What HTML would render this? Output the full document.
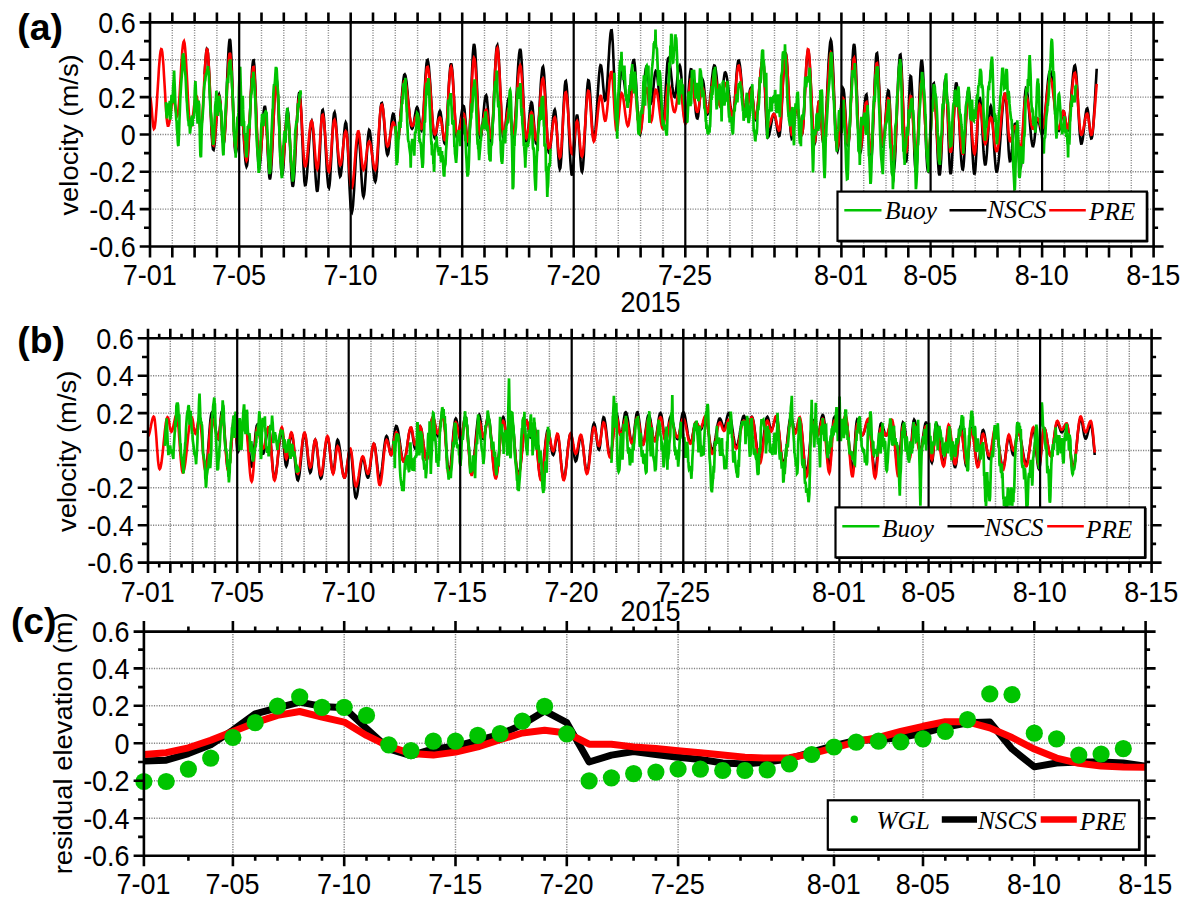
<!DOCTYPE html>
<html lang="en"><head><meta charset="utf-8"><title>Figure</title>
<style>html,body{margin:0;padding:0;background:#fff}svg{display:block}</style></head>
<body>
<svg width="1192" height="910" viewBox="0 0 1192 910" font-family="'Liberation Sans',Arial,Helvetica,sans-serif" fill="#000">
<rect width="1192" height="910" fill="#fff"/>
<g>
<path d="M150.0 59.7H1153.6M150.0 97.1H1153.6M150.0 134.4H1153.6M150.0 171.8H1153.6M150.0 209.1H1153.6M172.3 22.4V246.5M194.6 22.4V246.5M216.9 22.4V246.5M261.5 22.4V246.5M283.8 22.4V246.5M306.1 22.4V246.5M328.4 22.4V246.5M373.0 22.4V246.5M395.3 22.4V246.5M417.6 22.4V246.5M439.9 22.4V246.5M484.5 22.4V246.5M506.8 22.4V246.5M529.1 22.4V246.5M551.4 22.4V246.5M596.0 22.4V246.5M618.3 22.4V246.5M640.6 22.4V246.5M663.0 22.4V246.5M707.6 22.4V246.5M729.9 22.4V246.5M752.2 22.4V246.5M774.5 22.4V246.5M796.8 22.4V246.5M819.1 22.4V246.5M863.7 22.4V246.5M886.0 22.4V246.5M908.3 22.4V246.5M952.9 22.4V246.5M975.2 22.4V246.5M997.5 22.4V246.5M1019.8 22.4V246.5M1064.4 22.4V246.5M1086.7 22.4V246.5M1109.0 22.4V246.5M1131.3 22.4V246.5" stroke="#858585" stroke-width="1.45" stroke-dasharray="1.2 1.3" fill="none"/>
<g fill="none" stroke-linejoin="miter" stroke-miterlimit="3" stroke-linecap="butt" stroke-width="2.6">
<polyline stroke="#000" points="204.6,74.4 205.2,64.8 205.8,56.9 206.3,51.5 206.9,48.8 207.4,49.3 208.0,53.6 208.5,61.5 209.1,72.3 209.7,85.3 210.2,99.3 210.8,113.4 211.3,126.4 211.9,137.2 212.4,145.1 213.0,149.4 213.6,149.9 214.1,147.7 214.7,143.1 215.2,136.7 215.8,129.0 216.3,120.6 216.9,112.4 217.5,105.2 218.0,99.4 218.6,95.7 219.1,94.5 219.7,96.4 220.3,101.7 220.8,109.7 221.4,119.1 221.9,128.6 222.5,136.6 223.0,141.9 223.6,143.8 224.2,141.7 224.7,135.7 225.3,126.3 225.8,114.1 226.4,100.1 226.9,85.4 227.5,71.2 228.1,58.6 228.6,48.5 229.2,41.8 229.7,38.9 230.3,40.5 230.8,47.1 231.4,58.1 232.0,72.5 232.5,89.1 233.1,106.3 233.6,122.5 234.2,136.4 234.7,146.6 235.3,152.2 235.9,152.9 236.4,150.7 237.0,146.3 237.5,140.1 238.1,132.8 238.7,125.2 239.2,118.1 239.8,112.2 240.3,108.2 240.9,106.5 241.4,107.4 242.0,111.1 242.6,117.3 243.1,125.4 243.7,134.6 244.2,144.0 244.8,152.6 245.3,159.7 245.9,164.5 246.5,166.5 247.0,165.5 247.6,161.1 248.1,153.7 248.7,143.7 249.2,131.7 249.8,118.6 250.4,105.1 250.9,92.1 251.5,80.5 252.0,70.9 252.6,64.1 253.1,60.4 253.7,60.2 254.3,64.9 254.8,74.4 255.4,87.8 255.9,103.8 256.5,120.7 257.1,137.0 257.6,151.0 258.2,161.4 258.7,167.1 259.3,167.8 259.8,165.3 260.4,160.2 261.0,153.1 261.5,144.4 262.1,135.1 262.6,125.9 263.2,117.8 263.7,111.4 264.3,107.3 264.9,105.9 265.4,108.1 266.0,114.5 266.5,124.2 267.1,136.2 267.6,148.9 268.2,160.9 268.8,170.7 269.3,177.1 269.9,179.3 270.4,177.5 271.0,172.3 271.5,164.0 272.1,153.3 272.7,140.8 273.2,127.5 273.8,114.3 274.3,102.1 274.9,91.8 275.5,84.1 276.0,79.6 276.6,78.5 277.1,81.8 277.7,89.6 278.2,101.0 278.8,114.9 279.4,130.0 279.9,144.9 280.5,157.9 281.0,168.0 281.6,174.0 282.1,175.5 282.7,173.2 283.3,168.0 283.8,160.4 284.4,151.0 284.9,140.8 285.5,130.8 286.0,122.0 286.6,115.3 287.2,111.2 287.7,110.3 288.3,113.3 288.8,120.5 289.4,130.8 289.9,143.2 290.5,156.2 291.1,168.3 291.6,178.2 292.2,184.5 292.7,186.7 293.3,185.1 293.8,180.4 294.4,172.9 295.0,163.1 295.5,151.7 296.1,139.4 296.6,127.1 297.2,115.7 297.8,105.9 298.3,98.4 298.9,93.7 299.4,92.1 300.0,94.2 300.5,100.3 301.1,110.0 301.7,122.2 302.2,136.0 302.8,150.0 303.3,163.0 303.9,173.9 304.4,181.5 305.0,185.3 305.6,185.2 306.1,182.6 306.7,177.9 307.2,171.4 307.8,163.6 308.3,155.1 308.9,146.4 309.5,138.2 310.0,131.1 310.6,125.6 311.1,122.2 311.7,121.0 312.2,122.7 312.8,127.8 313.4,135.6 313.9,145.5 314.5,156.4 315.0,167.3 315.6,177.2 316.2,185.0 316.7,190.1 317.3,191.8 317.8,189.6 318.4,183.3 318.9,173.5 319.5,161.3 320.1,148.0 320.6,135.0 321.2,123.6 321.7,115.1 322.3,110.4 322.8,109.9 323.4,112.6 324.0,118.2 324.5,126.1 325.1,135.9 325.6,146.6 326.2,157.6 326.7,167.8 327.3,176.6 327.9,183.2 328.4,187.1 329.0,188.0 329.5,185.4 330.1,179.3 330.6,170.5 331.2,159.6 331.8,147.8 332.3,136.2 332.9,126.0 333.4,118.1 334.0,113.4 334.6,112.3 335.1,114.3 335.7,119.1 336.2,126.1 336.8,134.9 337.3,144.4 337.9,154.0 338.5,162.7 339.0,169.8 339.6,174.6 340.1,176.6 340.7,175.8 341.2,172.4 341.8,166.8 342.4,159.5 342.9,151.2 343.5,142.7 344.0,134.9 344.6,128.5 345.1,124.2 345.7,122.4 346.3,123.6 346.8,128.8 347.4,137.6 347.9,149.0 348.5,162.1 349.0,175.8 349.6,188.6 350.2,199.6 350.7,207.7 351.3,212.1 351.8,212.7 352.4,210.3 353.0,205.4 353.5,198.3 354.1,189.6 354.6,179.8 355.2,169.6 355.7,159.6 356.3,150.6 356.9,143.2 357.4,137.8 358.0,134.9 358.5,134.7 359.1,137.9 359.6,144.4 360.2,153.2 360.8,163.5 361.3,174.1 361.9,183.6 362.4,191.1 363.0,195.7 363.5,196.8 364.1,194.7 364.7,189.7 365.2,182.4 365.8,173.3 366.3,163.4 366.9,153.5 367.4,144.4 368.0,137.1 368.6,132.1 369.1,130.0 369.7,130.7 370.2,133.4 370.8,138.1 371.3,144.2 371.9,151.3 372.5,158.8 373.0,166.1 373.6,172.5 374.1,177.4 374.7,180.6 375.3,181.7 375.8,180.3 376.4,176.0 376.9,169.4 377.5,160.7 378.0,150.7 378.6,140.1 379.2,129.6 379.7,120.0 380.3,112.1 380.8,106.4 381.4,103.2 381.9,102.9 382.5,105.0 383.1,109.3 383.6,115.3 384.2,122.6 384.7,130.4 385.3,138.1 385.8,145.0 386.4,150.4 387.0,153.8 387.5,155.0 388.1,154.1 388.6,151.3 389.2,147.0 389.7,141.6 390.3,135.5 390.9,129.3 391.4,123.5 392.0,118.7 392.5,115.4 393.1,113.7 393.7,113.9 394.2,116.3 394.8,120.5 395.3,125.7 395.9,131.1 396.4,135.8 397.0,138.9 397.6,140.1 398.1,139.1 398.7,136.2 399.2,131.5 399.8,125.4 400.3,118.3 400.9,110.4 401.5,102.4 402.0,94.6 402.6,87.6 403.1,81.8 403.7,77.5 404.2,74.9 404.8,74.3 405.4,75.4 405.9,78.0 406.5,81.8 407.0,86.8 407.6,92.7 408.1,99.0 408.7,105.5 409.3,111.7 409.8,117.4 410.4,122.2 410.9,125.8 411.5,128.1 412.1,128.8 412.6,128.2 413.2,126.4 413.7,123.6 414.3,120.2 414.8,116.5 415.4,113.0 416.0,110.1 416.5,108.1 417.1,107.2 417.6,107.8 418.2,110.3 418.7,114.2 419.3,118.9 419.9,123.7 420.4,127.6 421.0,130.1 421.5,130.7 422.1,128.6 422.6,123.7 423.2,116.4 423.8,107.4 424.3,97.3 424.9,87.0 425.4,77.5 426.0,69.4 426.5,63.5 427.1,60.3 427.7,59.9 428.2,61.9 428.8,66.0 429.3,71.9 429.9,79.4 430.5,87.9 431.0,97.1 431.6,106.4 432.1,115.3 432.7,123.2 433.2,129.8 433.8,134.6 434.4,137.5 434.9,138.2 435.5,137.1 436.0,134.5 436.6,130.8 437.1,126.4 437.7,121.8 438.3,117.5 438.8,114.0 439.4,111.7 439.9,110.9 440.5,112.0 441.0,114.9 441.6,119.5 442.2,125.0 442.7,130.8 443.3,136.2 443.8,140.5 444.4,143.1 444.9,143.7 445.5,141.5 446.1,136.4 446.6,128.7 447.2,119.0 447.7,108.1 448.3,96.9 448.8,86.2 449.4,76.9 450.0,69.6 450.5,65.1 451.1,63.5 451.6,65.1 452.2,69.6 452.8,76.8 453.3,86.0 453.9,96.5 454.4,107.3 455.0,117.6 455.5,126.5 456.1,133.2 456.7,137.2 457.2,138.2 457.8,137.3 458.3,135.4 458.9,132.5 459.4,128.8 460.0,124.6 460.6,120.3 461.1,116.1 461.7,112.3 462.2,109.2 462.8,107.0 463.3,106.0 463.9,106.4 464.5,109.3 465.0,114.6 465.6,121.3 466.1,128.7 466.7,135.7 467.2,141.3 467.8,144.8 468.4,145.6 468.9,142.3 469.5,134.8 470.0,123.7 470.6,109.9 471.2,94.8 471.7,79.6 472.3,65.9 472.8,54.7 473.4,47.2 473.9,44.0 474.5,45.1 475.1,49.8 475.6,57.7 476.2,68.2 476.7,80.5 477.3,93.7 477.8,106.6 478.4,118.3 479.0,127.9 479.5,134.6 480.1,137.9 480.6,137.8 481.2,135.7 481.7,131.9 482.3,126.7 482.9,120.6 483.4,114.1 484.0,107.9 484.5,102.5 485.1,98.3 485.6,95.9 486.2,95.3 486.8,97.3 487.3,102.1 487.9,108.9 488.4,116.9 489.0,125.2 489.6,132.6 490.1,138.2 490.7,141.4 491.2,141.6 491.8,138.2 492.3,131.4 492.9,121.5 493.5,109.5 494.0,96.3 494.6,82.8 495.1,70.2 495.7,59.4 496.2,51.2 496.8,46.4 497.4,45.3 497.9,47.8 498.5,53.8 499.0,62.7 499.6,73.9 500.1,86.5 500.7,99.5 501.3,111.9 501.8,122.7 502.4,131.1 502.9,136.4 503.5,138.2 504.0,137.1 504.6,134.1 505.2,129.3 505.7,123.4 506.3,116.9 506.8,110.6 507.4,105.0 508.0,100.9 508.5,98.6 509.1,98.5 509.6,101.5 510.2,107.3 510.7,114.9 511.3,123.1 511.9,130.5 512.4,135.8 513.0,138.1 513.5,137.3 514.1,133.9 514.6,128.1 515.2,120.1 515.8,110.6 516.3,100.1 516.9,89.2 517.4,78.5 518.0,68.8 518.5,60.5 519.1,54.2 519.7,50.3 520.2,48.9 520.8,50.9 521.3,56.6 521.9,65.5 522.4,77.0 523.0,90.0 523.6,103.5 524.1,116.3 524.7,127.3 525.2,135.7 525.8,140.7 526.4,141.9 526.9,140.4 527.5,137.0 528.0,132.0 528.6,125.9 529.1,119.4 529.7,113.2 530.3,108.0 530.8,104.2 531.4,102.3 531.9,102.7 532.5,105.8 533.0,111.2 533.6,118.3 534.2,126.1 534.7,133.4 535.3,139.2 535.8,142.9 536.4,143.7 536.9,141.9 537.5,137.6 538.1,131.0 538.6,122.7 539.2,113.2 539.7,103.2 540.3,93.3 540.8,84.2 541.4,76.6 542.0,70.9 542.5,67.5 543.1,66.7 543.6,69.3 544.2,75.2 544.7,84.1 545.3,95.1 545.9,107.4 546.4,119.9 547.0,131.5 547.5,141.3 548.1,148.5 548.7,152.5 549.2,153.0 549.8,151.2 550.3,147.7 550.9,142.6 551.4,136.6 552.0,130.1 552.6,123.7 553.1,118.0 553.7,113.5 554.2,110.6 554.8,109.6 555.3,111.3 555.9,116.3 556.5,123.9 557.0,133.3 557.6,143.5 558.1,153.1 558.7,161.2 559.2,166.7 559.8,169.1 560.4,167.9 560.9,162.8 561.5,154.3 562.0,143.1 562.6,130.3 563.1,116.9 563.7,104.4 564.3,93.6 564.8,85.7 565.4,81.4 565.9,81.0 566.5,84.3 567.1,91.0 567.6,100.7 568.2,112.4 568.7,125.4 569.3,138.7 569.8,151.0 570.4,161.6 571.0,169.6 571.5,174.3 572.1,175.5 572.6,173.0 573.2,167.3 573.7,159.1 574.3,149.2 574.9,138.9 575.4,129.3 576.0,121.5 576.5,116.4 577.1,114.7 577.6,116.5 578.2,121.6 578.8,129.5 579.3,139.2 579.9,149.3 580.4,158.7 581.0,166.1 581.5,170.6 582.1,171.7 582.7,169.4 583.2,163.9 583.8,155.6 584.3,145.1 584.9,133.3 585.5,120.9 586.0,108.9 586.6,98.1 587.1,89.3 587.7,83.2 588.2,80.2 588.8,80.5 589.4,83.9 589.9,90.2 590.5,98.5 591.0,108.0 591.6,117.8 592.1,126.7 592.7,133.8 593.3,138.5 593.8,140.1 594.4,138.9 594.9,135.3 595.5,129.7 596.0,122.4 596.6,113.8 597.2,104.4 597.7,95.0 598.3,86.0 598.8,78.1 599.4,71.7 599.9,67.3 600.5,65.2 601.1,65.5 601.6,68.4 602.2,73.5 602.7,80.1 603.3,87.1 603.9,93.4 604.4,98.2 605.0,100.6 605.5,100.3 606.1,97.3 606.6,91.8 607.2,84.2 607.8,75.2 608.3,65.4 608.9,55.5 609.4,46.5 610.0,38.9 610.5,33.4 611.1,30.4 611.7,30.3 612.2,34.7 612.8,43.5 613.3,55.7 613.9,69.9 614.4,84.4 615.0,97.6 615.6,107.9 616.1,114.2 616.7,115.7 617.2,113.9 617.8,109.7 618.3,103.7 618.9,96.4 619.5,88.8 620.0,81.7 620.6,76.0 621.1,72.2 621.7,71.0 622.2,71.6 622.8,73.4 623.4,76.3 623.9,79.9 624.5,84.2 625.0,88.6 625.6,92.9 626.2,96.7 626.7,99.8 627.3,101.8 627.8,102.7 628.4,102.1 628.9,99.6 629.5,95.5 630.1,90.0 630.6,83.8 631.2,77.4 631.7,71.2 632.3,66.0 632.8,62.2 633.4,60.1 634.0,60.0 634.5,62.6 635.1,67.9 635.6,75.5 636.2,84.8 636.7,95.0 637.3,105.4 637.9,115.2 638.4,123.5 639.0,129.8 639.5,133.5 640.1,134.4 640.6,132.7 641.2,128.6 641.8,122.5 642.3,114.8 642.9,106.0 643.4,96.9 644.0,88.0 644.6,80.0 645.1,73.6 645.7,69.1 646.2,66.9 646.8,67.1 647.3,69.8 647.9,74.5 648.5,80.7 649.0,87.4 649.6,93.7 650.1,98.8 650.7,101.9 651.2,102.7 651.8,101.1 652.4,97.6 652.9,92.6 653.5,86.8 654.0,81.0 654.6,76.0 655.1,72.5 655.7,71.0 656.3,71.5 656.8,73.6 657.4,77.1 657.9,81.9 658.5,87.7 659.0,94.1 659.6,100.7 660.2,107.2 660.7,113.1 661.3,118.1 661.8,121.9 662.4,124.3 663.0,125.1 663.5,123.3 664.1,118.2 664.6,110.2 665.2,100.2 665.7,89.3 666.3,78.6 666.9,69.3 667.4,62.4 668.0,58.5 668.5,58.0 669.1,59.4 669.6,62.2 670.2,66.1 670.8,71.0 671.3,76.4 671.9,81.9 672.4,87.0 673.0,91.4 673.5,94.7 674.1,96.6 674.7,97.1 675.2,95.8 675.8,92.8 676.3,88.5 676.9,83.4 677.4,78.0 678.0,73.0 678.6,68.9 679.1,66.3 679.7,65.4 680.2,66.7 680.8,70.5 681.4,76.5 681.9,84.2 682.5,92.7 683.0,101.5 683.6,109.6 684.1,116.3 684.7,121.1 685.3,123.4 685.8,123.1 686.4,120.2 686.9,115.0 687.5,108.0 688.0,99.8 688.6,91.2 689.2,83.2 689.7,76.5 690.3,71.7 690.8,69.3 691.4,69.4 691.9,71.5 692.5,75.4 693.1,80.7 693.6,87.0 694.2,93.8 694.7,100.7 695.3,107.0 695.8,112.3 696.4,116.1 697.0,118.2 697.5,118.4 698.1,116.4 698.6,112.4 699.2,106.8 699.7,100.3 700.3,93.7 700.9,87.7 701.4,82.9 702.0,80.1 702.5,79.4 703.1,80.8 703.7,84.0 704.2,88.7 704.8,94.3 705.3,100.1 705.9,105.6 706.4,110.0 707.0,112.9 707.6,113.9 708.1,113.1 708.7,110.9 709.2,107.2 709.8,102.5 710.3,96.9 710.9,90.9 711.5,84.7 712.0,78.9 712.6,73.8 713.1,69.7 713.7,66.9 714.2,65.5 714.8,65.7 715.4,67.5 715.9,71.0 716.5,75.6 717.0,81.2 717.6,87.1 718.1,92.9 718.7,98.2 719.3,102.4 719.8,105.2 720.4,106.4 720.9,105.7 721.5,102.7 722.1,97.9 722.6,91.9 723.2,85.5 723.7,79.7 724.3,75.2 724.8,72.7 725.4,72.4 726.0,73.4 726.5,75.5 727.1,78.6 727.6,82.6 728.2,87.1 728.7,92.0 729.3,97.0 729.9,101.9 730.4,106.3 731.0,110.1 731.5,113.0 732.1,114.9 732.6,115.8 733.2,115.0 733.8,111.8 734.3,106.4 734.9,99.4 735.4,91.4 736.0,83.0 736.5,75.2 737.1,68.4 737.7,63.5 738.2,60.8 738.8,60.5 739.3,62.0 739.9,65.3 740.5,70.0 741.0,75.8 741.6,82.5 742.1,89.4 742.7,96.3 743.2,102.7 743.8,108.1 744.4,112.3 744.9,114.9 745.5,115.8 746.0,115.1 746.6,113.1 747.1,110.0 747.7,106.1 748.3,101.8 748.8,97.4 749.4,93.5 749.9,90.4 750.5,88.4 751.0,87.8 751.6,89.0 752.2,92.4 752.7,97.6 753.3,103.6 753.8,109.7 754.4,114.9 754.9,118.3 755.5,119.5 756.1,118.7 756.6,116.2 757.2,112.2 757.7,107.0 758.3,100.7 758.9,93.9 759.4,86.8 760.0,79.9 760.5,73.5 761.1,68.0 761.6,63.8 762.2,61.0 762.8,59.8 763.3,61.3 763.9,67.5 764.4,77.6 765.0,90.3 765.5,104.1 766.1,117.2 766.7,128.0 767.2,135.0 767.8,137.4 768.3,137.0 768.9,135.6 769.4,133.5 770.0,130.8 770.6,127.6 771.1,124.4 771.7,121.2 772.2,118.3 772.8,116.1 773.3,114.6 773.9,113.9 774.5,114.3 775.0,116.0 775.6,118.7 776.1,122.1 776.7,125.9 777.2,129.6 777.8,132.8 778.4,135.1 778.9,136.2 779.5,135.8 780.0,132.5 780.6,126.4 781.2,118.0 781.7,107.9 782.3,96.8 782.8,85.6 783.4,75.0 783.9,65.9 784.5,58.8 785.1,54.4 785.6,52.8 786.2,54.5 786.7,59.4 787.3,67.2 787.8,77.2 788.4,88.6 789.0,100.6 789.5,112.2 790.1,122.6 790.6,130.8 791.2,136.3 791.7,138.7 792.3,138.1 792.9,135.5 793.4,131.3 794.0,126.0 794.5,120.3 795.1,114.8 795.6,110.4 796.2,107.5 796.8,106.4 797.3,107.2 797.9,109.6 798.4,113.2 799.0,117.6 799.6,122.4 800.1,126.9 800.7,130.7 801.2,133.3 801.8,134.4 802.3,133.4 802.9,129.2 803.5,122.1 804.0,112.8 804.6,101.8 805.1,90.1 805.7,78.6 806.2,68.1 806.8,59.6 807.4,53.6 807.9,50.7 808.5,51.0 809.0,54.7 809.6,61.5 810.1,70.9 810.7,82.2 811.3,94.6 811.8,107.1 812.4,119.0 812.9,129.2 813.5,137.1 814.0,142.1 814.6,143.8 815.2,142.2 815.7,137.5 816.3,130.5 816.8,122.3 817.4,114.1 818.0,107.1 818.5,102.5 819.1,100.8 819.6,102.5 820.2,107.1 820.7,114.1 821.3,122.3 821.9,130.5 822.4,137.5 823.0,142.2 823.5,143.8 824.1,142.3 824.6,138.0 825.2,131.1 825.8,122.0 826.3,111.2 826.9,99.3 827.4,87.0 828.0,75.0 828.5,63.9 829.1,54.5 829.7,47.1 830.2,42.2 830.8,40.2 831.3,41.4 831.9,46.6 832.4,55.4 833.0,67.1 833.6,80.8 834.1,95.7 834.7,110.6 835.2,124.3 835.8,136.0 836.4,144.8 836.9,150.0 837.5,151.2 838.0,149.2 838.6,144.5 839.1,137.6 839.7,129.1 840.3,119.7 840.8,110.3 841.4,101.8 841.9,94.9 842.5,90.2 843.0,88.2 843.6,89.3 844.2,93.9 844.7,101.5 845.3,111.1 845.8,121.4 846.4,131.2 846.9,139.3 847.5,144.6 848.1,146.4 848.6,144.2 849.2,138.0 849.7,128.1 850.3,115.4 850.8,101.1 851.4,86.2 852.0,72.1 852.5,60.0 853.1,50.7 853.6,45.3 854.2,44.0 854.8,47.2 855.3,54.7 855.9,65.9 856.4,79.8 857.0,95.3 857.5,111.1 858.1,125.8 858.7,138.2 859.2,147.3 859.8,152.3 860.3,152.9 860.9,150.9 861.4,146.7 862.0,140.8 862.6,133.5 863.1,125.4 863.7,117.3 864.2,109.6 864.8,103.1 865.3,98.1 865.9,95.2 866.5,94.6 867.0,98.2 867.6,106.4 868.1,118.0 868.7,131.1 869.2,143.9 869.8,154.3 870.4,160.8 870.9,162.4 871.5,159.2 872.0,151.6 872.6,140.4 873.1,126.4 873.7,110.8 874.3,95.0 874.8,80.2 875.4,67.8 875.9,58.7 876.5,53.7 877.1,53.2 877.6,57.0 878.2,64.7 878.7,75.7 879.3,88.9 879.8,103.0 880.4,117.0 881.0,129.4 881.5,139.1 882.1,145.4 882.6,147.5 883.2,146.2 883.7,142.4 884.3,136.5 884.9,129.0 885.4,120.6 886.0,112.0 886.5,104.0 887.1,97.4 887.6,92.7 888.2,90.4 888.8,91.0 889.3,96.1 889.9,105.2 890.4,117.3 891.0,131.0 891.5,144.7 892.1,156.7 892.7,165.9 893.2,170.9 893.8,171.5 894.3,167.9 894.9,160.6 895.5,150.0 896.0,136.9 896.6,122.2 897.1,106.8 897.7,91.9 898.2,78.4 898.8,67.3 899.4,59.2 899.9,54.9 900.5,54.5 901.0,58.9 901.6,67.8 902.1,80.3 902.7,95.3 903.3,111.6 903.8,127.5 904.4,141.7 904.9,152.9 905.5,160.0 906.0,162.5 906.6,159.5 907.2,150.9 907.7,137.9 908.3,122.3 908.8,106.2 909.4,92.0 909.9,81.4 910.5,76.1 911.1,76.6 911.6,82.6 912.2,93.4 912.7,107.6 913.3,123.7 913.9,139.8 914.4,154.1 915.0,164.8 915.5,170.8 916.1,171.4 916.6,166.9 917.2,157.7 917.8,144.8 918.3,129.2 918.9,112.4 919.4,95.9 920.0,81.2 920.5,69.7 921.1,62.3 921.7,59.7 922.2,61.8 922.8,67.8 923.3,77.2 923.9,89.5 924.4,103.7 925.0,118.8 925.6,133.7 926.1,147.2 926.7,158.5 927.2,166.6 927.8,171.1 928.3,171.5 928.9,167.6 929.5,159.8 930.0,148.8 930.6,135.8 931.1,121.9 931.7,108.6 932.3,97.1 932.8,88.6 933.4,83.9 933.9,83.4 934.5,87.2 935.0,94.7 935.6,105.4 936.2,118.3 936.7,132.1 937.3,145.7 937.8,157.8 938.4,167.4 938.9,173.4 939.5,175.5 940.1,173.5 940.6,167.5 941.2,158.2 941.7,146.2 942.3,132.6 942.8,118.5 943.4,105.2 944.0,93.7 944.5,84.9 945.1,79.7 945.6,78.5 946.2,82.4 946.7,91.3 947.3,104.3 947.9,119.8 948.4,136.1 949.0,151.2 949.5,163.5 950.1,171.5 950.6,174.2 951.2,172.0 951.8,165.5 952.3,155.3 952.9,142.5 953.4,128.4 954.0,114.2 954.6,101.4 955.1,91.3 955.7,84.8 956.2,82.5 956.8,84.1 957.3,88.8 957.9,96.2 958.5,105.8 959.0,116.8 959.6,128.6 960.1,140.2 960.7,150.8 961.2,159.5 961.8,165.9 962.4,169.4 962.9,169.6 963.5,166.4 964.0,159.8 964.6,150.6 965.1,139.4 965.7,127.4 966.3,115.5 966.8,105.0 967.4,96.7 967.9,91.4 968.5,89.6 969.0,91.4 969.6,96.6 970.2,104.8 970.7,115.3 971.3,127.2 971.8,139.5 972.4,151.2 973.0,161.3 973.5,168.9 974.1,173.5 974.6,174.5 975.2,171.4 975.7,164.2 976.3,153.7 976.9,141.1 977.4,128.0 978.0,115.7 978.5,105.8 979.1,99.3 979.6,97.1 980.2,98.8 980.8,103.6 981.3,111.1 981.9,120.6 982.4,131.2 983.0,141.7 983.5,151.2 984.1,158.8 984.7,163.6 985.2,165.3 985.8,163.8 986.3,159.6 986.9,153.0 987.4,144.7 988.0,135.6 988.6,126.4 989.1,118.1 989.7,111.5 990.2,107.3 990.8,105.9 991.4,107.4 991.9,111.7 992.5,118.5 993.0,127.2 993.6,136.8 994.1,146.7 994.7,155.9 995.3,163.5 995.8,168.9 996.4,171.6 996.9,171.5 997.5,169.7 998.0,166.3 998.6,161.4 999.2,155.4 999.7,148.3 1000.3,140.6 1000.8,132.6 1001.4,124.5 1001.9,116.8 1002.5,109.8 1003.1,103.7 1003.6,98.9 1004.2,95.5 1004.7,93.7 1005.3,93.7 1005.8,97.5 1006.4,105.1 1007.0,115.5 1007.5,127.4 1008.1,139.4 1008.6,149.8 1009.2,157.4 1009.8,161.2 1010.3,161.1 1010.9,158.8 1011.4,154.5 1012.0,148.9 1012.5,142.6 1013.1,136.2 1013.7,130.6 1014.2,126.4 1014.8,124.0 1015.3,123.8 1015.9,125.9 1016.4,130.1 1017.0,136.0 1017.6,142.9 1018.1,150.2 1018.7,157.0 1019.2,162.6 1019.8,166.4 1020.3,168.0 1020.9,166.8 1021.5,161.8 1022.0,153.6 1022.6,142.8 1023.1,130.6 1023.7,118.2 1024.2,106.7 1024.8,97.3 1025.4,90.9 1025.9,88.2 1026.5,88.7 1027.0,91.1 1027.6,95.2 1028.1,100.6 1028.7,107.2 1029.3,114.3 1029.8,121.7 1030.4,128.8 1030.9,135.1 1031.5,140.3 1032.1,144.0 1032.6,146.1 1033.2,146.2 1033.7,144.5 1034.3,141.2 1034.8,136.6 1035.4,131.4 1036.0,126.5 1036.5,122.3 1037.1,119.5 1037.6,118.6 1038.2,119.2 1038.7,120.9 1039.3,123.5 1039.9,126.5 1040.4,129.6 1041.0,132.1 1041.5,133.8 1042.1,134.4 1042.6,133.7 1043.2,131.5 1043.8,127.9 1044.3,123.1 1044.9,117.4 1045.4,110.9 1046.0,104.1 1046.5,97.2 1047.1,90.6 1047.7,84.5 1048.2,79.3 1048.8,75.2 1049.3,72.4 1049.9,71.1 1050.5,71.2 1051.0,72.6 1051.6,75.2 1052.1,78.9 1052.7,83.6 1053.2,88.9 1053.8,94.9 1054.4,101.0 1054.9,107.2 1055.5,113.1 1056.0,118.5 1056.6,123.1 1057.1,126.9 1057.7,129.5 1058.3,130.9 1058.8,131.0 1059.4,129.9 1059.9,127.6 1060.5,124.5 1061.0,121.0 1061.6,117.5 1062.2,114.4 1062.7,112.2 1063.3,111.0 1063.8,111.3 1064.4,113.2 1064.9,116.6 1065.5,120.8 1066.1,125.0 1066.6,128.4 1067.2,130.4 1067.7,130.6 1068.3,128.9 1068.9,125.5 1069.4,120.6 1070.0,114.4 1070.5,107.2 1071.1,99.6 1071.6,91.8 1072.2,84.5 1072.8,77.8 1073.3,72.3 1073.9,68.3 1074.4,65.9 1075.0,65.4 1075.5,67.4 1076.1,72.1 1076.7,79.2 1077.2,88.1 1077.8,98.2 1078.3,108.8 1078.9,119.1 1079.4,128.3 1080.0,135.8 1080.6,141.0 1081.1,143.6 1081.7,143.5 1082.2,141.8 1082.8,138.6 1083.3,134.3 1083.9,129.2 1084.5,123.9 1085.0,118.8 1085.6,114.3 1086.1,110.9 1086.7,108.8 1087.3,108.4 1087.8,110.1 1088.4,114.2 1088.9,119.8 1089.5,126.0 1090.0,131.8 1090.6,136.3 1091.2,138.5 1091.7,138.3 1092.3,135.9 1092.8,131.3 1093.4,124.8 1093.9,116.8 1094.5,107.6 1095.1,97.7 1095.6,87.6 1096.2,77.8 1096.7,68.8"/>
<polyline stroke="#ff0000" points="150.0,97.1 150.6,98.6 151.1,102.8 151.7,108.9 152.2,115.7 152.8,122.1 153.3,126.7 153.9,128.8 154.5,128.1 155.0,125.2 155.6,120.3 156.1,113.6 156.7,105.5 157.2,96.4 157.8,87.0 158.4,77.6 158.9,68.9 159.5,61.3 160.0,55.3 160.6,51.1 161.2,49.1 161.7,49.4 162.3,52.3 162.8,57.5 163.4,64.8 163.9,73.7 164.5,83.5 165.1,93.5 165.6,103.2 166.2,111.8 166.7,118.7 167.3,123.5 167.8,125.8 168.4,125.8 169.0,124.2 169.5,121.4 170.1,117.7 170.6,113.4 171.2,109.0 171.7,105.0 172.3,101.8 172.9,99.7 173.4,99.0 174.0,99.8 174.5,102.3 175.1,105.8 175.6,109.7 176.2,113.0 176.8,115.2 177.3,115.7 177.9,113.9 178.4,109.7 179.0,103.4 179.6,95.4 180.1,86.2 180.7,76.5 181.2,66.9 181.8,58.1 182.3,50.7 182.9,45.1 183.5,41.9 184.0,41.1 184.6,43.2 185.1,48.0 185.7,55.3 186.2,64.5 186.8,75.1 187.4,86.3 187.9,97.3 188.5,107.4 189.0,115.9 189.6,122.3 190.1,126.0 190.7,127.0 191.3,126.0 191.8,123.7 192.4,120.2 192.9,116.0 193.5,111.4 194.0,106.7 194.6,102.5 195.2,99.1 195.7,96.8 196.3,95.8 196.8,96.7 197.4,100.2 197.9,105.7 198.5,112.3 199.1,119.0 199.6,124.5 200.2,128.0 200.7,128.8 201.3,126.8 201.9,122.0 202.4,114.8 203.0,105.7 203.5,95.3 204.1,84.6 204.6,74.1 205.2,64.7 205.8,57.1 206.3,51.8 206.9,49.2 207.4,49.6 208.0,53.7 208.5,61.2 209.1,71.6 209.7,83.9 210.2,97.3 210.8,110.7 211.3,123.0 211.9,133.4 212.4,140.9 213.0,145.0 213.6,145.5 214.1,143.5 214.7,139.5 215.2,133.9 215.8,127.2 216.3,119.9 216.9,112.8 217.5,106.4 218.0,101.4 218.6,98.2 219.1,97.1 219.7,98.8 220.3,103.7 220.8,110.9 221.4,119.5 221.9,128.1 222.5,135.4 223.0,140.2 223.6,141.9 224.2,140.2 224.7,135.1 225.3,127.1 225.8,116.7 226.4,104.8 226.9,92.4 227.5,80.3 228.1,69.6 228.6,61.1 229.2,55.3 229.7,52.9 230.3,54.2 230.8,59.8 231.4,69.1 232.0,81.3 232.5,95.3 233.1,109.8 233.6,123.5 234.2,135.3 234.7,143.9 235.3,148.6 235.9,149.2 236.4,147.3 237.0,143.4 237.5,137.9 238.1,131.5 238.7,124.8 239.2,118.6 239.8,113.4 240.3,109.9 240.9,108.3 241.4,109.1 242.0,112.4 242.6,117.8 243.1,124.8 243.7,132.8 244.2,141.0 244.8,148.5 245.3,154.6 245.9,158.8 246.5,160.5 247.0,159.6 247.6,155.8 248.1,149.3 248.7,140.5 249.2,129.9 249.8,118.4 250.4,106.5 250.9,95.1 251.5,84.9 252.0,76.5 252.6,70.5 253.1,67.2 253.7,67.0 254.3,71.2 254.8,79.6 255.4,91.5 255.9,105.6 256.5,120.6 257.1,135.0 257.6,147.4 258.2,156.5 258.7,161.6 259.3,162.3 259.8,160.3 260.4,156.4 261.0,150.7 261.5,144.0 262.1,136.7 262.6,129.6 263.2,123.2 263.7,118.2 264.3,115.0 264.9,113.9 265.4,115.6 266.0,120.5 266.5,127.9 267.1,137.1 267.6,146.8 268.2,155.9 268.8,163.4 269.3,168.2 269.9,169.9 270.4,168.4 271.0,164.0 271.5,156.9 272.1,147.8 272.7,137.2 273.2,125.8 273.8,114.6 274.3,104.2 274.9,95.4 275.5,88.9 276.0,85.0 276.6,84.1 277.1,87.0 277.7,93.7 278.2,103.5 278.8,115.6 279.4,128.7 279.9,141.5 280.5,152.8 281.0,161.5 281.6,166.7 282.1,168.0 282.7,166.2 283.3,162.1 283.8,155.9 284.4,148.4 284.9,140.3 285.5,132.3 286.0,125.3 286.6,119.8 287.2,116.6 287.7,115.8 288.3,118.2 288.8,123.6 289.4,131.4 289.9,140.8 290.5,150.6 291.1,159.8 291.6,167.2 292.2,172.0 292.7,173.7 293.3,172.4 293.8,168.5 294.4,162.5 295.0,154.5 295.5,145.3 296.1,135.4 296.6,125.5 297.2,116.2 297.8,108.3 298.3,102.2 298.9,98.4 299.4,97.1 300.0,98.7 300.5,103.2 301.1,110.4 301.7,119.5 302.2,129.7 302.8,140.1 303.3,149.8 303.9,157.8 304.4,163.5 305.0,166.3 305.6,166.3 306.1,164.5 306.7,161.2 307.2,156.6 307.8,151.1 308.3,145.0 308.9,138.9 309.5,133.1 310.0,128.1 310.6,124.3 311.1,121.8 311.7,121.0 312.2,122.2 312.8,125.6 313.4,130.9 313.9,137.7 314.5,145.1 315.0,152.5 315.6,159.3 316.2,164.6 316.7,168.0 317.3,169.2 317.8,167.7 318.4,163.6 318.9,157.1 319.5,149.0 320.1,140.1 320.6,131.5 321.2,123.9 321.7,118.3 322.3,115.2 322.8,114.8 323.4,116.8 324.0,120.9 324.5,126.7 325.1,133.8 325.6,141.6 326.2,149.6 326.7,157.0 327.3,163.4 327.9,168.2 328.4,171.1 329.0,171.7 329.5,170.0 330.1,165.8 330.6,159.7 331.2,152.2 331.8,144.1 332.3,136.2 332.9,129.1 333.4,123.8 334.0,120.5 334.6,119.7 335.1,121.2 335.7,124.5 336.2,129.5 336.8,135.7 337.3,142.5 337.9,149.3 338.5,155.4 339.0,160.4 339.6,163.8 340.1,165.2 340.7,164.7 341.2,162.6 341.8,159.1 342.4,154.5 342.9,149.2 343.5,143.9 344.0,139.0 344.6,135.0 345.1,132.3 345.7,131.1 346.3,131.9 346.8,135.2 347.4,140.7 347.9,147.9 348.5,156.1 349.0,164.7 349.6,172.8 350.2,179.7 350.7,184.8 351.3,187.6 351.8,187.9 352.4,186.2 353.0,182.6 353.5,177.5 354.1,171.2 354.6,164.0 355.2,156.6 355.7,149.4 356.3,142.8 356.9,137.4 357.4,133.6 358.0,131.4 358.5,131.3 359.1,133.3 359.6,137.3 360.2,142.8 360.8,149.2 361.3,155.8 361.9,161.7 362.4,166.4 363.0,169.2 363.5,169.9 364.1,169.0 364.7,166.9 365.2,163.8 365.8,159.9 366.3,155.6 366.9,151.4 367.4,147.5 368.0,144.4 368.6,142.3 369.1,141.4 369.7,141.7 370.2,143.3 370.8,145.8 371.3,149.2 371.9,153.2 372.5,157.3 373.0,161.3 373.6,164.8 374.1,167.6 374.7,169.3 375.3,169.9 375.8,168.7 376.4,165.3 376.9,159.7 377.5,152.6 378.0,144.3 378.6,135.5 379.2,126.8 379.7,118.9 380.3,112.3 380.8,107.6 381.4,105.0 381.9,104.7 382.5,106.4 383.1,109.8 383.6,114.7 384.2,120.5 384.7,126.7 385.3,132.9 385.8,138.4 386.4,142.7 387.0,145.5 387.5,146.4 388.1,145.9 388.6,144.3 389.2,141.8 389.7,138.6 390.3,135.1 390.9,131.5 391.4,128.1 392.0,125.3 392.5,123.4 393.1,122.4 393.7,122.6 394.2,124.0 394.8,126.5 395.3,129.6 395.9,132.8 396.4,135.6 397.0,137.5 397.6,138.2 398.1,137.3 398.7,134.8 399.2,130.7 399.8,125.4 400.3,119.1 400.9,112.2 401.5,105.2 402.0,98.4 402.6,92.3 403.1,87.2 403.7,83.4 404.2,81.2 404.8,80.7 405.4,81.6 405.9,83.7 406.5,86.9 407.0,91.1 407.6,95.9 408.1,101.2 408.7,106.6 409.3,111.8 409.8,116.5 410.4,120.5 410.9,123.5 411.5,125.4 412.1,126.0 412.6,125.7 413.2,124.8 413.7,123.3 414.3,121.5 414.8,119.6 415.4,117.7 416.0,116.2 416.5,115.1 417.1,114.7 417.6,115.0 418.2,116.5 418.7,118.9 419.3,121.8 419.9,124.6 420.4,127.0 421.0,128.5 421.5,128.8 422.1,127.0 422.6,122.7 423.2,116.3 423.8,108.4 424.3,99.6 424.9,90.6 425.4,82.2 426.0,75.1 426.5,70.0 427.1,67.1 427.7,66.8 428.2,68.5 428.8,72.0 429.3,77.2 429.9,83.6 430.5,91.0 431.0,98.9 431.6,107.0 432.1,114.6 432.7,121.5 433.2,127.2 433.8,131.4 434.4,133.8 434.9,134.4 435.5,133.7 436.0,132.1 436.6,129.8 437.1,127.0 437.7,124.1 438.3,121.4 438.8,119.2 439.4,117.8 439.9,117.3 440.5,118.0 441.0,120.1 441.6,123.2 442.2,127.0 442.7,131.1 443.3,134.8 443.8,137.8 444.4,139.6 444.9,140.0 445.5,138.0 446.1,133.3 446.6,126.2 447.2,117.4 447.7,107.5 448.3,97.2 448.8,87.4 449.4,78.9 450.0,72.3 450.5,68.1 451.1,66.7 451.6,68.1 452.2,72.2 452.8,78.8 453.3,87.1 453.9,96.6 454.4,106.4 455.0,115.8 455.5,123.8 456.1,129.9 456.7,133.5 457.2,134.4 457.8,133.9 458.3,132.6 458.9,130.8 459.4,128.4 460.0,125.7 460.6,122.9 461.1,120.1 461.7,117.7 462.2,115.7 462.8,114.3 463.3,113.6 463.9,113.9 464.5,116.0 465.0,119.7 465.6,124.6 466.1,129.8 466.7,134.8 467.2,138.8 467.8,141.3 468.4,141.8 468.9,139.2 469.5,133.0 470.0,123.8 470.6,112.4 471.2,99.9 471.7,87.4 472.3,76.0 472.8,66.8 473.4,60.6 473.9,58.0 474.5,58.8 475.1,62.7 475.6,69.1 476.2,77.6 476.7,87.6 477.3,98.3 477.8,108.8 478.4,118.3 479.0,126.1 479.5,131.5 480.1,134.2 480.6,134.2 481.2,133.0 481.7,130.8 482.3,127.8 482.9,124.3 483.4,120.5 484.0,116.9 484.5,113.8 485.1,111.4 485.6,110.0 486.2,109.6 486.8,110.9 487.3,113.8 487.9,118.0 488.4,122.9 489.0,127.9 489.6,132.5 490.1,135.9 490.7,137.9 491.2,137.9 491.8,134.7 492.3,128.3 492.9,119.1 493.5,107.9 494.0,95.5 494.6,82.9 495.1,71.1 495.7,61.0 496.2,53.4 496.8,48.9 497.4,47.9 497.9,50.2 498.5,55.8 499.0,64.1 499.6,74.5 500.1,86.3 500.7,98.4 501.3,109.9 501.8,120.0 502.4,127.8 502.9,132.8 503.5,134.4 504.0,133.8 504.6,131.7 505.2,128.6 505.7,124.8 506.3,120.5 506.8,116.4 507.4,112.8 508.0,110.1 508.5,108.6 509.1,108.5 509.6,110.4 510.2,114.2 510.7,119.2 511.3,124.6 511.9,129.4 512.4,132.9 513.0,134.4 513.5,133.8 514.1,131.1 514.6,126.6 515.2,120.5 515.8,113.1 516.3,105.0 516.9,96.5 517.4,88.3 518.0,80.7 518.5,74.3 519.1,69.4 519.7,66.4 520.2,65.4 520.8,66.9 521.3,71.3 521.9,78.4 522.4,87.3 523.0,97.5 523.6,108.1 524.1,118.1 524.7,126.8 525.2,133.3 525.8,137.2 526.4,138.2 526.9,137.2 527.5,135.0 528.0,131.7 528.6,127.7 529.1,123.5 529.7,119.5 530.3,116.0 530.8,113.6 531.4,112.3 531.9,112.6 532.5,114.6 533.0,118.3 533.6,123.0 534.2,128.2 534.7,133.1 535.3,137.0 535.8,139.4 536.4,140.0 536.9,138.5 537.5,135.1 538.1,129.9 538.6,123.2 539.2,115.6 539.7,107.6 540.3,99.7 540.8,92.5 541.4,86.3 542.0,81.8 542.5,79.1 543.1,78.5 543.6,80.5 544.2,85.4 544.7,92.6 545.3,101.6 545.9,111.6 546.4,121.7 547.0,131.2 547.5,139.2 548.1,145.1 548.7,148.3 549.2,148.7 549.8,147.4 550.3,144.9 550.9,141.2 551.4,136.8 552.0,132.1 552.6,127.5 553.1,123.3 553.7,120.1 554.2,118.0 554.8,117.3 555.3,118.4 555.9,121.8 556.5,127.0 557.0,133.4 557.6,140.3 558.1,146.9 558.7,152.3 559.2,156.1 559.8,157.7 560.4,156.8 560.9,153.1 561.5,146.7 562.0,138.4 562.6,128.9 563.1,119.0 563.7,109.7 564.3,101.7 564.8,95.8 565.4,92.6 565.9,92.3 566.5,94.4 567.1,98.8 567.6,105.1 568.2,112.8 568.7,121.2 569.3,129.8 569.8,137.9 570.4,144.8 571.0,150.0 571.5,153.1 572.1,153.8 572.6,152.5 573.2,149.4 573.7,145.0 574.3,139.7 574.9,134.1 575.4,128.9 576.0,124.7 576.5,122.0 577.1,121.0 577.6,122.1 578.2,125.3 578.8,130.2 579.3,136.2 579.9,142.5 580.4,148.3 581.0,152.9 581.5,155.8 582.1,156.4 582.7,154.8 583.2,150.8 583.8,144.9 584.3,137.4 584.9,128.9 585.5,120.1 586.0,111.5 586.6,103.7 587.1,97.5 587.7,93.1 588.2,90.9 588.8,91.2 589.4,94.1 589.9,99.4 590.5,106.4 591.0,114.4 591.6,122.6 592.1,130.1 592.7,136.1 593.3,140.0 593.8,141.4 594.4,140.6 594.9,138.5 595.5,135.1 596.0,130.6 596.6,125.4 597.2,119.7 597.7,114.0 598.3,108.5 598.8,103.7 599.4,99.9 599.9,97.2 600.5,95.9 601.1,96.1 601.6,98.2 602.2,101.8 602.7,106.4 603.3,111.3 603.9,115.8 604.4,119.1 605.0,120.8 605.5,120.7 606.1,118.6 606.6,114.7 607.2,109.5 607.8,103.2 608.3,96.4 608.9,89.5 609.4,83.2 610.0,78.0 610.5,74.1 611.1,72.1 611.7,72.0 612.2,75.0 612.8,81.1 613.3,89.6 613.9,99.4 614.4,109.4 615.0,118.5 615.6,125.7 616.1,130.0 616.7,131.0 617.2,129.5 617.8,126.0 618.3,120.9 618.9,114.8 619.5,108.4 620.0,102.4 620.6,97.6 621.1,94.5 621.7,93.4 622.2,94.0 622.8,95.9 623.4,98.8 623.9,102.6 624.5,107.0 625.0,111.5 625.6,116.0 626.2,119.9 626.7,123.0 627.3,125.1 627.8,126.0 628.4,125.4 628.9,122.9 629.5,118.8 630.1,113.4 630.6,107.2 631.2,100.7 631.7,94.6 632.3,89.4 632.8,85.6 633.4,83.4 634.0,83.2 634.5,85.0 635.1,88.5 635.6,93.5 636.2,99.7 636.7,106.5 637.3,113.3 637.9,119.8 638.4,125.3 639.0,129.5 639.5,132.0 640.1,132.5 640.6,131.4 641.2,128.7 641.8,124.7 642.3,119.6 642.9,113.8 643.4,107.7 644.0,101.9 644.6,96.6 645.1,92.3 645.7,89.4 646.2,87.9 646.8,88.2 647.3,90.7 647.9,95.1 648.5,100.8 649.0,107.1 649.6,113.0 650.1,117.7 650.7,120.6 651.2,121.3 651.8,119.8 652.4,116.3 652.9,111.3 653.5,105.5 654.0,99.7 654.6,94.7 655.1,91.2 655.7,89.7 656.3,90.0 656.8,91.5 657.4,94.1 657.9,97.6 658.5,101.7 659.0,106.4 659.6,111.2 660.2,115.8 660.7,120.1 661.3,123.8 661.8,126.5 662.4,128.3 663.0,128.8 663.5,127.7 664.1,124.2 664.6,118.9 665.2,112.2 665.7,105.0 666.3,97.9 666.9,91.7 667.4,87.0 668.0,84.5 668.5,84.1 669.1,85.1 669.6,87.1 670.2,89.9 670.8,93.4 671.3,97.2 671.9,101.2 672.4,104.8 673.0,107.9 673.5,110.3 674.1,111.7 674.7,112.0 675.2,111.0 675.8,108.8 676.3,105.5 676.9,101.6 677.4,97.4 678.0,93.6 678.6,90.5 679.1,88.5 679.7,87.8 680.2,88.6 680.8,90.9 681.4,94.6 681.9,99.3 682.5,104.6 683.0,110.0 683.6,115.0 684.1,119.1 684.7,122.0 685.3,123.5 685.8,123.2 686.4,120.9 686.9,116.6 687.5,110.9 688.0,104.3 688.6,97.3 689.2,90.8 689.7,85.4 690.3,81.5 690.8,79.5 691.4,79.6 691.9,81.0 692.5,83.5 693.1,87.0 693.6,91.2 694.2,95.7 694.7,100.2 695.3,104.4 695.8,107.9 696.4,110.4 697.0,111.8 697.5,111.9 698.1,110.7 698.6,108.2 699.2,104.7 699.7,100.7 700.3,96.6 700.9,92.9 701.4,90.0 702.0,88.2 702.5,87.8 703.1,88.8 703.7,91.0 704.2,94.3 704.8,98.2 705.3,102.4 705.9,106.2 706.4,109.3 707.0,111.3 707.6,112.0 708.1,111.4 708.7,109.7 709.2,106.9 709.8,103.2 710.3,99.0 710.9,94.3 711.5,89.6 712.0,85.1 712.6,81.2 713.1,78.0 713.7,75.9 714.2,74.8 714.8,74.9 715.4,76.4 715.9,79.0 716.5,82.6 717.0,86.9 717.6,91.5 718.1,96.0 718.7,100.0 719.3,103.3 719.8,105.5 720.4,106.4 720.9,105.9 721.5,103.9 722.1,100.6 722.6,96.5 723.2,92.2 723.7,88.2 724.3,85.1 724.8,83.4 725.4,83.2 726.0,83.9 726.5,85.5 727.1,87.9 727.6,90.8 728.2,94.2 728.7,97.9 729.3,101.7 729.9,105.3 730.4,108.7 731.0,111.5 731.5,113.7 732.1,115.2 732.6,115.8 733.2,115.0 733.8,112.1 734.3,107.3 734.9,100.9 735.4,93.6 736.0,86.0 736.5,78.8 737.1,72.7 737.7,68.2 738.2,65.8 738.8,65.5 739.3,66.9 739.9,69.9 740.5,74.1 741.0,79.5 741.6,85.5 742.1,91.8 742.7,98.1 743.2,103.9 743.8,108.8 744.4,112.6 744.9,115.0 745.5,115.8 746.0,115.1 746.6,113.3 747.1,110.4 747.7,106.7 748.3,102.7 748.8,98.7 749.4,95.0 749.9,92.1 750.5,90.3 751.0,89.6 751.6,90.7 752.2,93.7 752.7,98.3 753.3,103.6 753.8,109.0 754.4,113.5 754.9,116.6 755.5,117.6 756.1,116.8 756.6,114.4 757.2,110.6 757.7,105.5 758.3,99.5 758.9,92.8 759.4,85.9 760.0,79.2 760.5,73.0 761.1,67.7 761.6,63.6 762.2,60.9 762.8,59.8 763.3,61.1 763.9,66.5 764.4,75.2 765.0,86.2 765.5,98.1 766.1,109.5 766.7,118.8 767.2,124.9 767.8,127.0 768.3,126.7 768.9,126.0 769.4,124.8 770.0,123.3 770.6,121.5 771.1,119.7 771.7,117.9 772.2,116.4 772.8,115.1 773.3,114.3 773.9,113.9 774.5,114.2 775.0,115.4 775.6,117.5 776.1,120.0 776.7,122.9 777.2,125.7 777.8,128.0 778.4,129.8 778.9,130.6 779.5,130.2 780.0,127.2 780.6,121.6 781.2,113.9 781.7,104.7 782.3,94.5 782.8,84.2 783.4,74.5 783.9,66.1 784.5,59.6 785.1,55.5 785.6,54.1 786.2,55.7 786.7,60.3 787.3,67.5 787.8,76.9 788.4,87.6 789.0,98.8 789.5,109.7 790.1,119.3 790.6,127.0 791.2,132.2 791.7,134.4 792.3,133.9 792.9,131.7 793.4,128.0 794.0,123.4 794.5,118.5 795.1,113.7 795.6,109.9 796.2,107.3 796.8,106.4 797.3,107.2 797.9,109.6 798.4,113.2 799.0,117.6 799.6,122.4 800.1,126.9 800.7,130.7 801.2,133.3 801.8,134.4 802.3,133.4 802.9,129.1 803.5,121.9 804.0,112.4 804.6,101.2 805.1,89.3 805.7,77.6 806.2,66.9 806.8,58.2 807.4,52.2 807.9,49.2 808.5,49.5 809.0,53.2 809.6,60.0 810.1,69.3 810.7,80.6 811.3,92.9 811.8,105.4 812.4,117.2 812.9,127.4 813.5,135.3 814.0,140.2 814.6,141.9 815.2,140.4 815.7,135.9 816.3,129.2 816.8,121.4 817.4,113.5 818.0,106.9 818.5,102.4 819.1,100.8 819.6,102.4 820.2,106.9 820.7,113.5 821.3,121.4 821.9,129.2 822.4,135.9 823.0,140.4 823.5,141.9 824.1,140.7 824.6,137.0 825.2,131.0 825.8,123.2 826.3,113.9 826.9,103.7 827.4,93.1 828.0,82.8 828.5,73.3 829.1,65.1 829.7,58.8 830.2,54.6 830.8,52.9 831.3,53.9 831.9,58.4 832.4,65.8 833.0,75.8 833.6,87.5 834.1,100.2 834.7,112.8 835.2,124.6 835.8,134.6 836.4,142.0 836.9,146.4 837.5,147.5 838.0,145.9 838.6,142.3 839.1,136.9 839.7,130.2 840.3,122.9 840.8,115.5 841.4,108.9 841.9,103.5 842.5,99.8 843.0,98.3 843.6,99.1 844.2,102.8 844.7,108.7 845.3,116.2 845.8,124.2 846.4,131.9 846.9,138.2 847.5,142.4 848.1,143.8 848.6,142.0 849.2,136.7 849.7,128.4 850.3,117.8 850.8,105.8 851.4,93.4 852.0,81.6 852.5,71.4 853.1,63.6 853.6,59.0 854.2,58.0 854.8,60.6 855.3,66.9 855.9,76.3 856.4,88.0 857.0,101.0 857.5,114.2 858.1,126.5 858.7,136.9 859.2,144.5 859.8,148.7 860.3,149.2 860.9,147.6 861.4,144.2 862.0,139.4 862.6,133.6 863.1,127.1 863.7,120.5 864.2,114.3 864.8,109.1 865.3,105.1 865.9,102.7 866.5,102.2 867.0,104.9 867.6,111.1 868.1,119.8 868.7,129.6 869.2,139.2 869.8,147.0 870.4,151.9 870.9,153.0 871.5,150.4 872.0,144.2 872.6,135.0 873.1,123.5 873.7,110.6 874.3,97.6 874.8,85.5 875.4,75.2 875.9,67.7 876.5,63.6 877.1,63.2 877.6,66.5 878.2,73.1 878.7,82.4 879.3,93.7 879.8,105.8 880.4,117.7 881.0,128.3 881.5,136.6 882.1,142.0 882.6,143.8 883.2,142.8 883.7,139.8 884.3,135.1 884.9,129.1 885.4,122.4 886.0,115.6 886.5,109.2 887.1,104.0 887.6,100.2 888.2,98.4 888.8,98.9 889.3,102.8 889.9,109.7 890.4,119.0 891.0,129.4 891.5,139.9 892.1,149.1 892.7,156.1 893.2,159.9 893.8,160.3 894.3,157.4 894.9,151.4 895.5,142.8 896.0,132.1 896.6,120.0 897.1,107.5 897.7,95.3 898.2,84.2 898.8,75.1 899.4,68.6 899.9,65.0 900.5,64.7 901.0,68.3 901.6,75.6 902.1,85.8 902.7,98.2 903.3,111.4 903.8,124.5 904.4,136.1 904.9,145.3 905.5,151.1 906.0,153.1 906.6,151.1 907.2,145.5 907.7,136.9 908.3,126.6 908.8,116.0 909.4,106.6 909.9,99.6 910.5,96.1 911.1,96.4 911.6,100.2 912.2,107.1 912.7,116.1 913.3,126.3 913.9,136.6 914.4,145.6 915.0,152.4 915.5,156.2 916.1,156.6 916.6,153.5 917.2,147.3 917.8,138.5 918.3,127.9 918.9,116.5 919.4,105.3 920.0,95.3 920.5,87.4 921.1,82.4 921.7,80.7 922.2,82.1 922.8,86.1 923.3,92.6 923.9,100.9 924.4,110.6 925.0,120.8 925.6,130.9 926.1,140.1 926.7,147.8 927.2,153.3 927.8,156.4 928.3,156.6 928.9,153.9 929.5,148.4 930.0,140.7 930.6,131.5 931.1,121.8 931.7,112.4 932.3,104.3 932.8,98.3 933.4,95.0 933.9,94.7 934.5,97.4 935.0,102.9 935.6,110.7 936.2,120.0 936.7,130.0 937.3,139.9 937.8,148.7 938.4,155.6 938.9,160.0 939.5,161.5 940.1,160.0 940.6,155.5 941.2,148.4 941.7,139.3 942.3,128.9 942.8,118.2 943.4,108.1 944.0,99.3 944.5,92.7 945.1,88.8 945.6,87.8 946.2,90.4 946.7,96.5 947.3,105.3 947.9,115.8 948.4,126.8 949.0,137.0 949.5,145.3 950.1,150.7 950.6,152.6 951.2,151.1 951.8,146.9 952.3,140.4 952.9,132.1 953.4,123.0 954.0,113.8 954.6,105.6 955.1,99.0 955.7,94.8 956.2,93.4 956.8,94.5 957.3,97.7 957.9,102.8 958.5,109.4 959.0,117.1 959.6,125.3 960.1,133.3 960.7,140.6 961.2,146.7 961.8,151.1 962.4,153.5 962.9,153.7 963.5,151.4 964.0,146.9 964.6,140.4 965.1,132.7 965.7,124.4 966.3,116.2 966.8,108.9 967.4,103.1 967.9,99.5 968.5,98.2 969.0,99.4 969.6,102.8 970.2,108.2 970.7,115.0 971.3,122.8 971.8,130.9 972.4,138.5 973.0,145.1 973.5,150.1 974.1,153.1 974.6,153.8 975.2,151.8 975.7,147.2 976.3,140.6 976.9,132.6 977.4,124.2 978.0,116.4 978.5,110.1 979.1,106.0 979.6,104.6 980.2,105.5 980.8,108.3 981.3,112.7 981.9,118.1 982.4,124.2 983.0,130.2 983.5,135.7 984.1,140.0 984.7,142.8 985.2,143.8 985.8,143.1 986.3,141.3 986.9,138.3 987.4,134.6 988.0,130.5 988.6,126.4 989.1,122.7 989.7,119.8 990.2,117.9 990.8,117.3 991.4,118.0 991.9,120.3 992.5,123.8 993.0,128.2 993.6,133.2 994.1,138.3 994.7,143.1 995.3,147.0 995.8,149.8 996.4,151.1 996.9,151.0 997.5,149.7 998.0,147.2 998.6,143.6 999.2,139.1 999.7,133.9 1000.3,128.3 1000.8,122.3 1001.4,116.4 1001.9,110.7 1002.5,105.5 1003.1,101.0 1003.6,97.4 1004.2,94.9 1004.7,93.6 1005.3,93.6 1005.8,96.3 1006.4,101.6 1007.0,109.0 1007.5,117.4 1008.1,125.7 1008.6,133.1 1009.2,138.4 1009.8,141.1 1010.3,141.2 1010.9,140.2 1011.4,138.5 1012.0,136.3 1012.5,133.7 1013.1,131.1 1013.7,128.9 1014.2,127.2 1014.8,126.2 1015.3,126.1 1015.9,127.2 1016.4,129.4 1017.0,132.4 1017.6,136.0 1018.1,139.7 1018.7,143.1 1019.2,146.0 1019.8,148.0 1020.3,148.8 1020.9,148.0 1021.5,144.7 1022.0,139.2 1022.6,132.1 1023.1,124.0 1023.7,115.7 1024.2,108.1 1024.8,101.9 1025.4,97.7 1025.9,95.8 1026.5,96.1 1027.0,97.5 1027.6,99.8 1028.1,102.9 1028.7,106.6 1029.3,110.6 1029.8,114.8 1030.4,118.8 1030.9,122.4 1031.5,125.4 1032.1,127.5 1032.6,128.7 1033.2,128.8 1033.7,128.2 1034.3,126.9 1034.8,125.2 1035.4,123.3 1036.0,121.5 1036.5,119.9 1037.1,118.9 1037.6,118.6 1038.2,119.0 1038.7,120.1 1039.3,121.7 1039.9,123.7 1040.4,125.7 1041.0,127.3 1041.5,128.5 1042.1,128.8 1042.6,128.2 1043.2,126.5 1043.8,123.6 1044.3,119.8 1044.9,115.3 1045.4,110.2 1046.0,104.7 1046.5,99.3 1047.1,94.0 1047.7,89.2 1048.2,85.0 1048.8,81.8 1049.3,79.6 1049.9,78.5 1050.5,78.6 1051.0,79.8 1051.6,82.0 1052.1,85.1 1052.7,89.0 1053.2,93.5 1053.8,98.5 1054.4,103.6 1054.9,108.8 1055.5,113.8 1056.0,118.3 1056.6,122.2 1057.1,125.3 1057.7,127.5 1058.3,128.7 1058.8,128.8 1059.4,127.8 1059.9,125.8 1060.5,123.0 1061.0,119.9 1061.6,116.8 1062.2,114.0 1062.7,112.0 1063.3,111.0 1063.8,111.2 1064.4,113.0 1064.9,116.1 1065.5,119.9 1066.1,123.7 1066.6,126.8 1067.2,128.5 1067.7,128.7 1068.3,127.3 1068.9,124.4 1069.4,120.2 1070.0,114.8 1070.5,108.7 1071.1,102.2 1071.6,95.5 1072.2,89.2 1072.8,83.5 1073.3,78.8 1073.9,75.4 1074.4,73.3 1075.0,72.9 1075.5,74.5 1076.1,78.2 1076.7,83.8 1077.2,90.9 1077.8,98.9 1078.3,107.3 1078.9,115.4 1079.4,122.7 1080.0,128.7 1080.6,132.8 1081.1,134.8 1081.7,134.8 1082.2,133.8 1082.8,131.9 1083.3,129.3 1083.9,126.2 1084.5,123.0 1085.0,119.9 1085.6,117.2 1086.1,115.1 1086.7,113.8 1087.3,113.6 1087.8,114.8 1088.4,117.7 1088.9,121.6 1089.5,126.0 1090.0,130.1 1090.6,133.3 1091.2,134.9 1091.7,134.7 1092.3,132.9 1092.8,129.6 1093.4,124.8 1093.9,119.0 1094.5,112.2 1095.1,105.0 1095.6,97.6 1096.2,90.5 1096.7,83.9"/>
<polyline stroke="#00c400" stroke-width="2.7" points="166.0,102.1 166.3,112.1 166.6,115.5 166.9,118.3 167.2,116.0 167.6,111.4 167.9,108.1 168.2,110.8 168.5,103.3 168.8,110.6 169.1,108.3 169.5,103.4 169.8,100.8 170.0,113.6 170.3,119.6 170.5,117.3 170.8,115.7 171.2,103.7 171.5,95.9 171.8,95.8 172.1,96.7 172.5,97.8 172.8,103.3 173.1,87.8 173.4,83.3 173.8,78.8 174.1,70.5 174.4,79.3 174.7,85.7 175.0,93.5 175.3,103.3 175.7,108.9 176.0,114.4 176.3,119.7 176.6,121.0 176.9,128.6 177.2,131.8 177.5,134.9 177.8,141.8 178.1,145.1 178.4,146.0 178.8,138.4 179.1,130.5 179.4,121.0 179.7,114.4 180.0,106.2 180.3,98.4 180.6,93.2 180.9,88.1 181.2,83.1 181.5,79.4 181.8,75.9 182.1,70.5 182.4,65.4 182.7,56.1 183.0,54.5 183.4,54.4 183.7,57.0 184.0,57.8 184.3,62.9 184.6,67.7 184.9,70.9 185.2,73.0 185.5,75.5 185.8,81.0 186.1,87.9 186.4,94.8 186.7,100.5 187.0,103.3 187.3,109.4 187.6,113.0 187.9,116.8 188.2,120.5 188.5,121.1 188.8,126.1 189.1,120.2 189.4,122.1 189.7,127.6 190.0,133.7 190.4,129.5 190.7,125.4 191.0,121.2 191.3,118.5 191.6,117.3 191.9,117.6 192.3,116.9 192.6,126.1 192.9,115.7 193.2,116.5 193.5,118.5 193.8,116.0 194.2,111.0 194.5,104.2 194.8,91.3 195.1,85.6 195.4,81.0 195.7,86.5 196.1,97.5 196.4,98.3 196.7,110.1 197.0,114.2 197.3,118.4 197.6,123.6 198.0,115.6 198.3,107.7 198.6,100.6 198.9,103.3 199.2,104.4 199.5,119.0 199.8,133.9 200.1,146.2 200.4,155.4 200.7,156.5 201.0,157.2 201.3,145.5 201.6,132.5 201.9,126.3 202.2,121.0 202.5,118.6 202.8,113.6 203.1,108.3 203.4,103.0 203.7,96.6 204.0,90.7 204.3,85.7 204.6,83.5 204.9,81.4 205.2,80.6 205.5,77.5 205.8,75.7 206.1,74.0 206.4,73.7 206.7,73.3 207.0,70.5 207.3,70.2 207.7,67.7 208.0,66.0 208.3,74.3 208.6,70.7 208.9,75.5 209.2,82.6 209.5,89.7 209.8,95.8 210.1,101.9 210.4,107.9 210.7,112.5 211.0,115.4 211.3,118.2 211.6,126.1 211.9,125.6 212.2,129.0 212.5,133.4 212.8,139.2 213.1,144.9 213.4,143.8 213.7,142.6 214.0,135.9 214.3,128.4 214.6,120.0 214.9,116.0 215.2,106.1 215.5,103.3 215.8,100.4 216.1,96.6 216.4,90.7 216.7,97.4 217.0,102.0 217.3,106.0 217.6,110.1 217.9,116.0 218.2,110.6 218.6,106.0 218.9,101.0 219.2,95.8 219.5,97.8 219.8,103.6 220.1,109.3 220.5,103.3 220.8,111.6 221.1,110.6 221.4,113.7 221.7,121.7 222.0,133.7 222.3,137.6 222.6,144.0 222.9,150.3 223.2,154.3 223.5,155.2 223.8,144.6 224.1,136.7 224.4,131.1 224.7,125.6 225.0,121.0 225.3,115.5 225.6,111.4 225.9,106.0 226.2,99.4 226.5,92.9 226.8,93.2 227.1,82.9 227.4,80.3 227.7,77.8 228.1,83.1 228.4,76.6 228.6,73.0 228.9,68.3 229.2,64.3 229.5,61.6 229.8,66.7 230.1,59.6 230.4,61.0 230.7,67.8 231.0,74.6 231.4,70.5 231.7,80.7 232.0,86.0 232.3,89.7 232.6,95.8 232.9,99.3 233.2,111.1 233.5,122.9 233.8,131.9 234.1,131.2 234.4,139.9 234.7,142.4 235.1,144.7 235.4,147.0 235.7,157.7 236.0,143.8 236.3,136.9 236.6,130.3 236.9,123.8 237.2,121.0 237.5,116.6 237.8,117.8 238.1,118.3 238.4,112.9 238.7,103.3 239.0,88.2 239.3,80.8 239.6,73.8 239.9,69.9 240.2,66.7 240.5,77.7 240.9,92.2 241.2,107.4 241.5,126.1 241.8,115.9 242.1,112.7 242.4,109.5 242.8,95.8 243.1,109.9 243.4,116.2 243.7,122.6 244.0,121.0 244.3,133.1 244.7,134.3 245.0,133.1 245.3,141.3 245.6,138.6 245.9,147.8 246.2,157.1 246.6,156.5 246.9,151.2 247.2,142.6 247.5,135.1 247.8,126.1 248.1,127.5 248.4,126.4 248.7,125.3 249.0,124.6 249.3,125.2 249.6,128.6 249.9,117.7 250.2,110.0 250.6,102.2 250.9,95.8 251.2,94.3 251.5,93.0 251.8,90.3 252.1,78.1 252.5,84.3 252.8,82.7 253.1,78.7 253.4,71.7 253.7,75.4 254.0,80.0 254.3,84.5 254.6,87.4 254.9,95.8 255.2,96.9 255.5,107.0 255.8,117.1 256.1,126.9 256.4,133.7 256.8,141.5 257.1,146.5 257.4,149.5 257.7,153.9 258.0,157.6 258.3,165.3 258.7,173.0 259.0,169.1 259.3,170.5 259.6,164.0 259.9,158.2 260.2,152.6 260.5,141.3 260.8,139.5 261.1,131.9 261.4,124.2 261.8,121.0 262.1,114.0 262.4,114.9 262.7,115.7 262.9,118.0 263.2,120.9 263.5,126.1 263.8,117.8 264.1,114.9 264.5,114.1 264.8,113.3 265.1,113.5 265.4,111.8 265.7,111.4 266.0,111.6 266.3,112.7 266.6,112.2 266.9,121.4 267.2,127.9 267.5,134.4 267.8,142.9 268.1,146.3 268.4,158.4 268.7,162.6 269.0,166.8 269.3,171.0 269.6,174.2 269.9,171.6 270.2,172.4 270.5,164.0 270.8,153.4 271.1,146.3 271.4,135.5 271.7,129.5 272.0,123.5 272.3,116.7 272.6,109.5 272.9,108.4 273.2,96.9 273.5,91.6 273.8,86.9 274.1,84.1 274.4,85.6 274.7,84.2 275.0,80.8 275.3,75.9 275.6,71.1 275.9,66.9 276.2,71.7 276.5,67.5 276.8,71.1 277.1,77.8 277.4,85.1 277.7,88.2 278.0,93.2 278.3,95.8 278.6,105.1 278.9,115.6 279.2,126.0 279.5,133.7 279.8,146.7 280.1,155.4 280.5,160.3 280.8,161.5 281.1,165.2 281.4,171.2 281.7,177.2 282.0,177.9 282.4,172.2 282.7,162.4 283.0,154.2 283.3,146.3 283.6,144.8 283.9,140.3 284.3,134.9 284.6,131.2 284.9,134.9 285.2,141.1 285.5,142.8 285.8,136.2 286.1,127.3 286.4,119.9 286.7,115.7 287.0,111.5 287.3,107.8 287.6,110.9 287.9,112.9 288.2,118.9 288.5,122.9 288.8,126.9 289.1,130.7 289.4,128.6 289.7,136.8 290.0,141.6 290.3,146.9 290.6,152.2 290.9,161.5 291.2,161.6 291.5,165.5 291.8,169.3 292.1,172.7 292.4,176.1 292.7,181.7 293.0,179.4 293.3,178.8 293.6,174.4 293.9,169.4 294.2,164.2 294.5,151.4 294.7,148.4 295.0,139.6 295.3,130.9 295.6,128.6 295.9,126.3 296.2,123.9 296.5,121.0 296.8,122.6 297.1,121.8 297.4,117.7 297.7,113.0 298.0,103.3 298.3,107.3 298.6,106.4 298.9,105.1 299.2,102.5 299.5,93.2 299.8,98.4 300.2,94.3 300.5,90.3 300.8,94.5"/>
<polyline stroke="#00c400" stroke-width="2.7" points="395.5,126.1 395.8,135.3 396.1,148.6 396.4,158.4 396.7,165.2 397.0,160.2 397.3,163.0 397.6,157.0 397.9,151.1 398.2,145.1 398.5,137.6 398.8,138.7 399.1,123.7 399.4,123.9 399.7,124.7 400.0,125.4 400.3,126.6 400.5,127.9 400.8,116.0 401.1,122.0 401.4,113.1 401.7,104.3 402.0,103.3 402.3,104.1 402.6,95.8 402.9,99.8 403.2,92.2 403.4,84.7 403.7,83.3 404.0,86.1 404.3,88.9 404.6,87.8 404.8,81.3 405.1,85.6 405.4,77.7 405.7,85.0 406.0,94.1 406.3,102.5 406.6,108.8 406.9,108.4 407.2,122.0 407.5,127.9 407.8,133.8 408.0,139.0 408.3,140.9 408.6,142.6 408.9,141.3 409.2,146.5 409.5,148.6 409.8,150.8 410.1,153.2 410.4,155.6 410.7,167.8 411.0,154.6 411.3,151.4 411.6,148.2 411.9,145.3 412.2,138.7 412.5,146.1 412.8,143.9 413.1,141.7 413.4,139.7 413.7,146.4 414.0,146.3 414.3,155.6 414.5,148.2 414.8,140.4 415.1,132.6 415.4,132.5 415.7,133.3 416.0,128.6 416.3,129.2 416.6,122.3 416.8,115.3 417.1,113.1 417.4,113.5 417.7,114.0 418.0,114.5 418.3,121.0 418.6,120.6 418.9,126.9 419.2,134.4 419.5,141.9 419.8,138.7 420.1,143.5 420.4,142.1 420.7,143.2 421.0,146.7 421.2,150.1 421.5,156.5 421.9,159.5 422.2,164.5 422.5,167.8 422.8,165.3 423.1,162.6 423.4,150.2 423.8,136.7 424.1,133.7 424.4,122.5 424.7,122.1 425.0,121.7 425.2,114.6 425.5,107.2 425.8,103.3 426.1,94.2 426.4,88.5 426.7,82.9 427.0,85.9 427.3,90.6 427.6,95.4 427.9,81.9 428.2,82.7 428.4,78.1 428.7,82.1 429.0,86.5 429.3,92.7 429.6,105.9 429.9,110.0 430.2,119.6 430.5,127.0 430.8,132.9 431.1,138.8 431.4,144.6 431.6,141.3 431.9,154.2 432.2,155.2 432.5,152.5 432.8,149.7 433.1,151.9 433.4,164.5 433.7,162.8 434.0,171.8 434.3,166.8 434.5,154.3 434.8,144.5 435.1,143.8 435.4,146.3 435.7,143.0 436.1,143.0 436.4,143.0 436.7,136.2 437.0,143.8 437.3,145.8 437.6,147.9 437.9,150.0 438.2,152.2 438.5,151.4 438.8,154.3 439.0,154.3 439.3,153.5 439.6,150.8 439.9,148.1 440.2,147.1 440.5,153.9 440.8,158.2 441.1,162.5 441.4,158.5 441.7,154.4 442.0,151.1 442.3,161.5 442.5,155.1 442.8,157.8 443.1,163.3 443.4,168.9 443.7,174.4 444.0,174.3 444.3,176.7 444.6,167.5 444.9,166.1 445.2,165.0 445.5,164.0 445.7,158.7 446.0,151.4 446.3,147.6 446.6,142.7 446.9,137.9 447.2,133.0 447.5,126.2 447.8,118.7 448.1,126.1 448.3,103.0 448.6,103.3 448.9,99.4 449.2,101.0 449.5,99.8 449.8,98.7 450.0,97.2 450.3,95.3 450.6,93.2 450.9,97.1 451.2,101.6 451.5,106.2 451.8,111.1 452.1,117.5 452.4,123.9 452.6,121.0 452.9,125.0 453.2,120.6 453.5,120.1 453.8,126.4 454.1,136.8 454.4,147.2 454.7,146.3 455.0,153.5 455.3,155.5 455.5,157.9 455.8,160.3 456.1,162.8 456.4,159.0 456.7,155.0 457.0,148.1 457.3,139.4 457.6,135.4 457.9,132.5 458.2,141.3 458.5,130.2 458.8,131.0 459.1,131.7 459.3,132.4 459.6,134.2 459.9,138.3 460.2,146.3 460.5,139.6 460.8,138.0 461.1,136.1 461.4,134.2 461.7,133.1 462.0,128.6 462.3,134.2 462.6,131.6 462.9,125.1 463.2,118.5 463.5,121.0 463.8,121.8 464.1,127.5 464.4,128.7 464.7,126.0 465.0,126.1 465.3,141.3 465.5,136.2 465.8,145.4 466.1,153.1 466.4,158.0 466.7,162.9 466.9,167.8 467.2,173.0 467.5,176.6 467.8,167.8 468.1,175.2 468.4,170.7 468.7,166.3 469.0,158.8 469.3,147.7 469.5,141.3 469.8,131.4 470.1,126.7 470.4,122.0 470.7,120.1 471.0,118.7 471.3,117.4 471.6,103.3 471.9,112.5 472.2,110.3 472.5,105.2 472.8,97.6 473.1,90.0 473.4,88.0 473.7,87.4 474.0,86.9 474.3,83.3 474.6,79.3 474.9,82.3 475.2,87.6 475.5,93.2 475.8,98.7 476.1,103.3 476.4,113.6 476.7,121.7 477.0,130.2 477.3,138.7 477.6,144.6 477.9,138.7 478.2,148.3 478.5,148.4 478.8,153.8 479.1,160.2 479.4,156.2 479.7,152.8 480.0,149.4 480.3,145.8 480.6,140.5 480.9,141.3 481.2,131.1 481.5,129.0 481.8,126.9 482.1,124.8 482.3,126.4 482.6,128.1 482.9,126.1 483.2,126.3 483.5,122.1 483.8,117.8 484.0,120.7 484.3,126.6 484.6,129.4 484.9,128.0 485.2,121.7 485.4,113.5 485.7,111.4 486.0,116.3 486.3,121.3 486.6,124.5 486.9,124.5 487.2,131.2 487.5,125.4 487.8,128.4 488.1,131.4 488.4,135.4 488.6,143.5 488.9,151.7 489.2,151.4 489.5,159.2 489.9,159.3 490.2,159.1 490.5,161.5 490.8,149.7 491.1,144.3 491.4,144.3 491.7,144.3 492.0,142.4 492.3,133.7 492.5,129.0 492.8,122.7 493.1,119.1 493.4,115.6 493.7,111.3 494.0,102.6 494.3,95.8 494.6,88.0 494.8,85.9 495.1,83.9 495.4,81.9 495.7,81.7 496.0,81.9 496.2,82.0 496.5,81.3 496.8,70.5 497.1,86.8 497.4,92.4 497.7,97.4 498.0,102.5 498.3,107.5 498.6,100.8 498.8,104.0 499.1,106.7 499.4,116.1 499.7,125.4 500.0,133.7 500.3,140.2 500.6,141.3 500.9,152.1 501.2,156.6 501.5,161.2 501.8,161.5 502.1,163.9 502.4,161.2 502.7,155.7 503.0,147.4 503.3,139.1 503.6,138.7 503.9,131.7 504.2,130.4 504.5,132.1 504.8,138.5 505.0,143.3 505.3,141.8 505.6,128.6 505.9,132.7 506.2,126.6 506.5,125.2 506.8,123.7 507.1,122.4 507.4,122.5 507.6,121.0 507.9,121.1 508.2,117.2 508.6,113.3 508.9,109.0 509.2,101.9 509.5,94.7 509.8,90.7 510.1,90.1 510.4,91.4 510.7,94.5 511.0,101.5 511.3,111.7 511.7,133.7 512.0,142.9 512.4,162.0 512.7,189.3 513.0,187.8 513.3,186.8 513.6,171.6 513.9,155.2 514.2,141.7 514.5,146.3 514.7,135.4 515.0,135.3 515.3,132.7 515.6,129.7 515.9,126.8 516.2,120.3 516.5,116.0 516.8,106.3 517.1,99.2 517.4,94.1 517.7,90.7 517.9,87.4 518.2,95.8 518.5,97.5 518.8,98.6 519.1,96.5 519.4,94.4 519.7,91.0 520.0,86.3 520.3,83.1 520.6,86.9 520.8,97.1 521.1,107.4 521.4,111.7 521.7,116.0 522.0,108.4 522.3,122.9 522.6,125.9 522.9,129.0 523.2,132.5 523.5,136.9 523.8,146.3 524.1,144.4 524.4,149.3 524.7,154.2 525.0,158.5 525.3,167.8 525.6,157.5 525.9,153.2 526.2,148.9 526.5,144.6 526.8,142.2 527.1,146.3 527.3,145.6 527.6,147.1 527.9,145.5 528.2,143.8 528.5,142.2 528.8,140.7 529.0,139.2 529.3,137.7 529.6,133.7 529.9,135.0 530.2,133.6 530.4,129.4 530.7,124.2 531.0,118.9 531.3,116.1 531.6,115.3 531.8,114.6 532.1,121.0 532.4,129.7 532.7,142.9 533.0,148.0 533.3,149.5 533.6,147.4 533.9,151.4 534.2,157.7 534.5,167.0 534.7,175.6 535.0,180.8 535.3,186.0 535.6,190.6 535.9,186.8 536.2,176.3 536.5,163.9 536.8,157.9 537.1,151.9 537.4,145.9 537.7,151.4 538.0,136.5 538.2,132.6 538.5,129.6 538.8,126.6 539.1,123.7 539.4,116.9 539.7,121.0 540.0,107.0 540.3,107.5 540.6,113.7 540.9,119.8 541.2,114.7 541.5,106.8 541.8,98.8 542.1,98.9 542.4,100.9 542.7,103.0 543.0,95.8 543.3,108.7 543.6,116.1 543.9,126.6 544.2,126.1 544.5,145.5 544.8,145.9 545.1,144.5 545.4,144.7 545.7,152.3 546.0,171.6 546.3,166.2 546.6,172.5 546.9,180.9 547.3,196.9 547.6,188.4 547.9,186.5 548.2,181.9 548.5,171.6 548.8,167.9 549.1,165.0 549.4,165.2 549.7,165.3 550.0,163.6 550.2,158.2 550.5,148.9"/>
<polyline stroke="#00c400" stroke-width="2.7" points="614.3,72.7 614.6,86.6 614.9,93.2 615.2,99.7 615.5,106.5 615.8,120.1 616.1,114.3 616.3,116.9 616.6,120.3 616.9,124.0 617.2,138.8 617.5,118.7 617.8,110.1 618.1,102.5 618.3,95.9 618.6,91.4 618.9,84.9 619.2,78.5 619.5,72.0 619.8,66.2 620.1,62.6 620.3,61.2 620.6,60.7 620.9,61.2 621.2,61.7 621.5,51.8 621.8,64.6 622.1,67.1 622.3,69.7 622.6,70.9 622.9,72.0 623.2,79.9 623.5,70.3 623.8,68.4 624.1,66.6 624.4,65.5 624.6,70.7 624.9,76.9 625.2,83.4 625.5,90.0 625.8,96.6 626.1,94.2 626.4,100.7 626.7,100.0 627.0,101.4 627.3,104.6 627.6,107.9 627.9,105.7 628.2,104.2 628.5,99.2 628.8,94.4 629.1,89.9 629.4,88.5 629.6,85.0 629.9,89.0 630.2,90.8 630.5,88.0 630.8,74.1 631.1,77.1 631.4,71.5 631.6,73.0 631.9,74.4 632.2,64.1 632.5,78.3 632.8,81.3 633.1,84.3 633.4,89.3 633.6,85.6 633.9,93.4 634.2,86.8 634.5,79.2 634.8,71.6 635.1,77.0 635.4,74.8 635.6,80.5 635.9,85.8 636.2,90.9 636.5,100.0 636.8,101.1 637.1,107.6 637.4,114.2 637.6,120.2 637.9,117.2 638.2,130.0 638.5,133.5 638.8,133.7 639.1,133.9 639.4,131.6 639.6,128.9 639.9,123.4 640.2,117.9 640.5,114.6 640.8,111.5 641.1,112.5 641.4,111.5 641.6,110.1 641.9,108.8 642.2,114.3 642.5,107.0 642.8,103.0 643.1,93.7 643.4,81.8 643.7,81.3 643.9,75.2 644.2,81.5 644.5,89.2 644.8,94.3 645.1,105.7 645.4,86.8 645.7,78.9 645.9,72.2 646.2,68.6 646.5,66.2 646.8,65.7 647.1,66.9 647.4,68.1 647.7,69.7 648.1,71.2 648.4,65.5 648.7,84.6 649.0,98.9 649.4,123.0 649.7,109.3 649.9,102.3 650.2,97.4 650.5,93.3 650.8,91.4 651.1,84.9 651.4,79.4 651.7,73.9 651.9,69.4 652.2,66.9 652.5,63.6 652.8,60.6 653.1,56.6 653.4,52.7 653.7,45.4 654.0,45.6 654.3,42.6 654.6,41.2 654.9,42.8 655.2,43.2 655.5,29.6 655.8,44.3 656.1,46.3 656.4,47.7 656.7,48.9 656.9,48.3 657.2,55.4 657.5,62.6 657.8,69.9 658.1,76.9 658.4,85.6 658.7,77.3 658.9,72.6 659.2,71.4 659.5,70.2 659.8,74.1 660.1,74.0 660.4,78.8 660.7,83.6 660.9,88.8 661.2,94.0 661.5,100.0 661.8,106.7 662.1,115.8 662.4,121.0 662.7,124.4 663.0,125.6 663.2,120.1 663.5,121.8 663.9,125.3 664.2,128.8 664.5,128.7 664.8,126.0 665.1,125.8 665.4,124.7 665.7,128.1 666.0,131.5 666.2,133.9 666.5,135.5 666.8,134.4 667.1,128.0 667.4,119.2 667.7,110.3 668.0,97.1 668.2,93.6 668.5,86.1 668.8,79.5 669.1,76.8 669.4,62.6 669.7,67.9 670.1,62.1 670.4,45.4 670.7,52.5 671.0,43.1 671.2,33.7 671.5,36.0 671.8,34.5 672.1,41.8 672.4,49.1 672.7,56.6 673.0,62.6 673.2,62.5 673.5,58.7 673.8,54.9 674.1,48.3 674.4,50.5 674.7,49.9 675.0,49.4 675.2,41.2 675.5,34.3 675.8,44.7 676.1,37.3 676.4,40.9 676.7,48.7 677.0,55.8 677.2,62.6 677.5,68.9 677.8,77.3 678.1,85.9 678.4,94.4 678.7,97.1 679.0,104.6 679.2,101.2 679.5,97.7 679.8,94.1 680.1,79.9 680.4,81.5 680.7,81.2 681.0,80.9 681.3,80.6 681.5,94.2 681.8,84.5 682.1,84.5 682.4,84.9 682.7,85.4 683.0,85.8 683.3,87.0 683.5,91.5 683.8,96.2 684.1,100.5 684.4,104.6 684.7,100.0 685.0,110.7 685.3,110.7 685.6,110.6 685.9,113.8 686.2,118.4 686.5,120.1 686.8,122.5 687.1,122.0 687.4,121.6 687.7,115.3 688.0,108.6 688.3,95.5 688.5,92.4 688.8,95.4 689.1,98.5 689.4,91.4 689.7,98.5 690.0,98.7 690.3,100.5 690.5,106.3 690.8,97.1 691.1,104.1 691.4,95.7 691.7,81.4 692.0,70.0 692.3,77.0 692.5,72.2 692.8,75.7 693.1,74.5 693.4,73.1 693.7,71.7 694.0,69.8 694.3,73.7 694.5,77.7 694.8,84.3 695.1,92.0 695.4,94.2 695.7,98.6 696.0,96.1 696.3,93.6 696.6,89.7 697.0,85.3 697.3,82.7 697.5,86.3 697.8,92.6 698.1,98.8 698.4,101.0 698.7,100.0 699.0,94.2 699.3,87.1 699.5,80.4 699.8,73.6 700.1,68.4 700.4,72.7 700.7,70.3 701.0,74.1 701.3,76.4 701.6,78.7 702.0,82.6 702.3,97.1 702.6,90.2 702.9,90.8 703.2,91.0 703.5,92.7 703.8,94.9 704.1,100.5 704.4,108.6 704.7,108.0 705.0,109.6 705.3,111.2 705.6,115.9 705.8,121.6 706.1,120.1 706.4,129.0 706.7,128.4 707.1,127.8 707.4,130.4 707.7,133.8 708.0,131.6 708.3,134.7 708.6,132.0 708.9,129.4 709.2,131.1 709.5,132.8 709.8,125.8 710.1,125.8 710.4,118.1 710.7,110.3 711.0,100.3 711.3,93.3 711.6,100.0 711.8,85.9 712.1,89.8 712.4,95.1 712.7,91.0 713.0,84.5 713.3,81.3 713.6,74.4 713.9,71.9 714.2,69.3 714.5,70.0 714.8,71.2 715.1,66.9 715.4,80.0 715.7,87.3 716.0,94.5 716.3,103.1 716.6,108.6 716.8,109.2 717.1,104.4 717.4,98.6 717.7,92.8 718.0,90.0 718.3,88.5 718.6,94.2 718.9,92.3 719.2,85.4 719.5,85.2 719.8,87.1 720.1,100.0 720.4,96.4 720.7,101.4 721.0,105.0 721.3,108.6 721.6,121.5 721.9,103.4 722.1,96.2 722.4,89.0 722.7,81.8 723.0,85.6 723.3,80.3 723.6,88.0 723.9,95.8 724.1,102.3 724.4,105.7 724.7,103.0 725.0,101.1 725.3,101.0 725.6,100.9 725.9,100.7 726.1,100.0 726.4,95.2 726.7,91.1 727.0,86.1 727.3,80.9 727.6,82.7 727.9,86.3 728.2,99.1 728.5,108.1 728.8,112.9 729.1,117.7 729.4,111.5 729.7,122.4 730.0,120.1 730.4,118.1 730.7,117.5 731.0,116.8 731.3,120.1 731.6,121.8 731.9,126.4 732.1,130.4 732.4,131.8 732.7,133.2 733.0,133.0 733.3,127.6 733.6,120.8 733.9,113.9 734.1,111.1 734.4,108.6 734.7,111.5 735.0,105.2 735.3,104.4 735.6,103.7 736.0,101.5 736.3,99.2 736.6,94.2 736.9,99.0 737.1,100.9 737.4,102.3 737.7,97.4 738.0,91.6 738.3,88.5 738.6,84.5 738.9,84.3 739.2,84.2 739.5,85.8 739.8,87.5 740.2,81.3 740.4,87.6 740.7,86.6 741.0,85.6 741.3,90.1 741.6,94.2 741.9,99.4 742.2,102.1 742.4,104.4 742.7,106.7 743.0,111.5 743.3,108.6 743.6,120.8 743.9,119.3 744.2,113.6 744.5,107.9 744.8,111.6 745.2,115.8 745.4,117.6 745.7,112.1 746.0,105.6 746.3,99.1 746.6,94.7 746.9,92.8 747.2,96.3 747.5,103.0 747.8,110.1 748.1,117.3 748.4,121.5 748.7,123.0 749.0,121.1 749.3,118.5 749.6,116.0 749.9,113.6 750.2,110.9 750.4,105.7 750.8,104.5 751.1,100.0 751.4,95.3 751.7,90.5 752.0,88.7 752.3,84.2 752.6,98.9 752.9,105.6 753.2,111.8 753.4,118.0 753.7,131.6 754.0,129.5 754.3,131.3 754.6,134.2 754.9,137.7 755.2,141.2 755.4,140.8 755.7,137.2 756.0,133.5 756.3,132.3 756.6,134.4 756.9,131.0 757.2,126.0 757.4,118.1 757.7,110.1 758.0,105.7 758.3,106.7 758.6,107.1 759.0,102.3 759.3,96.0 759.6,84.0 759.9,77.0 760.2,81.9 760.5,83.2 760.7,80.8 761.0,78.4 761.3,72.8 761.6,62.6 761.9,55.4 762.2,50.9 762.5,50.6 762.7,50.2 763.0,49.8 763.3,60.5 763.6,59.5 763.9,63.0 764.2,66.4 764.5,74.5 764.7,82.7 765.0,85.8 765.3,85.8 765.6,84.8 765.9,83.9 766.2,72.7 766.5,94.6 766.7,108.5 767.0,123.1 767.3,138.8 767.6,131.7 767.9,125.9 768.2,121.7 768.5,117.5 768.7,111.5 769.0,112.0 769.3,110.5 769.6,109.0 769.9,106.6 770.2,97.1 770.5,107.2 770.7,108.4 771.0,109.5 771.3,110.7 771.6,108.5 771.9,111.5 772.2,98.4 772.5,98.0 772.7,99.7 773.0,101.5 773.3,100.0 773.6,100.6 773.9,99.9 774.2,98.3 774.6,96.3 774.9,94.3 775.2,89.9 775.5,99.1 775.7,104.0 776.0,108.3 776.3,112.4 776.6,105.7 776.9,113.1 777.2,108.0 777.5,103.0 777.8,98.6 778.2,94.4 778.5,100.0 778.8,95.3 779.0,100.9 779.3,106.4 779.6,114.1 779.9,117.2 780.3,103.3 780.6,100.6 780.9,87.3 781.2,76.6 781.5,74.8 781.9,72.9 782.2,71.5 782.5,61.4 782.7,55.1 783.0,52.4 783.3,52.3 783.6,54.6 783.9,56.8 784.1,57.1 784.4,57.4 784.7,57.7 785.0,44.4 785.3,53.7 785.6,55.4 785.9,62.1 786.2,69.2 786.5,76.4 786.8,80.9 787.2,93.3 787.5,100.7 787.8,105.4 788.1,110.1 788.4,114.7 788.7,114.5 789.0,119.7 789.3,121.1 789.7,123.6 790.0,126.2 790.3,125.3 790.6,121.9 790.9,115.8 791.2,113.0 791.5,111.4 791.8,109.8 792.1,109.2 792.5,107.0 792.8,118.5 793.1,125.9 793.4,133.3 793.7,140.7 794.0,145.3 794.2,134.9 794.5,124.8 794.8,118.6 795.1,112.8 795.4,107.0 795.6,103.3 796.0,106.0 796.3,108.8 796.6,105.0 796.9,99.5 797.2,93.9 797.5,93.9 797.8,91.6 798.1,97.1 798.4,105.6 798.7,116.4 799.0,129.4 799.3,133.2 799.6,139.2 799.9,143.7 800.3,140.0 800.6,136.2 800.9,146.2 801.2,129.9 801.5,124.7 801.8,119.4 802.1,114.8 802.4,115.9 802.8,114.5 803.1,119.9 803.4,117.4 803.7,113.3 804.0,109.3 804.3,105.2 804.6,90.2 804.9,84.9 805.2,77.7 805.5,77.0 805.7,81.3 806.0,85.6 806.3,85.7 806.6,82.8 806.9,79.8 807.1,77.9 807.4,82.7 807.7,77.4 808.0,77.4 808.3,77.8 808.6,78.2 808.9,76.5 809.3,71.8 809.6,67.7 809.9,78.1 810.1,77.1 810.4,87.8 810.6,97.8 810.9,104.1 811.2,114.5 811.5,119.0 811.8,129.3 812.1,139.7 812.4,150.0 812.7,159.9 813.0,172.4 813.4,161.2 813.7,148.0 814.0,139.9 814.3,132.7 814.6,130.2 814.9,129.4 815.2,135.2 815.5,133.0 815.8,130.8 816.2,124.2 816.5,115.4 816.8,114.5 817.1,112.9 817.4,121.9 817.7,130.8 818.0,130.1 818.3,128.6 818.7,129.4 819.0,124.9 819.3,122.2 819.6,118.6 819.9,107.3 820.2,99.5 820.4,90.0 820.7,90.8 821.0,91.6 821.3,92.5 821.6,89.7 821.8,90.2 822.1,94.5 822.4,106.2 822.7,119.6 823.0,129.4 823.2,142.7 823.5,150.1 823.7,157.6 824.0,165.5 824.3,173.3 824.6,178.2 824.9,172.1 825.2,163.6 825.5,149.0 825.8,136.2 826.1,136.9 826.5,126.2 826.8,121.2 827.1,116.0 827.4,110.9 827.7,105.2 828.0,99.5 828.3,94.1 828.6,90.1 828.9,86.6 829.3,83.1 829.6,78.1 829.9,71.5 830.2,69.7 830.5,62.8 830.8,55.4 831.1,52.4 831.4,53.1 831.8,59.4 832.1,70.4 832.4,76.7 832.7,83.1 833.0,88.6 833.3,92.0 833.6,99.5 833.9,100.4 834.2,107.9 834.6,115.4 834.9,123.5 835.2,132.0 835.5,136.9 835.8,140.8 836.0,138.5 836.3,136.3 836.5,137.8 836.8,151.8 837.1,136.4 837.4,131.9 837.7,130.7 838.0,131.5 838.3,129.4 838.6,122.0 838.9,113.3 839.2,110.0 839.5,114.7 839.9,120.7 840.2,112.6 840.5,113.9 840.8,108.0 841.1,111.4 841.4,122.3 841.7,133.2 842.0,125.7 842.3,123.7 842.6,113.2 842.9,107.6 843.2,103.7 843.5,99.5 843.9,108.2 844.2,116.2 844.5,124.3 844.8,129.4 845.1,134.1 845.4,144.3 845.7,149.4 846.0,159.5 846.3,168.7 846.7,173.9 847.0,179.1 847.3,178.9 847.6,178.8 847.9,172.9 848.2,163.0 848.5,148.8 848.8,134.5 849.2,136.9 849.5,127.7 849.8,127.3 850.1,120.6 850.4,111.7 850.7,102.9 851.0,99.5 851.3,95.0 851.6,92.2 852.0,84.3 852.3,76.4 852.6,70.1 852.9,73.4 853.2,75.5 853.5,77.6 853.8,75.5 854.1,73.3 854.5,71.0 854.8,63.1 855.1,74.1 855.4,78.6 855.7,82.4 856.0,86.2 856.3,93.5 856.6,99.5 856.9,113.6 857.3,119.7 857.6,125.1 857.9,130.4 858.2,138.9 858.5,151.8 858.8,149.7 859.0,151.2 859.3,152.7 859.6,154.1 859.8,164.9 860.1,151.0 860.3,145.1 860.6,138.6 860.9,129.5 861.1,129.4 861.4,116.9 861.7,119.2 862.0,122.3 862.3,125.4 862.6,121.9 862.9,123.5 863.2,122.4 863.6,121.4 863.9,120.3 864.2,119.2 864.5,112.6 864.8,120.4 865.1,123.8 865.4,128.4 865.7,133.0 866.1,134.6 866.4,129.4 866.6,123.8 866.9,116.4 867.2,112.2 867.4,108.1 867.7,105.1 868.0,119.4 868.3,135.4 868.6,146.4 868.9,156.4 869.2,155.6 869.5,161.7 869.8,168.5 870.1,175.5 870.4,182.6 870.7,182.6 870.9,181.3 871.2,174.2 871.5,165.2 871.8,156.0 872.1,146.8 872.4,136.9 872.7,125.2 873.0,114.3 873.3,108.8 873.6,105.0 873.9,101.2 874.2,95.8 874.5,101.9 874.8,99.5 875.1,94.2 875.4,84.3 875.7,75.0 876.0,74.6 876.4,74.3 876.7,66.8 877.0,69.6 877.3,66.5 877.6,67.5 877.9,76.5 878.2,86.3 878.5,90.2 878.8,100.6 879.2,107.8 879.5,115.9 879.8,124.7 880.1,133.4 880.4,140.6 880.7,149.0 881.0,154.9 881.3,158.6 881.6,161.7 881.9,164.8 882.2,168.1 882.5,171.5 882.8,174.2 883.1,162.9 883.5,150.8 883.8,144.6 884.1,138.3 884.4,137.2 884.7,136.9 885.0,131.9 885.3,128.3 885.6,125.4 885.9,124.1 886.3,122.7 886.6,121.9 886.9,118.1 887.1,115.6 887.4,113.0 887.7,110.3 888.0,107.6 888.3,104.5 888.5,99.5 888.8,103.3 889.1,99.4 889.4,118.3 889.8,134.8 890.1,141.6 890.4,148.5 890.7,144.3 891.0,154.8 891.2,160.9 891.5,167.0 891.8,172.7 892.1,174.1 892.4,175.4 892.7,176.8 892.9,189.2 893.2,183.3 893.6,180.7 893.9,169.0 894.2,156.9 894.5,145.4 894.8,146.2 895.1,131.3 895.4,125.9 895.7,124.2 896.1,122.5 896.4,117.9 896.7,108.9 897.0,100.2 897.3,95.0 897.6,92.5 897.9,90.1 898.2,83.3 898.5,77.1 898.9,68.5 899.2,66.2 899.5,64.7 899.8,63.3 900.1,59.2 900.4,63.1 900.7,62.5 901.0,72.6 901.3,82.7 901.6,93.1 901.9,108.9 902.2,120.5 902.5,133.0 902.8,135.1 903.1,137.2 903.4,151.8 903.7,146.2 903.9,152.1 904.2,158.0 904.5,159.9 904.7,164.9 905.0,152.6 905.3,148.2 905.7,146.3 906.0,144.3 906.3,138.7 906.6,136.9 906.9,126.9 907.2,129.0 907.5,132.4 907.8,135.7 908.2,126.3 908.5,121.9 908.8,109.3 909.1,113.1 909.4,117.0 909.7,118.5 910.0,113.7 910.3,107.0 910.6,105.4 911.0,102.1 911.3,98.8 911.6,99.5 911.9,103.4 912.2,97.7 912.5,110.7 912.8,110.8 913.1,110.9 913.5,116.1 913.8,122.3 914.1,129.4 914.4,136.5 914.7,144.3 915.0,152.6 915.3,165.0 915.6,177.4 915.9,189.2 916.3,184.9 916.6,179.9 916.9,174.1 917.2,166.9 917.5,159.6 917.8,144.3 918.1,145.2 918.4,138.6 918.8,130.7 919.1,122.2 919.4,113.7 919.7,108.9 920.0,104.7 920.3,101.5 920.6,95.5 920.9,89.3 921.2,83.1 921.6,84.6 921.9,73.2 922.2,72.1 922.5,75.8 922.8,80.0 923.1,82.6 923.4,79.9 923.7,88.5 924.1,93.4 924.4,96.8 924.7,100.2 925.0,105.0 925.3,114.5 925.6,116.7 925.9,128.4 926.2,141.7 926.5,150.3 926.9,156.6 927.2,151.8 927.4,160.9 927.7,163.1 928.0,165.6 928.2,168.0 928.5,172.4 928.8,162.1 929.1,153.5 929.4,147.3 929.7,143.1 930.0,138.8 930.4,129.4 930.7,131.4 931.0,129.1 931.3,119.5 931.6,107.6 931.9,99.8 932.2,101.7 932.5,111.8 932.8,99.5 933.1,108.6 933.4,97.7 933.7,84.2 934.0,85.2 934.3,88.7 934.5,92.2 934.8,86.5 935.1,92.4 935.4,94.0 935.7,95.5 935.9,96.8 936.2,97.7 936.5,103.8 936.8,109.3 937.1,114.9 937.4,122.8 937.7,132.9 938.1,136.9 938.4,149.7 938.7,155.6 939.0,161.4 939.3,162.7 939.6,162.7 939.9,164.9 940.2,154.1 940.6,145.7 940.9,137.7 941.2,135.9 941.5,134.2 941.8,129.4 942.1,118.3 942.4,108.5 942.7,103.5 943.1,104.8 943.4,109.5 943.7,99.5 944.0,99.1 944.2,91.4 944.5,85.8 944.8,84.0 945.1,82.3 945.4,80.0 945.6,75.4 945.9,79.0 946.2,73.2 946.5,83.7 946.8,94.1 947.1,103.7 947.4,99.5 947.7,102.2 948.0,102.4 948.4,108.2 948.7,114.0 949.0,121.0 949.3,121.9 949.6,137.4 949.9,141.9 950.2,146.4 950.5,146.2 950.8,144.3 951.1,146.7 951.4,144.4 951.7,139.2 952.0,131.2 952.3,123.3 952.7,114.5 953.0,110.4 953.3,105.2 953.6,103.8 953.9,103.2 954.2,102.7 954.5,99.5 954.8,91.2 955.2,91.0 955.5,92.3 955.8,96.7 956.1,101.2 956.4,107.0 956.7,106.0 957.0,104.5 957.3,100.3 957.6,96.2 958.0,91.4 958.3,86.5 958.6,88.7 958.9,94.6 959.2,102.3 959.5,110.0 959.8,112.6 960.1,114.5 960.5,113.9 960.8,117.3 961.1,121.0 961.4,124.5 961.7,127.2 962.0,136.9 962.3,132.5 962.5,137.7 962.8,142.8 963.1,147.9 963.3,153.7 963.6,145.5 963.9,139.0 964.3,134.9 964.6,131.9 964.9,128.9 965.2,114.5 965.5,113.3 965.8,106.8 966.1,104.7 966.4,102.9 966.8,100.9 967.1,97.7 967.4,94.7 967.7,92.4 968.0,90.2 968.3,88.0 968.6,87.1 968.9,88.3 969.2,97.4 969.5,104.6 969.8,109.8 970.1,115.0 970.4,118.2 970.7,118.6 971.0,116.2 971.3,114.0 971.6,112.0 971.8,110.0 972.1,99.5 972.4,112.3 972.7,115.5 973.0,118.0 973.4,120.1 973.7,120.5 974.0,114.5 974.3,114.8 974.6,109.4 974.9,110.5 975.2,116.8 975.5,119.2 975.9,107.0 976.1,110.8 976.4,102.6 976.7,99.0 977.0,97.3 977.3,95.6 977.6,94.0 977.9,99.5 978.2,88.2 978.5,85.9 978.8,85.1 979.0,84.2 979.3,82.2 979.6,78.4 979.9,74.5 980.2,68.7 980.5,70.3 980.8,70.6 981.1,71.9 981.4,76.6 981.7,88.3 981.9,84.6 982.2,85.4 982.5,86.7 982.8,89.8 983.1,95.2 983.3,107.0 983.7,114.6 984.0,120.6 984.3,126.3 984.6,131.7 984.9,133.1 985.2,140.6 985.5,127.9 985.8,127.5 986.1,127.1 986.5,125.1 986.8,120.1 987.1,114.5 987.4,108.7 987.7,100.8 988.0,92.9 988.3,88.4 988.6,85.7 989.0,90.2 989.3,82.4 989.6,82.1 989.9,81.9 990.2,76.4 990.5,70.3 990.8,69.6 991.1,62.8 991.4,61.0 991.7,59.2 991.9,56.6 992.2,59.5 992.5,65.2 992.8,74.9 993.1,85.4 993.4,99.5 993.7,102.3 994.0,108.9 994.3,115.6 994.6,115.9 994.8,113.4 995.1,121.9 995.4,114.7 995.8,122.7 996.1,131.3 996.4,136.3 996.7,139.7 997.0,144.3 997.3,139.6 997.6,136.4 997.9,133.3 998.2,126.7 998.6,120.1 998.9,114.5 999.2,111.6 999.5,109.5 999.8,106.6 1000.1,100.9 1000.4,95.2 1000.7,95.8 1001.1,87.0 1001.4,83.4 1001.7,78.8 1002.0,73.2 1002.3,67.7 1002.6,73.4 1002.9,67.6 1003.2,71.2 1003.5,76.7 1003.9,82.6 1004.2,88.6 1004.5,88.3 1004.8,89.2 1005.1,86.6 1005.4,83.8 1005.7,80.9 1006.0,77.0 1006.4,69.6 1006.7,69.1 1007.0,72.8 1007.3,82.5 1007.6,92.3 1007.9,96.5 1008.2,99.5 1008.5,90.9 1008.8,92.9 1009.2,98.4 1009.5,103.9 1009.8,107.0 1010.1,110.7 1010.4,113.2 1010.7,115.8 1011.0,118.3 1011.3,120.6 1011.7,119.3 1012.0,129.4 1012.2,125.9 1012.5,133.5 1012.8,144.8 1013.0,156.1 1013.3,166.8 1013.6,171.3 1013.9,177.1 1014.2,183.1 1014.5,189.3 1014.8,189.2 1015.0,185.1 1015.3,174.4 1015.6,163.7 1015.8,152.3 1016.1,129.4 1016.4,135.4 1016.7,132.2 1017.0,126.3 1017.3,120.4 1017.6,125.7 1017.9,126.7 1018.2,138.6 1018.5,150.5 1018.8,164.1 1019.1,176.1 1019.4,177.2 1019.6,177.7 1019.9,175.9 1020.2,172.1 1020.5,168.3 1020.8,153.7 1021.1,147.7 1021.4,147.8 1021.7,150.9 1022.0,154.0 1022.3,159.3 1022.6,163.3 1022.9,162.8 1023.2,158.9 1023.5,150.1 1023.8,141.4 1024.1,136.9 1024.4,136.2 1024.8,131.2 1025.1,119.2 1025.4,107.3 1025.7,97.3 1026.0,99.5 1026.3,89.7 1026.6,88.4 1026.9,88.5 1027.2,88.7 1027.6,89.2 1027.9,79.0 1028.2,86.0 1028.5,82.1 1028.8,75.5 1029.1,66.5 1029.4,59.4 1029.7,55.1 1030.0,61.8 1030.3,68.5 1030.6,75.5 1030.9,87.9 1031.2,99.5 1031.5,104.0 1031.9,110.1 1032.2,109.9 1032.5,109.6 1032.8,111.0 1033.1,121.9 1033.4,123.9 1033.7,125.7 1034.0,121.0 1034.4,116.4 1034.7,119.0 1035.0,129.4 1035.3,132.7 1035.5,130.4 1035.8,122.6 1036.1,114.4 1036.4,105.8 1036.7,99.5 1037.0,88.1 1037.3,83.3 1037.6,80.7 1037.9,78.5 1038.2,86.5 1038.5,83.3 1038.8,89.7 1039.1,97.4 1039.4,107.6 1039.7,117.8 1040.0,114.5 1040.3,122.7 1040.7,122.3 1041.0,123.5 1041.3,125.5 1041.6,127.5 1041.9,136.9 1042.2,139.2 1042.5,145.0 1042.8,146.9 1043.1,148.4 1043.5,149.9 1043.8,153.7 1044.1,143.8 1044.4,138.6 1044.7,138.1 1045.0,137.5 1045.3,134.9 1045.6,129.4 1046.0,121.5 1046.3,117.0 1046.6,114.8 1046.9,112.6 1047.2,110.6 1047.5,103.3 1047.8,105.8 1048.1,101.8 1048.5,97.6 1048.8,93.1 1049.1,86.1 1049.4,71.5 1049.7,72.8 1050.0,69.6 1050.3,66.3 1050.6,62.9 1050.9,52.8 1051.1,47.8 1051.4,41.4 1051.7,40.0 1051.9,40.1 1052.2,42.6 1052.5,49.7 1052.8,60.7 1053.1,70.9 1053.4,76.2 1053.7,71.5 1054.0,73.8 1054.2,77.7 1054.5,86.3 1054.7,94.9 1055.0,114.5 1055.3,108.3 1055.6,119.0 1055.9,131.5 1056.2,134.7 1056.5,138.7 1056.8,128.2 1057.0,122.5 1057.3,117.7 1057.5,112.9 1057.8,107.0 1058.1,102.3 1058.4,97.7 1058.7,94.4 1059.0,94.0 1059.3,95.8 1059.6,99.5 1059.9,103.8 1060.2,108.1 1060.5,113.2 1060.8,121.9 1061.1,122.5 1061.4,125.3 1061.6,128.4 1061.9,131.4 1062.2,134.3 1062.5,131.3 1062.8,131.9 1063.1,128.9 1063.4,127.6 1063.7,126.3 1064.0,124.6 1064.4,116.3 1064.7,124.9 1065.0,127.8 1065.3,130.6 1065.6,133.4 1065.9,132.0 1066.2,136.9 1066.5,129.3 1066.8,132.7 1067.2,136.2 1067.5,143.4 1067.8,145.2 1068.1,157.4 1068.4,140.5 1068.7,139.6 1069.0,142.9 1069.3,144.7 1069.7,135.6 1070.0,121.9 1070.3,120.5 1070.6,114.6 1070.9,108.6 1071.2,103.7 1071.5,100.4 1071.8,107.0 1072.1,96.1 1072.5,96.4 1072.8,96.7 1073.1,97.2 1073.4,97.9 1073.7,95.8 1074.0,99.9 1074.3,101.2 1074.6,102.5 1074.9,97.5 1075.2,91.7 1075.5,85.8 1075.8,88.8 1076.1,84.6"/>
</g>
<path d="M239.2 22.4V246.5M350.7 22.4V246.5M462.2 22.4V246.5M573.7 22.4V246.5M685.3 22.4V246.5M841.4 22.4V246.5M930.6 22.4V246.5M1042.1 22.4V246.5" stroke="#000" stroke-width="2.2" fill="none"/>
<rect x="837.5" y="191.6" width="310.9" height="50.8" rx="1.2" fill="#000"/><rect x="837.5" y="191.6" width="309.3" height="49.2" fill="#fff" stroke="#000" stroke-width="2.2"/><path d="M844.3 210.3H881.5" stroke="#00c400" stroke-width="2.6"/><text transform="translate(885.0 219.3) scale(1.04 1)" font-family="'Liberation Serif','Times New Roman',serif" font-style="italic" font-size="24.3">Buoy</text><path d="M949.5 210.3H986.4" stroke="#000" stroke-width="2.6"/><text transform="translate(987.5 218.4) scale(1.04 1)" font-family="'Liberation Serif','Times New Roman',serif" font-style="italic" font-size="24.3">NSCS</text><path d="M1049.2 210.3H1085.8" stroke="#ff0000" stroke-width="2.6"/><text transform="translate(1089.0 220.2) scale(1.04 1)" font-family="'Liberation Serif','Times New Roman',serif" font-style="italic" font-size="24.3">PRE</text>
<path d="M150.0 22.4H1153.6V246.5H150.0ZM139.7 22.4H150.0M1153.6 22.4H1163.6M144.0 41.1H150.0M1153.6 41.1H1158.1M139.7 59.8H150.0M1153.6 59.8H1163.6M144.0 78.4H150.0M1153.6 78.4H1158.1M139.7 97.1H150.0M1153.6 97.1H1163.6M144.0 115.8H150.0M1153.6 115.8H1158.1M139.7 134.5H150.0M1153.6 134.5H1163.6M144.0 153.1H150.0M1153.6 153.1H1158.1M139.7 171.8H150.0M1153.6 171.8H1163.6M144.0 190.5H150.0M1153.6 190.5H1158.1M139.7 209.1H150.0M1153.6 209.1H1163.6M144.0 227.8H150.0M1153.6 227.8H1158.1M139.7 246.5H150.0M1153.6 246.5H1163.6M150.0 12.4V22.4M150.0 246.5V257.5M172.3 12.4V22.4M172.3 246.5V257.5M194.6 12.4V22.4M194.6 246.5V257.5M216.9 12.4V22.4M216.9 246.5V257.5M239.2 12.4V22.4M239.2 246.5V257.5M261.5 12.4V22.4M261.5 246.5V257.5M283.8 12.4V22.4M283.8 246.5V257.5M306.1 12.4V22.4M306.1 246.5V257.5M328.4 12.4V22.4M328.4 246.5V257.5M350.7 12.4V22.4M350.7 246.5V257.5M373.0 12.4V22.4M373.0 246.5V257.5M395.3 12.4V22.4M395.3 246.5V257.5M417.6 12.4V22.4M417.6 246.5V257.5M439.9 12.4V22.4M439.9 246.5V257.5M462.2 12.4V22.4M462.2 246.5V257.5M484.5 12.4V22.4M484.5 246.5V257.5M506.8 12.4V22.4M506.8 246.5V257.5M529.1 12.4V22.4M529.1 246.5V257.5M551.4 12.4V22.4M551.4 246.5V257.5M573.7 12.4V22.4M573.7 246.5V257.5M596.0 12.4V22.4M596.0 246.5V257.5M618.3 12.4V22.4M618.3 246.5V257.5M640.6 12.4V22.4M640.6 246.5V257.5M663.0 12.4V22.4M663.0 246.5V257.5M685.3 12.4V22.4M685.3 246.5V257.5M707.6 12.4V22.4M707.6 246.5V257.5M729.9 12.4V22.4M729.9 246.5V257.5M752.2 12.4V22.4M752.2 246.5V257.5M774.5 12.4V22.4M774.5 246.5V257.5M796.8 12.4V22.4M796.8 246.5V257.5M819.1 12.4V22.4M819.1 246.5V257.5M841.4 12.4V22.4M841.4 246.5V257.5M863.7 12.4V22.4M863.7 246.5V257.5M886.0 12.4V22.4M886.0 246.5V257.5M908.3 12.4V22.4M908.3 246.5V257.5M930.6 12.4V22.4M930.6 246.5V257.5M952.9 12.4V22.4M952.9 246.5V257.5M975.2 12.4V22.4M975.2 246.5V257.5M997.5 12.4V22.4M997.5 246.5V257.5M1019.8 12.4V22.4M1019.8 246.5V257.5M1042.1 12.4V22.4M1042.1 246.5V257.5M1064.4 12.4V22.4M1064.4 246.5V257.5M1086.7 12.4V22.4M1086.7 246.5V257.5M1109.0 12.4V22.4M1109.0 246.5V257.5M1131.3 12.4V22.4M1131.3 246.5V257.5M1153.6 12.4V22.4M1153.6 246.5V257.5" stroke="#000" stroke-width="2.6" fill="none" stroke-linecap="butt"/>
<text transform="translate(149.7 285.4) scale(0.93 1)" text-anchor="middle" font-size="29.0">7-01</text><text transform="translate(238.9 285.4) scale(0.93 1)" text-anchor="middle" font-size="29.0">7-05</text><text transform="translate(350.4 285.4) scale(0.93 1)" text-anchor="middle" font-size="29.0">7-10</text><text transform="translate(461.9 285.4) scale(0.93 1)" text-anchor="middle" font-size="29.0">7-15</text><text transform="translate(573.4 285.4) scale(0.93 1)" text-anchor="middle" font-size="29.0">7-20</text><text transform="translate(685.0 285.4) scale(0.93 1)" text-anchor="middle" font-size="29.0">7-25</text><text transform="translate(841.1 285.4) scale(0.93 1)" text-anchor="middle" font-size="29.0">8-01</text><text transform="translate(930.3 285.4) scale(0.93 1)" text-anchor="middle" font-size="29.0">8-05</text><text transform="translate(1041.8 285.4) scale(0.93 1)" text-anchor="middle" font-size="29.0">8-10</text><text transform="translate(1153.3 285.4) scale(0.93 1)" text-anchor="middle" font-size="29.0">8-15</text><text transform="translate(135.7 32.9) scale(0.93 1)" text-anchor="end" font-size="29.0">0.6</text><text transform="translate(135.7 70.2) scale(0.93 1)" text-anchor="end" font-size="29.0">0.4</text><text transform="translate(135.7 107.6) scale(0.93 1)" text-anchor="end" font-size="29.0">0.2</text><text transform="translate(135.7 145.0) scale(0.93 1)" text-anchor="end" font-size="29.0">0</text><text transform="translate(135.7 182.3) scale(0.93 1)" text-anchor="end" font-size="29.0">-0.2</text><text transform="translate(135.7 219.6) scale(0.93 1)" text-anchor="end" font-size="29.0">-0.4</text><text transform="translate(135.7 257.0) scale(0.93 1)" text-anchor="end" font-size="29.0">-0.6</text>
<text transform="translate(650.4 311.6) scale(0.93 1)" text-anchor="middle" font-size="29.0">2015</text>
<text transform="translate(17.2 40.1) scale(1.01 1)" font-weight="bold" font-size="37">(a)</text>
<text transform="translate(77.6 215.6) rotate(-90) scale(1.054 1)" font-size="26">velocity (m/s)</text>
</g>
<g>
<path d="M148.0 375.7H1151.6M148.0 413.1H1151.6M148.0 450.5H1151.6M148.0 487.8H1151.6M148.0 525.2H1151.6M170.3 338.3V562.6M192.6 338.3V562.6M214.9 338.3V562.6M259.5 338.3V562.6M281.8 338.3V562.6M304.1 338.3V562.6M326.4 338.3V562.6M371.0 338.3V562.6M393.3 338.3V562.6M415.6 338.3V562.6M437.9 338.3V562.6M482.5 338.3V562.6M504.8 338.3V562.6M527.1 338.3V562.6M549.4 338.3V562.6M594.0 338.3V562.6M616.3 338.3V562.6M638.6 338.3V562.6M661.0 338.3V562.6M705.6 338.3V562.6M727.9 338.3V562.6M750.2 338.3V562.6M772.5 338.3V562.6M794.8 338.3V562.6M817.1 338.3V562.6M861.7 338.3V562.6M884.0 338.3V562.6M906.3 338.3V562.6M950.9 338.3V562.6M973.2 338.3V562.6M995.5 338.3V562.6M1017.8 338.3V562.6M1062.4 338.3V562.6M1084.7 338.3V562.6M1107.0 338.3V562.6M1129.3 338.3V562.6" stroke="#858585" stroke-width="1.45" stroke-dasharray="1.2 1.3" fill="none"/>
<g fill="none" stroke-linejoin="miter" stroke-miterlimit="3" stroke-linecap="butt" stroke-width="2.6">
<polyline stroke="#000" points="206.0,468.5 206.5,465.8 207.1,461.3 207.7,455.3 208.2,448.3 208.8,440.6 209.3,433.0 209.9,425.9 210.4,419.9 211.0,415.5 211.6,412.8 212.1,412.2 212.7,412.9 213.2,414.6 213.8,417.2 214.3,420.5 214.9,424.2 215.5,428.0 216.0,431.6 216.6,434.7 217.1,437.2 217.7,438.7 218.3,439.2 218.8,437.8 219.4,433.7 219.9,427.8 220.5,421.4 221.0,415.8 221.6,412.1 222.2,411.2 222.7,412.8 223.3,416.5 223.8,422.1 224.4,429.1 224.9,436.9 225.5,445.0 226.1,452.7 226.6,459.5 227.2,464.7 227.7,468.0 228.3,469.1 228.8,468.1 229.4,465.2 230.0,460.5 230.5,454.4 231.1,447.5 231.6,440.3 232.2,433.2 232.7,427.0 233.3,422.0 233.9,418.6 234.4,417.2 235.0,418.9 235.5,425.4 236.1,434.7 236.7,444.1 237.2,450.6 237.8,452.3 238.3,451.6 238.9,449.9 239.4,447.4 240.0,444.1 240.6,440.4 241.1,436.3 241.7,432.2 242.2,428.3 242.8,424.8 243.3,422.0 243.9,420.0 244.5,418.9 245.0,418.8 245.6,420.2 246.1,422.9 246.7,427.0 247.2,432.0 247.8,437.7 248.4,443.7 248.9,449.6 249.5,455.1 250.0,459.8 250.6,463.3 251.1,465.6 251.7,466.3 252.3,465.3 252.8,462.4 253.4,457.7 253.9,451.9 254.5,445.5 255.1,439.1 255.6,433.2 256.2,428.6 256.7,425.7 257.3,424.7 257.8,425.3 258.4,427.2 259.0,430.2 259.5,434.1 260.1,438.4 260.6,442.7 261.2,446.8 261.7,450.1 262.3,452.5 262.9,453.7 263.4,453.6 264.0,452.2 264.5,449.6 265.1,446.2 265.6,442.2 266.2,438.1 266.8,434.2 267.3,430.9 267.9,428.5 268.4,427.4 269.0,427.7 269.5,430.2 270.1,434.8 270.7,441.0 271.2,448.3 271.8,456.0 272.3,463.4 272.9,469.9 273.5,474.8 274.0,477.7 274.6,478.5 275.1,477.5 275.7,475.4 276.2,472.0 276.8,467.8 277.4,462.8 277.9,457.3 278.5,451.8 279.0,446.4 279.6,441.6 280.1,437.5 280.7,434.4 281.3,432.4 281.8,431.8 282.4,433.1 282.9,436.8 283.5,442.4 284.0,449.0 284.6,455.7 285.2,461.3 285.7,465.0 286.3,466.3 286.8,465.4 287.4,462.7 287.9,458.5 288.5,453.3 289.1,447.8 289.6,442.5 290.2,438.0 290.7,435.0 291.3,433.7 291.8,434.2 292.4,436.3 293.0,440.0 293.5,444.9 294.1,450.7 294.6,457.0 295.2,463.2 295.8,469.0 296.3,474.0 296.9,477.6 297.4,479.8 298.0,480.3 298.5,479.2 299.1,476.6 299.7,472.6 300.2,467.6 300.8,461.8 301.3,455.8 301.9,449.8 302.4,444.3 303.0,439.6 303.6,436.2 304.1,434.1 304.7,433.7 305.2,434.9 305.8,437.8 306.3,442.1 306.9,447.3 307.5,453.2 308.0,459.0 308.6,464.3 309.1,468.5 309.7,471.4 310.2,472.7 310.8,472.0 311.4,469.4 311.9,465.1 312.5,459.7 313.0,453.9 313.6,448.4 314.2,443.8 314.7,440.8 315.3,439.8 315.8,440.7 316.4,443.5 316.9,447.8 317.5,453.2 318.1,459.1 318.6,465.1 319.2,470.5 319.7,474.8 320.3,477.5 320.8,478.5 321.4,477.8 322.0,475.7 322.5,472.5 323.1,468.2 323.6,463.2 324.2,457.9 324.7,452.6 325.3,447.6 325.9,443.4 326.4,440.1 327.0,438.1 327.5,437.4 328.1,438.2 328.6,440.8 329.2,444.7 329.8,449.6 330.3,455.1 330.9,460.6 331.4,465.6 332.0,469.5 332.6,472.0 333.1,472.9 333.7,471.6 334.2,468.0 334.8,462.7 335.3,456.3 335.9,450.0 336.5,444.6 337.0,441.1 337.6,439.8 338.1,440.4 338.7,442.2 339.2,445.0 339.8,448.7 340.4,453.1 340.9,457.8 341.5,462.6 342.0,467.1 342.6,471.1 343.1,474.3 343.7,476.6 344.3,477.6 344.8,477.5 345.4,476.2 345.9,473.7 346.5,470.4 347.0,466.6 347.6,462.5 348.2,458.5 348.7,455.0 349.3,452.4 349.8,450.8 350.4,450.5 351.0,452.1 351.5,455.9 352.1,461.5 352.6,468.3 353.2,475.7 353.7,482.9 354.3,489.3 354.9,494.2 355.4,497.2 356.0,497.9 356.5,497.0 357.1,494.9 357.6,491.7 358.2,487.6 358.8,482.9 359.3,477.9 359.9,472.9 360.4,468.2 361.0,464.1 361.5,461.0 362.1,458.8 362.7,458.0 363.2,458.3 363.8,459.7 364.3,462.1 364.9,465.2 365.4,468.5 366.0,471.8 366.6,474.6 367.1,476.6 367.7,477.6 368.2,477.5 368.8,475.9 369.3,473.1 369.9,469.2 370.5,464.7 371.0,459.7 371.6,454.9 372.1,450.6 372.7,447.1 373.3,444.7 373.8,443.7 374.4,444.2 374.9,446.3 375.5,449.6 376.0,454.1 376.6,459.2 377.2,464.5 377.7,469.5 378.3,473.7 378.8,476.8 379.4,478.6 379.9,478.8 380.5,477.5 381.1,475.0 381.6,471.4 382.2,466.9 382.7,461.8 383.3,456.4 383.8,451.1 384.4,446.1 385.0,441.9 385.5,438.7 386.1,436.7 386.6,436.1 387.2,436.8 387.7,438.8 388.3,441.9 388.9,445.5 389.4,449.1 390.0,452.2 390.5,454.2 391.1,454.9 391.7,454.1 392.2,451.7 392.8,448.0 393.3,443.4 393.9,438.5 394.4,433.8 395.0,429.9 395.6,427.2 396.1,426.0 396.7,426.3 397.2,427.5 397.8,429.6 398.3,432.4 398.9,435.9 399.5,439.7 400.0,443.8 400.6,447.9 401.1,451.8 401.7,455.2 402.2,458.1 402.8,460.1 403.4,461.4 403.9,461.6 404.5,460.9 405.0,459.3 405.6,456.7 406.1,453.5 406.7,449.7 407.3,445.7 407.8,441.6 408.4,437.6 408.9,434.2 409.5,431.3 410.1,429.3 410.6,428.2 411.2,428.2 411.7,429.7 412.3,432.7 412.8,436.6 413.4,440.8 414.0,444.6 414.5,447.3 415.1,448.5 415.6,448.1 416.2,446.3 416.7,443.4 417.3,439.7 417.9,435.8 418.4,432.0 419.0,428.9 419.5,426.9 420.1,426.2 420.6,426.8 421.2,428.6 421.8,431.4 422.3,435.1 422.9,439.4 423.4,443.9 424.0,448.3 424.5,452.4 425.1,455.8 425.7,458.2 426.2,459.6 426.8,459.7 427.3,458.2 427.9,455.1 428.5,450.8 429.0,445.5 429.6,439.7 430.1,433.7 430.7,428.2 431.2,423.4 431.8,419.8 432.4,417.7 432.9,417.2 433.5,418.0 434.0,419.7 434.6,422.3 435.1,425.3 435.7,428.5 436.3,431.5 436.8,433.9 437.4,435.5 437.9,436.1 438.5,435.3 439.0,433.2 439.6,430.1 440.2,426.2 440.7,422.1 441.3,418.3 441.8,415.4 442.4,413.5 442.9,413.1 443.5,414.7 444.1,418.6 444.6,424.3 445.2,431.5 445.7,439.6 446.3,448.0 446.8,455.9 447.4,462.9 448.0,468.3 448.5,471.7 449.1,472.9 449.6,472.0 450.2,469.2 450.8,464.9 451.3,459.3 451.9,452.7 452.4,445.7 453.0,438.6 453.5,432.1 454.1,426.5 454.7,422.1 455.2,419.4 455.8,418.5 456.3,419.2 456.9,421.2 457.4,424.4 458.0,428.2 458.6,432.2 459.1,435.9 459.7,438.8 460.2,440.6 460.8,441.1 461.3,439.9 461.9,437.2 462.5,433.4 463.0,429.0 463.6,424.5 464.1,420.7 464.7,418.0 465.2,416.8 465.8,417.5 466.4,420.3 466.9,425.0 467.5,431.3 468.0,438.6 468.6,446.4 469.2,454.1 469.7,461.1 470.3,466.8 470.8,470.7 471.4,472.7 471.9,472.6 472.5,470.9 473.1,467.8 473.6,463.4 474.2,458.0 474.7,451.8 475.3,445.2 475.8,438.6 476.4,432.2 477.0,426.4 477.5,421.6 478.1,418.0 478.6,415.7 479.2,414.9 479.7,416.0 480.3,418.9 480.9,423.1 481.4,428.1 482.0,432.9 482.5,436.7 483.1,438.9 483.6,439.1 484.2,437.7 484.8,435.0 485.3,431.3 485.9,427.2 486.4,423.2 487.0,419.8 487.6,417.6 488.1,416.8 488.7,417.6 489.2,419.9 489.8,423.7 490.3,428.7 490.9,434.6 491.5,441.2 492.0,448.1 492.6,454.9 493.1,461.3 493.7,466.9 494.2,471.4 494.8,474.6 495.4,476.3 495.9,476.5 496.5,475.1 497.0,472.2 497.6,467.9 498.1,462.5 498.7,456.3 499.3,449.6 499.8,442.8 500.4,436.2 500.9,430.1 501.5,424.9 502.0,420.9 502.6,418.3 503.2,417.2 503.7,417.9 504.3,420.5 504.8,424.5 505.4,429.1 506.0,433.4 506.5,436.3 507.1,437.4 507.6,436.6 508.2,434.3 508.7,431.1 509.3,427.2 509.9,423.6 510.4,420.6 511.0,419.0 511.5,418.8 512.1,420.4 512.6,423.7 513.2,428.4 513.8,434.4 514.3,441.1 514.9,448.1 515.4,455.1 516.0,461.5 516.5,467.0 517.1,471.2 517.7,473.9 518.2,474.7 518.8,474.1 519.3,472.3 519.9,469.4 520.4,465.6 521.0,460.9 521.6,455.6 522.1,449.9 522.7,444.2 523.2,438.6 523.8,433.4 524.4,428.9 524.9,425.2 525.5,422.5 526.0,420.9 526.6,420.6 527.1,421.6 527.7,423.8 528.3,426.9 528.8,430.3 529.4,433.6 529.9,436.0 530.5,437.3 531.0,437.0 531.6,434.9 532.2,431.6 532.7,428.0 533.3,425.3 533.8,424.3 534.4,425.1 534.9,427.5 535.5,431.3 536.1,436.3 536.6,442.3 537.2,448.7 537.7,455.4 538.3,461.8 538.8,467.5 539.4,472.3 540.0,475.9 540.5,478.0 541.1,478.5 541.6,477.4 542.2,474.8 542.7,470.9 543.3,466.0 543.9,460.3 544.4,454.2 545.0,448.1 545.5,442.4 546.1,437.4 546.7,433.6 547.2,431.0 547.8,429.9 548.3,430.3 548.9,432.0 549.4,434.8 550.0,438.4 550.6,442.4 551.1,446.4 551.7,450.0 552.2,452.8 552.8,454.5 553.3,454.9 553.9,453.8 554.5,451.2 555.0,447.6 555.6,443.6 556.1,439.9 556.7,437.1 557.2,435.6 557.8,435.8 558.4,437.6 558.9,441.0 559.5,445.6 560.0,451.0 560.6,457.0 561.1,462.9 561.7,468.4 562.3,473.0 562.8,476.4 563.4,478.2 563.9,478.4 564.5,477.1 565.1,474.5 565.6,470.7 566.2,465.9 566.7,460.6 567.3,454.9 567.8,449.3 568.4,444.2 569.0,439.8 569.5,436.4 570.1,434.3 570.6,433.6 571.2,434.4 571.7,436.7 572.3,440.3 572.9,444.6 573.4,449.3 574.0,453.8 574.5,457.6 575.1,460.1 575.6,461.3 576.2,460.8 576.8,459.0 577.3,456.0 577.9,452.2 578.4,448.0 579.0,443.9 579.5,440.4 580.1,437.8 580.7,436.5 581.2,436.7 581.8,438.3 582.3,441.3 582.9,445.3 583.5,450.1 584.0,455.2 584.6,460.3 585.1,464.8 585.7,468.4 586.2,470.9 586.8,471.9 587.4,471.5 587.9,469.6 588.5,466.5 589.0,462.2 589.6,457.0 590.1,451.3 590.7,445.4 591.3,439.6 591.8,434.3 592.4,429.8 592.9,426.4 593.5,424.3 594.0,423.5 594.6,424.4 595.2,426.8 595.7,430.4 596.3,434.8 596.8,439.5 597.4,443.8 597.9,447.3 598.5,449.4 599.1,449.8 599.6,448.3 600.2,444.7 600.7,439.5 601.3,433.5 601.9,427.6 602.4,422.4 603.0,418.8 603.5,417.2 604.1,417.6 604.6,419.4 605.2,422.5 605.8,426.6 606.3,431.4 606.9,436.6 607.4,441.8 608.0,446.6 608.5,450.7 609.1,453.8 609.7,455.6 610.2,456.0 610.8,454.9 611.3,452.1 611.9,448.0 612.4,442.8 613.0,437.0 613.6,431.0 614.1,425.2 614.7,420.2 615.2,416.4 615.8,413.9 616.3,413.1 616.9,413.9 617.5,416.4 618.0,420.0 618.6,424.3 619.1,428.6 619.7,432.2 620.2,434.6 620.8,435.5 621.4,434.8 621.9,432.6 622.5,429.4 623.0,425.5 623.6,421.3 624.2,417.5 624.7,414.5 625.3,412.6 625.8,412.2 626.4,412.9 626.9,414.8 627.5,417.6 628.1,421.1 628.6,425.1 629.2,429.2 629.7,433.3 630.3,436.9 630.8,439.8 631.4,441.9 632.0,442.9 632.5,442.7 633.1,440.7 633.6,437.3 634.2,432.7 634.7,427.6 635.3,422.4 635.9,417.8 636.4,414.4 637.0,412.5 637.5,412.3 638.1,413.7 638.6,416.6 639.2,420.6 639.8,425.4 640.3,430.5 640.9,435.5 641.4,439.7 642.0,442.8 642.6,444.6 643.1,444.7 643.7,443.5 644.2,441.1 644.8,437.6 645.3,433.5 645.9,429.0 646.5,424.6 647.0,420.7 647.6,417.6 648.1,415.6 648.7,414.9 649.2,415.5 649.8,417.1 650.4,419.6 650.9,422.8 651.5,426.5 652.0,430.3 652.6,433.9 653.1,437.0 653.7,439.4 654.3,440.8 654.8,441.1 655.4,440.2 655.9,438.1 656.5,435.0 657.0,431.3 657.6,427.1 658.2,422.9 658.7,419.1 659.3,416.1 659.8,414.0 660.4,413.1 661.0,413.6 661.5,415.6 662.1,419.0 662.6,423.3 663.2,428.0 663.7,432.7 664.3,436.7 664.9,439.5 665.4,441.0 666.0,440.8 666.5,439.2 667.1,436.2 667.6,432.4 668.2,428.1 668.8,423.9 669.3,420.4 669.9,417.9 670.4,416.8 671.0,417.0 671.5,417.9 672.1,419.4 672.7,421.3 673.2,423.7 673.8,426.4 674.3,429.1 674.9,431.8 675.4,434.3 676.0,436.3 676.6,437.9 677.1,438.9 677.7,439.2 678.2,438.6 678.8,436.6 679.4,433.6 679.9,429.9 680.5,425.7 681.0,421.5 681.6,417.7 682.1,414.7 682.7,412.8 683.3,412.1 683.8,412.6 684.4,414.0 684.9,416.1 685.5,419.0 686.0,422.4 686.6,426.0 687.2,429.8 687.7,433.5 688.3,436.7 688.8,439.5 689.4,441.5 689.9,442.7 690.5,443.0 691.1,442.3 691.6,440.6 692.2,438.2 692.7,435.2 693.3,432.0 693.8,428.9 694.4,426.1 695.0,424.0 695.5,422.7 696.1,422.4 696.6,422.8 697.2,423.7 697.7,425.0 698.3,426.4 698.9,427.8 699.4,429.0 700.0,429.7 700.5,429.9 701.1,429.4 701.7,428.4 702.2,426.9 702.8,425.0 703.3,423.1 703.9,421.4 704.4,419.9 705.0,419.0 705.6,418.7 706.1,419.2 706.7,420.8 707.2,423.3 707.8,426.6 708.3,430.4 708.9,434.6 709.5,438.7 710.0,442.5 710.6,445.8 711.1,448.3 711.7,449.9 712.2,450.5 712.8,450.0 713.4,448.8 713.9,446.8 714.5,444.1 715.0,440.9 715.6,437.4 716.1,433.7 716.7,430.1 717.3,426.7 717.8,423.7 718.4,421.3 718.9,419.6 719.5,418.6 720.1,418.6 720.6,419.3 721.2,420.6 721.7,422.5 722.3,424.4 722.8,426.2 723.4,427.4 724.0,428.0 724.5,427.7 725.1,426.4 725.6,424.3 726.2,421.7 726.7,418.9 727.3,416.3 727.9,414.4 728.4,413.3 729.0,413.1 729.5,413.9 730.1,415.6 730.6,418.0 731.2,421.0 731.8,424.5 732.3,428.3 732.9,432.2 733.4,436.0 734.0,439.4 734.5,442.3 735.1,444.6 735.7,446.1 736.2,446.7 736.8,446.4 737.3,445.4 737.9,443.6 738.5,441.1 739.0,438.2 739.6,434.8 740.1,431.3 740.7,427.8 741.2,424.4 741.8,421.4 742.4,419.0 742.9,417.2 743.5,416.1 744.0,415.9 744.6,416.8 745.1,418.9 745.7,421.7 746.3,424.7 746.8,427.4 747.4,429.2 747.9,429.9 748.5,429.2 749.0,427.3 749.6,424.5 750.2,421.6 750.7,418.9 751.3,417.2 751.8,416.8 752.4,417.5 752.9,419.2 753.5,421.8 754.1,425.2 754.6,429.2 755.2,433.6 755.7,438.3 756.3,443.0 756.9,447.4 757.4,451.4 758.0,454.8 758.5,457.4 759.1,459.1 759.6,459.8 760.2,459.4 760.8,458.0 761.3,455.5 761.9,452.0 762.4,447.9 763.0,443.2 763.5,438.3 764.1,433.4 764.7,428.7 765.2,424.6 765.8,421.1 766.3,418.6 766.9,417.2 767.4,416.8 768.0,417.8 768.6,419.9 769.1,422.7 769.7,425.7 770.2,428.2 770.8,429.6 771.3,429.8 771.9,429.3 772.5,428.1 773.0,426.5 773.6,424.7 774.1,422.8 774.7,421.0 775.2,419.7 775.8,418.9 776.4,418.7 776.9,419.6 777.5,421.7 778.0,424.9 778.6,429.0 779.2,433.8 779.7,439.0 780.3,444.3 780.8,449.4 781.4,454.1 781.9,458.1 782.5,461.0 783.1,462.9 783.6,463.5 784.2,462.9 784.7,461.0 785.3,457.9 785.8,453.8 786.4,449.0 787.0,443.7 787.5,438.2 788.1,432.8 788.6,427.8 789.2,423.6 789.7,420.3 790.3,418.1 790.9,417.2 791.4,417.6 792.0,419.1 792.5,421.5 793.1,424.5 793.6,427.4 794.2,429.8 794.8,431.4 795.3,431.7 795.9,431.1 796.4,429.6 797.0,427.6 797.6,425.2 798.1,422.9 798.7,421.1 799.2,419.9 799.8,419.6 800.3,420.8 800.9,423.6 801.5,427.9 802.0,433.3 802.6,439.6 803.1,446.2 803.7,452.9 804.2,459.2 804.8,464.6 805.4,468.8 805.9,471.7 806.5,472.8 807.0,472.3 807.6,469.8 808.1,465.7 808.7,460.2 809.3,453.7 809.8,446.7 810.4,439.7 810.9,433.2 811.5,427.7 812.0,423.6 812.6,421.2 813.2,420.6 813.7,421.4 814.3,423.2 814.8,425.7 815.4,428.6 816.0,431.4 816.5,433.7 817.1,435.1 817.6,435.5 818.2,434.7 818.7,432.9 819.3,430.4 819.9,427.2 820.4,423.9 821.0,420.7 821.5,417.9 822.1,416.0 822.6,415.0 823.2,415.3 823.8,417.4 824.3,421.2 824.9,426.4 825.4,432.7 826.0,439.7 826.5,446.7 827.1,453.4 827.7,459.1 828.2,463.5 828.8,466.3 829.3,467.3 829.9,465.7 830.4,461.2 831.0,454.2 831.6,445.8 832.1,436.9 832.7,428.7 833.2,422.2 833.8,418.2 834.4,417.2 834.9,417.9 835.5,419.6 836.0,422.1 836.6,425.1 837.1,428.2 837.7,431.1 838.3,433.4 838.8,435.0 839.4,435.5 839.9,435.2 840.5,434.2 841.0,432.7 841.6,430.7 842.2,428.5 842.7,426.1 843.3,423.9 843.8,421.8 844.4,420.2 844.9,419.1 845.5,418.7 846.1,419.2 846.6,421.3 847.2,424.8 847.7,429.5 848.3,435.1 848.8,441.4 849.4,447.7 850.0,453.9 850.5,459.4 851.1,463.9 851.6,467.1 852.2,468.9 852.8,468.9 853.3,465.8 853.9,459.8 854.4,451.7 855.0,442.5 855.5,433.6 856.1,426.2 856.7,421.3 857.2,419.6 857.8,420.1 858.3,421.5 858.9,423.7 859.4,426.4 860.0,429.2 860.6,431.8 861.1,433.9 861.7,435.2 862.2,435.5 862.8,435.1 863.3,434.1 863.9,432.7 864.5,430.9 865.0,428.9 865.6,426.8 866.1,424.8 866.7,423.0 867.2,421.7 867.8,420.8 868.4,420.5 868.9,421.4 869.5,423.9 870.0,427.9 870.6,433.2 871.1,439.2 871.7,445.8 872.3,452.3 872.8,458.4 873.4,463.6 873.9,467.6 874.5,470.2 875.1,471.0 875.6,470.0 876.2,467.1 876.7,462.5 877.3,456.7 877.8,450.0 878.4,443.2 879.0,436.6 879.5,431.0 880.1,426.7 880.6,424.2 881.2,423.5 881.7,424.0 882.3,425.1 882.9,426.8 883.4,428.7 884.0,430.7 884.5,432.6 885.1,434.2 885.6,435.2 886.2,435.5 886.8,435.2 887.3,434.3 887.9,433.0 888.4,431.3 889.0,429.3 889.5,427.4 890.1,425.6 890.7,424.1 891.2,423.0 891.8,422.5 892.3,422.7 892.9,424.7 893.5,428.4 894.0,433.3 894.6,439.3 895.1,445.8 895.7,452.2 896.2,458.2 896.8,463.2 897.4,466.8 897.9,468.8 898.5,468.9 899.0,466.0 899.6,460.3 900.1,452.7 900.7,444.0 901.3,435.6 901.8,428.6 902.4,424.0 902.9,422.4 903.5,423.0 904.0,424.7 904.6,427.3 905.2,430.8 905.7,434.9 906.3,439.2 906.8,443.6 907.4,447.6 907.9,451.1 908.5,453.8 909.1,455.5 909.6,456.1 910.2,454.7 910.7,450.7 911.3,444.8 911.9,437.8 912.4,430.9 913.0,424.9 913.5,421.0 914.1,419.6 914.6,420.3 915.2,422.1 915.8,425.1 916.3,428.9 916.9,433.2 917.4,437.7 918.0,442.0 918.5,445.6 919.1,448.4 919.7,450.0 920.2,450.4 920.8,449.6 921.3,447.7 921.9,444.8 922.4,441.2 923.0,437.2 923.6,433.2 924.1,429.4 924.7,426.2 925.2,423.9 925.8,422.6 926.3,422.6 926.9,424.2 927.5,427.5 928.0,432.1 928.6,437.7 929.1,443.7 929.7,449.6 930.3,454.9 930.8,459.0 931.4,461.7 931.9,462.6 932.5,460.9 933.0,456.3 933.6,449.3 934.2,441.4 934.7,433.6 935.3,427.5 935.8,423.9 936.4,423.4 936.9,424.4 937.5,426.4 938.1,429.2 938.6,432.9 939.2,437.1 939.7,441.6 940.3,446.2 940.8,450.7 941.4,454.8 942.0,458.3 942.5,461.0 943.1,462.8 943.6,463.5 944.2,462.8 944.7,460.0 945.3,455.4 945.9,449.6 946.4,443.2 947.0,437.3 947.5,432.4 948.1,429.1 948.6,428.0 949.2,428.7 949.8,430.8 950.3,434.1 950.9,438.5 951.4,443.4 952.0,448.7 952.6,453.9 953.1,458.7 953.7,462.6 954.2,465.5 954.8,467.0 955.3,467.1 955.9,465.3 956.5,461.7 957.0,456.6 957.6,450.6 958.1,444.1 958.7,438.0 959.2,432.6 959.8,428.7 960.4,426.5 960.9,426.3 961.5,427.9 962.0,431.2 962.6,435.8 963.1,441.4 963.7,447.5 964.3,453.4 964.8,458.6 965.4,462.8 965.9,465.4 966.5,466.3 967.0,465.2 967.6,462.0 968.2,457.1 968.7,451.1 969.3,444.6 969.8,438.4 970.4,433.2 971.0,429.6 971.5,428.1 972.1,428.5 972.6,430.4 973.2,433.5 973.7,437.7 974.3,442.6 974.9,447.8 975.4,452.9 976.0,457.5 976.5,461.3 977.1,464.0 977.6,465.3 978.2,465.0 978.8,462.8 979.3,458.9 979.9,453.6 980.4,447.6 981.0,441.7 981.5,436.4 982.1,432.5 982.7,430.3 983.2,430.0 983.8,431.0 984.3,433.0 984.9,436.0 985.4,439.6 986.0,443.6 986.6,447.6 987.1,451.4 987.7,454.6 988.2,457.1 988.8,458.5 989.4,458.8 989.9,458.0 990.5,456.2 991.0,453.4 991.6,449.9 992.1,446.0 992.7,441.9 993.3,438.1 993.8,434.7 994.4,432.1 994.9,430.5 995.5,429.9 996.0,430.4 996.6,431.8 997.2,434.2 997.7,437.3 998.3,441.0 998.8,445.1 999.4,449.4 999.9,453.7 1000.5,457.7 1001.1,461.2 1001.6,464.0 1002.2,466.0 1002.7,467.1 1003.3,467.2 1003.8,466.0 1004.4,463.5 1005.0,460.1 1005.5,455.9 1006.1,451.4 1006.6,447.0 1007.2,443.1 1007.8,440.0 1008.3,438.0 1008.9,437.4 1009.4,438.0 1010.0,439.9 1010.5,442.8 1011.1,446.2 1011.7,449.5 1012.2,452.4 1012.8,454.3 1013.3,454.9 1013.9,454.2 1014.4,452.1 1015.0,448.9 1015.6,445.0 1016.1,440.9 1016.7,437.1 1017.2,434.1 1017.8,432.2 1018.3,431.8 1018.9,432.3 1019.5,433.6 1020.0,435.5 1020.6,438.0 1021.1,440.9 1021.7,444.2 1022.2,447.6 1022.8,451.1 1023.4,454.4 1023.9,457.3 1024.5,459.8 1025.0,461.7 1025.6,463.0 1026.1,463.5 1026.7,463.2 1027.3,461.9 1027.8,459.7 1028.4,456.7 1028.9,453.1 1029.5,449.2 1030.1,445.1 1030.6,441.0 1031.2,437.4 1031.7,434.2 1032.3,431.9 1032.8,430.4 1033.4,429.9 1034.0,430.8 1034.5,433.6 1035.1,438.0 1035.6,443.5 1036.2,449.5 1036.7,455.6 1037.3,461.1 1037.9,465.4 1038.4,468.2 1039.0,469.1 1039.5,468.0 1040.1,464.5 1040.6,459.3 1041.2,452.8 1041.8,445.8 1042.3,439.1 1042.9,433.6 1043.4,429.7 1044.0,428.1 1044.5,428.3 1045.1,429.5 1045.7,431.6 1046.2,434.4 1046.8,437.7 1047.3,441.3 1047.9,445.0 1048.5,448.4 1049.0,451.4 1049.6,453.8 1050.1,455.4 1050.7,456.0 1051.2,455.7 1051.8,454.1 1052.4,451.4 1052.9,447.9 1053.5,443.7 1054.0,439.2 1054.6,434.7 1055.1,430.6 1055.7,427.0 1056.3,424.4 1056.8,422.8 1057.4,422.4 1057.9,423.0 1058.5,424.1 1059.0,425.8 1059.6,427.8 1060.2,429.6 1060.7,431.1 1061.3,432.1 1061.8,432.3 1062.4,432.0 1062.9,431.1 1063.5,430.0 1064.1,428.6 1064.6,427.2 1065.2,425.9 1065.7,424.9 1066.3,424.4 1066.9,424.4 1067.4,425.8 1068.0,428.7 1068.5,432.8 1069.1,437.8 1069.6,443.5 1070.2,449.3 1070.8,454.8 1071.3,459.7 1071.9,463.6 1072.4,466.1 1073.0,467.2 1073.5,466.9 1074.1,465.2 1074.7,462.4 1075.2,458.5 1075.8,453.8 1076.3,448.5 1076.9,443.0 1077.4,437.4 1078.0,432.1 1078.6,427.4 1079.1,423.6 1079.7,420.7 1080.2,419.1 1080.8,418.7 1081.3,419.6 1081.9,421.6 1082.5,424.5 1083.0,428.0 1083.6,431.5 1084.1,434.7 1084.7,437.1 1085.3,438.4 1085.8,438.6 1086.4,437.9 1086.9,436.4 1087.5,434.3 1088.0,432.0 1088.6,429.5 1089.2,427.3 1089.7,425.6 1090.3,424.5 1090.8,424.3 1091.4,425.5 1091.9,428.1 1092.5,432.2 1093.1,437.3 1093.6,443.1 1094.2,449.1 1094.7,455.0"/>
<polyline stroke="#ff0000" points="148.0,436.1 148.6,435.6 149.1,434.3 149.7,432.3 150.2,429.7 150.8,426.8 151.3,423.9 151.9,421.2 152.5,418.9 153.0,417.3 153.6,416.5 154.1,416.9 154.7,419.5 155.2,424.2 155.8,430.5 156.4,438.0 156.9,446.0 157.5,453.6 158.0,460.3 158.6,465.3 159.2,468.4 159.7,469.1 160.3,468.3 160.8,466.2 161.4,463.1 161.9,459.0 162.5,454.1 163.1,448.8 163.6,443.2 164.2,437.5 164.7,432.2 165.3,427.3 165.8,423.3 166.4,420.1 167.0,418.1 167.5,417.2 168.1,417.7 168.6,419.6 169.2,422.5 169.7,425.8 170.3,428.9 170.9,431.0 171.4,431.8 172.0,431.3 172.5,429.9 173.1,427.7 173.6,425.1 174.2,422.2 174.8,419.5 175.3,417.2 175.9,415.6 176.4,415.0 177.0,415.7 177.6,418.5 178.1,423.4 178.7,429.8 179.2,437.4 179.8,445.4 180.3,453.4 180.9,460.5 181.5,466.4 182.0,470.5 182.6,472.5 183.1,472.5 183.7,471.3 184.2,469.2 184.8,466.0 185.4,462.1 185.9,457.5 186.5,452.5 187.0,447.1 187.6,441.7 188.1,436.4 188.7,431.4 189.3,426.9 189.8,423.1 190.4,420.2 190.9,418.2 191.5,417.3 192.0,417.5 192.6,419.6 193.2,423.0 193.7,427.0 194.3,430.6 194.8,433.0 195.4,433.6 195.9,432.6 196.5,430.4 197.1,427.4 197.6,424.2 198.2,421.3 198.7,419.4 199.3,418.7 199.9,419.7 200.4,422.7 201.0,427.4 201.5,433.5 202.1,440.5 202.6,447.8 203.2,454.9 203.8,461.2 204.3,466.2 204.9,469.5 205.4,471.0 206.0,470.4 206.5,468.0 207.1,463.8 207.7,458.3 208.2,451.8 208.8,444.8 209.3,437.8 209.9,431.4 210.4,425.8 211.0,421.7 211.6,419.3 212.1,418.7 212.7,419.2 213.2,420.5 213.8,422.4 214.3,424.8 214.9,427.6 215.5,430.3 216.0,433.0 216.6,435.3 217.1,437.1 217.7,438.3 218.3,438.7 218.8,437.4 219.4,434.0 219.9,429.0 220.5,423.6 221.0,418.8 221.6,415.7 222.2,415.0 222.7,416.5 223.3,420.1 223.8,425.5 224.4,432.2 224.9,439.8 225.5,447.7 226.1,455.1 226.6,461.7 227.2,466.7 227.7,469.9 228.3,471.0 228.8,470.0 229.4,467.1 230.0,462.6 230.5,456.7 231.1,450.0 231.6,443.0 232.2,436.1 232.7,430.0 233.3,425.2 233.9,422.0 234.4,420.6 235.0,421.7 235.5,426.2 236.1,432.7 236.7,439.2 237.2,443.6 237.8,444.8 238.3,444.3 238.9,443.0 239.4,441.0 240.0,438.5 240.6,435.6 241.1,432.4 241.7,429.2 242.2,426.2 242.8,423.5 243.3,421.2 243.9,419.7 244.5,418.8 245.0,418.8 245.6,420.6 246.1,424.3 246.7,429.6 247.2,436.2 247.8,443.8 248.4,451.7 248.9,459.5 249.5,466.7 250.0,472.8 250.6,477.5 251.1,480.5 251.7,481.5 252.3,480.2 252.8,476.4 253.4,470.5 253.9,463.0 254.5,454.7 255.1,446.5 255.6,439.0 256.2,433.1 256.7,429.3 257.3,428.0 257.8,428.5 258.4,429.8 259.0,432.0 259.5,434.7 260.1,437.7 260.6,440.8 261.2,443.6 261.7,446.0 262.3,447.7 262.9,448.5 263.4,448.4 264.0,447.3 264.5,445.2 265.1,442.5 265.6,439.3 266.2,435.9 266.8,432.8 267.3,430.2 267.9,428.3 268.4,427.4 269.0,427.7 269.5,430.3 270.1,435.0 270.7,441.5 271.2,449.0 271.8,457.0 272.3,464.7 272.9,471.4 273.5,476.5 274.0,479.6 274.6,480.3 275.1,479.3 275.7,476.8 276.2,473.0 276.8,468.2 277.4,462.5 277.9,456.3 278.5,450.0 279.0,443.9 279.6,438.4 280.1,433.8 280.7,430.2 281.3,428.0 281.8,427.3 282.4,428.5 282.9,431.9 283.5,437.0 284.0,443.1 284.6,449.1 285.2,454.2 285.7,457.7 286.3,458.9 286.8,458.1 287.4,455.9 287.9,452.5 288.5,448.3 289.1,443.8 289.6,439.5 290.2,435.9 290.7,433.4 291.3,432.4 291.8,432.8 292.4,434.7 293.0,438.0 293.5,442.4 294.1,447.5 294.6,453.1 295.2,458.6 295.8,463.8 296.3,468.1 296.9,471.4 297.4,473.3 298.0,473.8 298.5,472.8 299.1,470.5 299.7,467.0 300.2,462.6 300.8,457.5 301.3,452.2 301.9,446.9 302.4,442.1 303.0,438.0 303.6,434.9 304.1,433.1 304.7,432.7 305.2,433.8 305.8,436.4 306.3,440.2 306.9,445.0 307.5,450.2 308.0,455.4 308.6,460.1 309.1,463.9 309.7,466.5 310.2,467.6 310.8,467.1 311.4,464.9 311.9,461.2 312.5,456.7 313.0,451.7 313.6,447.0 314.2,443.2 314.7,440.7 315.3,439.8 315.8,440.7 316.4,443.2 316.9,447.1 317.5,452.0 318.1,457.5 318.6,462.9 319.2,467.8 319.7,471.7 320.3,474.3 320.8,475.1 321.4,474.5 322.0,472.5 322.5,469.4 323.1,465.4 323.6,460.6 324.2,455.6 324.7,450.5 325.3,445.8 325.9,441.8 326.4,438.7 327.0,436.7 327.5,436.1 328.1,437.0 328.6,439.7 329.2,443.8 329.8,449.1 330.3,454.9 330.9,460.8 331.4,466.0 332.0,470.2 332.6,472.9 333.1,473.8 333.7,472.8 334.2,469.8 334.8,465.3 335.3,460.0 335.9,454.7 336.5,450.2 337.0,447.2 337.6,446.2 338.1,446.7 338.7,448.1 339.2,450.5 339.8,453.6 340.4,457.2 340.9,461.1 341.5,465.1 342.0,468.9 342.6,472.2 343.1,474.9 343.7,476.8 344.3,477.7 344.8,477.5 345.4,476.1 345.9,473.5 346.5,469.9 347.0,465.8 347.6,461.4 348.2,457.2 348.7,453.5 349.3,450.7 349.8,449.0 350.4,448.6 351.0,449.9 351.5,452.9 352.1,457.4 352.6,462.8 353.2,468.7 353.7,474.5 354.3,479.6 354.9,483.6 355.4,485.9 356.0,486.5 356.5,485.8 357.1,484.2 357.6,481.8 358.2,478.7 358.8,475.2 359.3,471.4 359.9,467.6 360.4,464.0 361.0,461.0 361.5,458.5 362.1,456.9 362.7,456.3 363.2,456.6 363.8,457.9 364.3,460.0 364.9,462.7 365.4,465.6 366.0,468.5 366.6,471.0 367.1,472.8 367.7,473.7 368.2,473.6 368.8,472.2 369.3,469.7 369.9,466.3 370.5,462.2 371.0,457.9 371.6,453.6 372.1,449.8 372.7,446.7 373.3,444.6 373.8,443.7 374.4,444.3 374.9,446.7 375.5,450.7 376.0,456.0 376.6,462.0 377.2,468.2 377.7,474.1 378.3,479.1 378.8,482.8 379.4,484.9 379.9,485.1 380.5,483.8 381.1,481.1 381.6,477.3 382.2,472.5 382.7,467.1 383.3,461.4 383.8,455.7 384.4,450.5 385.0,446.0 385.5,442.6 386.1,440.5 386.6,439.8 387.2,440.4 387.7,442.0 388.3,444.5 388.9,447.4 389.4,450.3 390.0,452.7 390.5,454.4 391.1,454.9 391.7,454.3 392.2,452.4 392.8,449.5 393.3,445.9 393.9,442.1 394.4,438.4 395.0,435.4 395.6,433.3 396.1,432.3 396.7,432.6 397.2,433.6 397.8,435.3 398.3,437.6 398.9,440.5 399.5,443.6 400.0,447.0 400.6,450.4 401.1,453.5 401.7,456.4 402.2,458.7 402.8,460.4 403.4,461.4 403.9,461.6 404.5,460.9 405.0,459.2 405.6,456.6 406.1,453.3 406.7,449.5 407.3,445.3 407.8,441.1 408.4,437.1 408.9,433.6 409.5,430.7 410.1,428.6 410.6,427.5 411.2,427.4 411.7,428.7 412.3,431.3 412.8,434.6 413.4,438.2 414.0,441.5 414.5,443.8 415.1,444.8 415.6,444.5 416.2,443.0 416.7,440.5 417.3,437.5 417.9,434.2 418.4,431.0 419.0,428.4 419.5,426.7 420.1,426.2 420.6,426.8 421.2,428.6 421.8,431.4 422.3,435.1 422.9,439.4 423.4,443.9 424.0,448.3 424.5,452.4 425.1,455.8 425.7,458.2 426.2,459.6 426.8,459.7 427.3,458.2 427.9,455.1 428.5,450.8 429.0,445.5 429.6,439.7 430.1,433.7 430.7,428.2 431.2,423.4 431.8,419.8 432.4,417.7 432.9,417.2 433.5,417.9 434.0,419.4 434.6,421.6 435.1,424.3 435.7,427.1 436.3,429.7 436.8,431.8 437.4,433.2 437.9,433.6 438.5,433.0 439.0,431.3 439.6,428.8 440.2,425.6 440.7,422.3 441.3,419.2 441.8,416.8 442.4,415.3 442.9,415.0 443.5,416.7 444.1,420.6 444.6,426.5 445.2,434.0 445.7,442.3 446.3,450.9 446.8,459.2 447.4,466.3 448.0,471.9 448.5,475.4 449.1,476.6 449.6,475.7 450.2,473.0 450.8,468.7 451.3,463.1 451.9,456.5 452.4,449.5 453.0,442.5 453.5,436.0 454.1,430.4 454.7,426.0 455.2,423.3 455.8,422.4 456.3,422.9 456.9,424.4 457.4,426.6 458.0,429.4 458.6,432.3 459.1,434.9 459.7,437.1 460.2,438.3 460.8,438.6 461.3,437.7 461.9,435.5 462.5,432.3 463.0,428.7 463.6,425.0 464.1,421.9 464.7,419.7 465.2,418.7 465.8,419.4 466.4,422.2 466.9,426.9 467.5,433.2 468.0,440.6 468.6,448.5 469.2,456.2 469.7,463.2 470.3,469.0 470.8,473.0 471.4,474.9 471.9,474.9 472.5,473.3 473.1,470.4 473.6,466.3 474.2,461.2 474.7,455.4 475.3,449.3 475.8,443.0 476.4,437.1 477.0,431.7 477.5,427.2 478.1,423.8 478.6,421.6 479.2,420.9 479.7,421.6 480.3,423.6 480.9,426.5 481.4,429.8 482.0,433.1 482.5,435.6 483.1,437.1 483.6,437.3 484.2,436.1 484.8,433.8 485.3,430.8 485.9,427.3 486.4,424.0 487.0,421.2 487.6,419.3 488.1,418.7 488.7,419.5 489.2,421.8 489.8,425.6 490.3,430.6 490.9,436.5 491.5,443.1 492.0,450.0 492.6,456.8 493.1,463.1 493.7,468.7 494.2,473.3 494.8,476.5 495.4,478.2 495.9,478.4 496.5,477.0 497.0,474.2 497.6,470.1 498.1,464.9 498.7,458.9 499.3,452.4 499.8,445.7 500.4,439.3 500.9,433.4 501.5,428.4 502.0,424.6 502.6,422.0 503.2,420.9 503.7,421.4 504.3,423.3 504.8,426.2 505.4,429.5 506.0,432.6 506.5,434.7 507.1,435.5 507.6,434.9 508.2,433.1 508.7,430.4 509.3,427.4 509.9,424.5 510.4,422.1 511.0,420.8 511.5,420.7 512.1,422.3 512.6,425.6 513.2,430.3 513.8,436.2 514.3,442.9 514.9,450.0 515.4,457.0 516.0,463.4 516.5,468.9 517.1,473.1 517.7,475.7 518.2,476.6 518.8,476.0 519.3,474.1 519.9,471.2 520.4,467.2 521.0,462.4 521.6,456.9 522.1,451.1 522.7,445.2 523.2,439.5 523.8,434.2 524.4,429.5 524.9,425.7 525.5,422.9 526.0,421.3 526.6,420.9 527.1,421.8 527.7,423.7 528.3,426.4 528.8,429.4 529.4,432.2 529.9,434.3 530.5,435.4 531.0,435.2 531.6,433.7 532.2,431.3 532.7,428.8 533.3,426.9 533.8,426.2 534.4,427.0 534.9,429.4 535.5,433.2 536.1,438.2 536.6,444.1 537.2,450.6 537.7,457.2 538.3,463.6 538.8,469.4 539.4,474.2 540.0,477.8 540.5,479.8 541.1,480.3 541.6,479.3 542.2,476.7 542.7,472.9 543.3,468.0 543.9,462.4 544.4,456.3 545.0,450.3 545.5,444.7 546.1,439.8 546.7,436.0 547.2,433.4 547.8,432.3 548.3,432.6 548.9,433.9 549.4,436.0 550.0,438.7 550.6,441.8 551.1,444.8 551.7,447.5 552.2,449.6 552.8,450.9 553.3,451.2 553.9,450.1 554.5,447.8 555.0,444.6 555.6,441.0 556.1,437.6 556.7,435.1 557.2,433.7 557.8,434.0 558.4,435.9 558.9,439.6 559.5,444.6 560.0,450.5 560.6,457.0 561.1,463.5 561.7,469.4 562.3,474.4 562.8,478.0 563.4,480.0 563.9,480.2 564.5,478.9 565.1,476.2 565.6,472.2 566.2,467.3 566.7,461.7 567.3,455.8 567.8,450.0 568.4,444.6 569.0,440.1 569.5,436.6 570.1,434.4 570.6,433.6 571.2,434.2 571.7,435.9 572.3,438.5 572.9,441.7 573.4,445.1 574.0,448.4 574.5,451.1 575.1,453.0 575.6,453.8 576.2,453.5 576.8,452.1 577.3,449.8 577.9,446.9 578.4,443.6 579.0,440.5 579.5,437.8 580.1,435.8 580.7,434.8 581.2,435.0 581.8,436.8 582.3,440.1 582.9,444.5 583.5,449.8 584.0,455.4 584.6,461.0 585.1,465.9 585.7,469.9 586.2,472.6 586.8,473.8 587.4,473.4 587.9,471.6 588.5,468.5 589.0,464.4 589.6,459.4 590.1,454.0 590.7,448.3 591.3,442.7 591.8,437.6 592.4,433.3 592.9,430.0 593.5,428.0 594.0,427.3 594.6,427.9 595.2,429.6 595.7,432.2 596.3,435.4 596.8,438.7 597.4,441.8 597.9,444.3 598.5,445.8 599.1,446.1 599.6,445.0 600.2,442.4 600.7,438.6 601.3,434.3 601.9,429.9 602.4,426.2 603.0,423.6 603.5,422.4 604.1,422.8 604.6,424.5 605.2,427.2 605.8,430.9 606.3,435.3 606.9,440.0 607.4,444.7 608.0,449.0 608.5,452.7 609.1,455.5 609.7,457.1 610.2,457.5 610.8,456.4 611.3,453.8 611.9,449.9 612.4,445.0 613.0,439.5 613.6,433.8 614.1,428.3 614.7,423.6 615.2,419.9 615.8,417.6 616.3,416.8 616.9,417.5 617.5,419.5 618.0,422.6 618.6,426.2 619.1,429.7 619.7,432.8 620.2,434.8 620.8,435.5 621.4,435.0 621.9,433.4 622.5,431.1 623.0,428.3 623.6,425.3 624.2,422.5 624.7,420.4 625.3,419.0 625.8,418.7 626.4,419.3 626.9,420.8 627.5,423.1 628.1,425.9 628.6,429.2 629.2,432.6 629.7,435.8 630.3,438.8 630.8,441.2 631.4,442.8 632.0,443.6 632.5,443.4 633.1,441.8 633.6,438.8 634.2,434.9 634.7,430.4 635.3,426.0 635.9,422.1 636.4,419.1 637.0,417.5 637.5,417.3 638.1,418.5 638.6,420.9 639.2,424.3 639.8,428.4 640.3,432.7 640.9,436.9 641.4,440.5 642.0,443.1 642.6,444.6 643.1,444.7 643.7,443.7 644.2,441.6 644.8,438.5 645.3,434.9 645.9,431.0 646.5,427.1 647.0,423.7 647.6,421.0 648.1,419.3 648.7,418.7 649.2,419.1 649.8,420.5 650.4,422.7 650.9,425.4 651.5,428.6 652.0,431.8 652.6,434.9 653.1,437.6 653.7,439.6 654.3,440.8 654.8,441.1 655.4,440.3 655.9,438.6 656.5,435.9 657.0,432.7 657.6,429.1 658.2,425.6 658.7,422.3 659.3,419.7 659.8,418.0 660.4,417.2 661.0,417.6 661.5,419.4 662.1,422.2 662.6,425.9 663.2,430.0 663.7,433.9 664.3,437.3 664.9,439.8 665.4,441.0 666.0,440.9 666.5,439.5 667.1,437.0 667.6,433.7 668.2,430.1 668.8,426.6 669.3,423.6 669.9,421.5 670.4,420.6 671.0,420.7 671.5,421.4 672.1,422.5 672.7,423.9 673.2,425.7 673.8,427.7 674.3,429.8 674.9,431.8 675.4,433.6 676.0,435.2 676.6,436.4 677.1,437.1 677.7,437.4 678.2,436.9 678.8,435.6 679.4,433.5 679.9,430.9 680.5,428.0 681.0,425.1 681.6,422.5 682.1,420.5 682.7,419.1 683.3,418.7 683.8,419.0 684.4,420.2 684.9,421.9 685.5,424.2 686.0,427.0 686.6,430.0 687.2,433.0 687.7,436.0 688.3,438.7 688.8,440.9 689.4,442.5 689.9,443.5 690.5,443.7 691.1,443.0 691.6,441.3 692.2,438.8 692.7,435.7 693.3,432.4 693.8,429.1 694.4,426.3 695.0,424.1 695.5,422.7 696.1,422.4 696.6,422.7 697.2,423.4 697.7,424.3 698.3,425.4 698.9,426.5 699.4,427.3 700.0,427.9 700.5,428.0 701.1,427.5 701.7,426.4 702.2,424.7 702.8,422.8 703.3,420.7 703.9,418.8 704.4,417.2 705.0,416.2 705.6,415.9 706.1,416.5 706.7,418.4 707.2,421.4 707.8,425.4 708.3,429.9 708.9,434.8 709.5,439.8 710.0,444.3 710.6,448.3 711.1,451.3 711.7,453.2 712.2,453.8 712.8,453.4 713.4,452.2 713.9,450.2 714.5,447.6 715.0,444.5 715.6,441.0 716.1,437.4 716.7,433.8 717.3,430.5 717.8,427.5 718.4,425.2 718.9,423.5 719.5,422.6 720.1,422.5 720.6,423.1 721.2,424.4 721.7,426.0 722.3,427.8 722.8,429.4 723.4,430.5 724.0,431.0 724.5,430.8 725.1,429.8 725.6,428.2 726.2,426.2 726.7,424.0 727.3,422.1 727.9,420.6 728.4,419.8 729.0,419.7 729.5,420.4 730.1,421.8 730.6,423.9 731.2,426.5 731.8,429.5 732.3,432.8 732.9,436.1 733.4,439.3 734.0,442.3 734.5,444.8 735.1,446.8 735.7,448.0 736.2,448.6 736.8,448.3 737.3,447.4 737.9,445.7 738.5,443.5 739.0,440.8 739.6,437.8 740.1,434.6 740.7,431.4 741.2,428.3 741.8,425.6 742.4,423.4 742.9,421.7 743.5,420.8 744.0,420.6 744.6,421.0 745.1,422.1 745.7,423.6 746.3,425.2 746.8,426.7 747.4,427.7 747.9,428.0 748.5,427.5 749.0,425.9 749.6,423.6 750.2,421.1 750.7,418.9 751.3,417.5 751.8,417.2 752.4,418.0 752.9,419.8 753.5,422.6 754.1,426.2 754.6,430.6 755.2,435.3 755.7,440.4 756.3,445.4 756.9,450.2 757.4,454.5 758.0,458.1 758.5,460.9 759.1,462.7 759.6,463.5 760.2,463.2 760.8,461.7 761.3,459.2 761.9,455.8 762.4,451.6 763.0,447.0 763.5,442.0 764.1,437.1 764.7,432.5 765.2,428.3 765.8,424.9 766.3,422.4 766.9,420.9 767.4,420.6 768.0,421.4 768.6,423.2 769.1,425.6 769.7,428.2 770.2,430.3 770.8,431.5 771.3,431.7 771.9,430.9 772.5,429.2 773.0,427.0 773.6,424.4 774.1,421.7 774.7,419.2 775.2,417.3 775.8,416.2 776.4,415.9 776.9,416.9 777.5,419.3 778.0,422.8 778.6,427.5 779.2,432.9 779.7,438.7 780.3,444.7 780.8,450.5 781.4,455.7 781.9,460.2 782.5,463.5 783.1,465.6 783.6,466.3 784.2,465.7 784.7,463.8 785.3,460.7 785.8,456.7 786.4,452.0 787.0,446.7 787.5,441.3 788.1,436.0 788.6,431.1 789.2,426.9 789.7,423.6 790.3,421.5 790.9,420.6 791.4,420.9 792.0,422.3 792.5,424.5 793.1,427.1 793.6,429.7 794.2,431.9 794.8,433.3 795.3,433.6 795.9,432.7 796.4,430.7 797.0,427.9 797.6,424.8 798.1,421.7 798.7,419.1 799.2,417.6 799.8,417.2 800.3,418.5 800.9,421.7 801.5,426.4 802.0,432.5 802.6,439.4 803.1,446.9 803.7,454.3 804.2,461.3 804.8,467.4 805.4,472.1 805.9,475.3 806.5,476.6 807.0,476.0 807.6,473.5 808.1,469.2 808.7,463.5 809.3,456.8 809.8,449.5 810.4,442.3 810.9,435.5 811.5,429.8 812.0,425.6 812.6,423.0 813.2,422.4 813.7,423.1 814.3,424.7 814.8,426.9 815.4,429.5 816.0,431.9 816.5,433.9 817.1,435.2 817.6,435.5 818.2,434.9 818.7,433.4 819.3,431.3 819.9,428.7 820.4,426.0 821.0,423.4 821.5,421.1 822.1,419.5 822.6,418.7 823.2,419.0 823.8,421.2 824.3,425.1 824.9,430.6 825.4,437.1 826.0,444.3 826.5,451.6 827.1,458.5 827.7,464.4 828.2,469.0 828.8,471.9 829.3,472.9 829.9,471.2 830.4,466.5 831.0,459.3 831.6,450.4 832.1,441.1 832.7,432.6 833.2,425.8 833.8,421.6 834.4,420.6 834.9,421.2 835.5,422.6 836.0,424.6 836.6,427.0 837.1,429.5 837.7,431.9 838.3,433.8 838.8,435.1 839.4,435.5 839.9,435.1 840.5,434.0 841.0,432.2 841.6,429.9 842.2,427.3 842.7,424.6 843.3,421.9 843.8,419.6 844.4,417.7 844.9,416.4 845.5,415.9 846.1,416.5 846.6,419.0 847.2,423.2 847.7,428.9 848.3,435.7 848.8,443.2 849.4,450.8 850.0,458.2 850.5,464.8 851.1,470.3 851.6,474.2 852.2,476.3 852.8,476.3 853.3,473.1 853.9,466.8 854.4,458.2 855.0,448.5 855.5,439.1 856.1,431.3 856.7,426.1 857.2,424.3 857.8,424.6 858.3,425.7 858.9,427.2 859.4,429.1 860.0,431.1 860.6,432.9 861.1,434.4 861.7,435.3 862.2,435.5 862.8,435.0 863.3,433.9 863.9,432.3 864.5,430.3 865.0,428.0 865.6,425.7 866.1,423.4 866.7,421.5 867.2,420.0 867.8,419.0 868.4,418.7 868.9,419.7 869.5,422.6 870.0,427.3 870.6,433.4 871.1,440.6 871.7,448.2 872.3,455.9 872.8,463.0 873.4,469.1 873.9,473.8 874.5,476.7 875.1,477.7 875.6,476.7 876.2,473.7 876.7,468.9 877.3,462.7 877.8,455.8 878.4,448.6 879.0,441.7 879.5,435.8 880.1,431.4 880.6,428.7 881.2,428.0 881.7,428.3 882.3,429.0 882.9,430.0 883.4,431.2 884.0,432.5 884.5,433.7 885.1,434.7 885.6,435.3 886.2,435.5 886.8,435.1 887.3,434.1 887.9,432.5 888.4,430.4 889.0,428.0 889.5,425.7 890.1,423.4 890.7,421.6 891.2,420.3 891.8,419.7 892.3,420.0 892.9,422.4 893.5,426.9 894.0,432.9 894.6,440.2 895.1,448.1 895.7,456.0 896.2,463.3 896.8,469.4 897.4,473.8 897.9,476.2 898.5,476.3 899.0,473.2 899.6,467.1 900.1,458.8 900.7,449.5 901.3,440.4 901.8,432.9 902.4,427.9 902.9,426.2 903.5,426.7 904.0,428.3 904.6,430.9 905.2,434.3 905.7,438.3 906.3,442.5 906.8,446.7 907.4,450.7 907.9,454.1 908.5,456.7 909.1,458.3 909.6,458.9 910.2,457.5 910.7,453.8 911.3,448.2 911.9,441.6 912.4,435.0 913.0,429.3 913.5,425.6 914.1,424.3 914.6,424.9 915.2,426.6 915.8,429.3 916.3,432.7 916.9,436.7 917.4,440.7 918.0,444.6 918.5,447.9 919.1,450.4 919.7,451.9 920.2,452.3 920.8,451.5 921.3,449.7 921.9,447.0 922.4,443.7 923.0,440.0 923.6,436.2 924.1,432.7 924.7,429.7 925.2,427.5 925.8,426.3 926.3,426.3 926.9,427.6 927.5,430.4 928.0,434.3 928.6,438.9 929.1,444.0 929.7,448.9 930.3,453.3 930.8,456.8 931.4,459.0 931.9,459.8 932.5,458.5 933.0,454.7 933.6,449.1 934.2,442.6 934.7,436.3 935.3,431.4 935.8,428.5 936.4,428.1 936.9,429.0 937.5,430.9 938.1,433.6 938.6,437.1 939.2,441.1 939.7,445.4 940.3,449.8 940.8,454.1 941.4,458.0 942.0,461.3 942.5,463.9 943.1,465.6 943.6,466.3 944.2,465.5 944.7,462.2 945.3,456.8 945.9,449.9 946.4,442.5 947.0,435.5 947.5,429.7 948.1,426.0 948.6,424.7 949.2,425.4 949.8,427.5 950.3,430.9 950.9,435.2 951.4,440.3 952.0,445.6 952.6,450.9 953.1,455.7 953.7,459.7 954.2,462.6 954.8,464.2 955.3,464.3 955.9,462.8 956.5,459.8 957.0,455.5 957.6,450.4 958.1,445.0 958.7,439.8 959.2,435.3 959.8,432.0 960.4,430.2 960.9,430.0 961.5,431.4 962.0,434.1 962.6,438.0 963.1,442.7 963.7,447.7 964.3,452.7 964.8,457.1 965.4,460.6 965.9,462.8 966.5,463.5 967.0,462.6 967.6,459.8 968.2,455.5 968.7,450.1 969.3,444.4 969.8,439.0 970.4,434.4 971.0,431.3 971.5,429.9 972.1,430.4 972.6,432.2 973.2,435.4 973.7,439.5 974.3,444.4 974.9,449.6 975.4,454.8 976.0,459.4 976.5,463.2 977.1,465.8 977.6,467.2 978.2,466.9 978.8,464.8 979.3,461.1 979.9,456.1 980.4,450.5 981.0,444.8 981.5,439.8 982.1,436.1 982.7,434.0 983.2,433.7 983.8,434.5 984.3,436.1 984.9,438.4 985.4,441.1 986.0,444.2 986.6,447.3 987.1,450.3 987.7,452.8 988.2,454.7 988.8,455.8 989.4,456.0 989.9,455.2 990.5,453.4 991.0,450.6 991.6,447.2 992.1,443.3 992.7,439.3 993.3,435.4 993.8,432.1 994.4,429.5 994.9,427.8 995.5,427.3 996.0,427.8 996.6,429.5 997.2,432.2 997.7,435.8 998.3,440.0 998.8,444.7 999.4,449.7 999.9,454.5 1000.5,459.1 1001.1,463.1 1001.6,466.3 1002.2,468.6 1002.7,469.9 1003.3,469.9 1003.8,468.5 1004.4,465.6 1005.0,461.6 1005.5,456.6 1006.1,451.3 1006.6,446.1 1007.2,441.5 1007.8,437.9 1008.3,435.5 1008.9,434.7 1009.4,435.3 1010.0,437.0 1010.5,439.6 1011.1,442.6 1011.7,445.6 1012.2,448.2 1012.8,449.9 1013.3,450.5 1013.9,449.9 1014.4,448.2 1015.0,445.6 1015.6,442.4 1016.1,439.1 1016.7,436.1 1017.2,433.6 1017.8,432.1 1018.3,431.8 1018.9,432.3 1019.5,433.7 1020.0,435.8 1020.6,438.5 1021.1,441.7 1021.7,445.3 1022.2,449.0 1022.8,452.8 1023.4,456.4 1023.9,459.6 1024.5,462.3 1025.0,464.4 1025.6,465.7 1026.1,466.3 1026.7,466.0 1027.3,464.5 1027.8,461.9 1028.4,458.4 1028.9,454.3 1029.5,449.7 1030.1,444.9 1030.6,440.2 1031.2,436.0 1031.7,432.3 1032.3,429.6 1032.8,427.9 1033.4,427.3 1034.0,428.2 1034.5,430.9 1035.1,435.1 1035.6,440.4 1036.2,446.3 1036.7,452.2 1037.3,457.5 1037.9,461.8 1038.4,464.5 1039.0,465.4 1039.5,464.3 1040.1,461.2 1040.6,456.4 1041.2,450.5 1041.8,444.2 1042.3,438.1 1042.9,433.1 1043.4,429.6 1044.0,428.1 1044.5,428.3 1045.1,429.5 1045.7,431.6 1046.2,434.4 1046.8,437.7 1047.3,441.3 1047.9,445.0 1048.5,448.4 1049.0,451.4 1049.6,453.8 1050.1,455.4 1050.7,456.0 1051.2,455.6 1051.8,454.0 1052.4,451.2 1052.9,447.5 1053.5,443.2 1054.0,438.5 1054.6,433.8 1055.1,429.4 1055.7,425.7 1056.3,423.0 1056.8,421.3 1057.4,420.9 1057.9,421.4 1058.5,422.5 1059.0,424.0 1059.6,425.8 1060.2,427.4 1060.7,428.8 1061.3,429.7 1061.8,429.9 1062.4,429.6 1062.9,428.9 1063.5,428.0 1064.1,426.9 1064.6,425.7 1065.2,424.7 1065.7,423.9 1066.3,423.4 1066.9,423.5 1067.4,425.0 1068.0,428.0 1068.5,432.4 1069.1,437.8 1069.6,443.8 1070.2,449.9 1070.8,455.9 1071.3,461.1 1071.9,465.2 1072.4,467.9 1073.0,469.1 1073.5,468.7 1074.1,466.9 1074.7,463.8 1075.2,459.6 1075.8,454.5 1076.3,448.8 1076.9,442.8 1077.4,436.8 1078.0,431.0 1078.6,425.9 1079.1,421.8 1079.7,418.7 1080.2,416.9 1080.8,416.5 1081.3,417.1 1081.9,418.8 1082.5,421.1 1083.0,423.8 1083.6,426.6 1084.1,429.1 1084.7,431.1 1085.3,432.1 1085.8,432.3 1086.4,431.7 1086.9,430.5 1087.5,428.9 1088.0,427.0 1088.6,425.1 1089.2,423.3 1089.7,422.0 1090.3,421.1 1090.8,421.0 1091.4,422.1 1091.9,424.9 1092.5,429.1 1093.1,434.4 1093.6,440.3 1094.2,446.6 1094.7,452.7"/>
<polyline stroke="#00c400" stroke-width="2.7" points="164.8,445.8 165.1,442.0 165.3,436.4 165.6,430.9 165.9,428.0 166.2,425.6 166.5,423.1 166.7,418.2 167.0,426.0 167.3,432.3 167.5,438.8 167.8,446.1 168.1,448.5 168.4,455.1 168.6,454.1 168.9,453.1 169.2,452.2 169.5,449.9 169.8,447.7 170.1,445.4 170.4,447.3 170.7,453.7 171.0,451.4 171.3,450.9 171.6,450.2 171.9,449.5 172.2,451.4 172.5,453.6 172.7,455.9 173.0,456.5 173.3,459.0 173.6,451.1 173.9,445.8 174.2,440.8 174.5,435.8 174.7,432.7 175.0,431.1 175.3,420.8 175.6,427.2 175.9,419.7 176.2,412.1 176.4,406.0 176.7,404.4 177.0,402.8 177.3,404.4 177.6,402.5 177.8,403.9 178.1,405.3 178.4,411.0 178.7,416.9 179.0,422.0 179.3,414.3 179.5,429.2 179.8,435.0 180.1,440.8 180.3,446.5 180.6,443.2 180.9,452.1 181.1,454.5 181.4,456.8 181.7,459.1 182.0,460.7 182.3,462.3 182.6,465.6 182.9,466.9 183.2,470.3 183.5,473.5 183.8,467.7 184.0,461.4 184.3,455.2 184.6,451.8 184.9,449.2 185.2,443.2 185.5,442.0 185.8,435.9 186.0,429.8 186.3,424.6 186.6,420.2 186.9,415.9 187.2,414.3 187.4,412.6 187.7,412.8 188.0,413.1 188.2,407.0 188.5,405.9 188.7,405.0 189.0,408.5 189.3,413.5 189.5,424.8 189.8,419.3 190.1,416.5 190.3,413.7 190.6,410.9 190.9,416.9 191.2,419.3 191.5,426.6 191.8,430.7 192.1,434.1 192.4,432.7 192.7,439.7 193.0,441.9 193.3,444.1 193.6,446.5 193.8,449.1 194.1,451.6 194.4,453.7 194.7,453.6 195.0,453.8 195.3,455.3 195.6,457.9 195.8,460.5 196.1,464.3 196.4,458.1 196.8,452.8 197.1,447.4 197.4,441.7 197.7,430.0 198.0,429.0 198.3,421.4 198.7,413.8 199.0,403.3 199.3,397.1 199.5,393.5 199.8,401.3 200.1,409.4 200.3,417.5 200.6,418.2 200.9,422.1 201.2,421.9 201.5,422.4 201.7,424.0 202.0,425.6 202.3,430.0 202.6,436.8 202.8,445.2 203.1,453.4 203.4,456.1 203.6,453.7 203.9,458.4 204.2,459.3 204.5,460.5 204.8,461.7 205.0,467.1 205.3,477.8 205.6,480.1 205.9,487.7 206.2,485.7 206.5,480.7 206.7,476.1 207.0,474.1 207.3,472.2 207.6,469.5 207.9,469.0 208.2,467.9 208.4,466.8 208.7,462.0 209.0,456.6 209.3,453.7 209.6,456.3 209.9,462.3 210.2,468.2 210.5,464.0 210.7,459.9 211.0,455.7 211.3,448.5 211.5,434.0 211.8,428.6 212.1,420.2 212.3,416.3 212.6,412.4 212.9,412.9 213.1,406.6 213.4,404.5 213.7,402.4 214.0,400.0 214.3,397.5 214.6,403.7 214.9,403.3 215.2,413.7 215.5,427.4 215.7,431.1 216.0,437.3 216.3,443.6 216.5,450.1 216.8,456.4 217.1,464.0 217.3,469.4 217.6,470.1 217.9,469.0 218.1,469.5 218.4,462.1 218.6,460.3 218.9,458.4 219.2,456.6 219.4,448.5 219.7,446.3 220.0,440.5 220.2,435.7 220.5,431.8 220.8,420.8 221.0,426.0 221.3,422.5 221.6,419.0 221.9,415.4 222.2,411.6 222.4,407.8 222.7,400.4 223.0,404.8 223.3,405.3 223.5,405.9 223.8,411.7 224.0,420.8 224.3,433.0 224.6,437.9 224.9,441.8 225.2,445.8 225.5,449.7 225.7,450.2 226.0,448.5 226.3,451.0 226.6,452.3 226.8,453.6 227.1,455.0 227.3,466.9 227.6,461.9 227.9,465.6 228.1,469.5 228.4,476.3 228.7,476.8 228.9,482.4 229.2,478.8 229.4,475.3 229.7,471.7 230.0,459.0 230.3,463.2 230.5,452.8 230.8,443.4 231.1,441.2 231.4,438.9 231.7,436.7 232.0,427.4 232.2,431.9 232.5,430.8 232.7,426.5 233.0,420.6 233.3,418.2 233.5,415.7 233.8,419.4 234.1,423.1 234.3,426.8 234.6,437.9 234.9,427.6 235.1,422.9 235.4,417.1 235.6,411.6 235.9,413.8 236.2,417.3 236.4,420.7 236.7,424.0 237.0,430.0 237.2,429.8 237.5,431.7 237.7,433.7 238.0,437.7 238.3,451.1 238.5,438.5 238.8,433.8 239.1,427.5 239.3,421.1 239.6,418.2 239.9,419.8 240.2,424.7 240.5,429.6 240.9,438.7 241.2,443.2 241.4,450.0 241.7,444.3 242.0,436.4 242.2,428.6 242.5,431.4 242.8,419.6 243.1,416.1 243.3,412.5 243.6,409.1 243.9,405.7 244.2,405.7 244.5,413.6 244.8,424.3 245.2,429.5 245.5,434.1 245.8,430.0 246.0,429.4 246.3,422.9 246.6,416.4 246.8,409.8 247.1,411.6 247.4,420.7 247.7,428.7 248.0,432.6 248.2,433.2 248.5,433.7 248.8,435.3 249.1,434.0 249.4,433.2 249.7,435.9 249.9,442.3 250.2,448.8 250.5,452.0 250.8,447.6 251.1,448.5 251.3,441.2 251.6,444.2 251.9,448.2 252.2,452.3 252.5,455.7 252.7,459.0 253.0,461.6 253.3,460.1 253.7,457.5 254.0,454.8 254.3,452.4 254.6,453.7 254.9,447.8 255.2,447.2 255.5,446.5 255.8,445.9 256.0,442.1 256.3,443.2 256.6,433.4 256.9,433.6 257.2,434.8 257.5,435.9 257.8,434.0 258.0,427.4 258.4,427.9 258.7,422.9 259.0,417.2 259.3,411.4 259.6,415.6 259.9,421.5 260.1,432.2 260.4,442.7 260.7,453.1 260.9,459.0 261.2,457.9 261.5,448.6 261.7,439.2 262.0,429.9 262.3,430.0 262.5,420.3 262.8,417.8 263.1,419.1 263.4,421.6 263.7,424.2 264.0,425.2 264.3,425.7 264.6,426.2 264.9,416.2 265.1,426.9 265.4,430.4 265.7,434.9 265.9,440.8 266.2,445.8 266.5,448.2 266.8,449.8 267.1,451.4 267.4,452.7 267.7,450.3 268.0,447.9 268.3,446.3 268.6,456.4 268.9,452.8 269.2,450.5 269.5,439.4 269.8,428.3 270.2,427.4 270.4,424.9 270.7,428.5 271.0,430.4 271.3,427.7 271.6,425.0 271.8,422.1 272.1,415.6 272.4,420.3 272.7,423.1 272.9,427.3 273.2,431.8 273.4,443.2 273.7,434.9 274.0,434.4 274.3,433.8 274.6,433.4 274.9,433.3 275.1,433.3 275.4,435.3 275.7,435.6 276.0,438.1 276.3,440.6 276.6,442.6 276.8,444.7 277.1,446.7 277.4,449.8 277.7,445.5 278.0,443.0 278.2,442.0 278.5,441.8 278.8,441.7 279.1,440.3 279.4,437.9 279.7,436.0 280.0,434.4 280.3,433.1 280.5,431.7 280.8,431.0 281.1,431.5 281.4,431.9 281.7,431.6 282.0,431.4 282.3,430.1 282.6,431.3 282.9,434.2 283.1,437.0 283.4,439.8 283.7,439.3 284.0,448.5 284.3,439.7 284.6,440.1 284.8,442.9 285.1,446.8 285.4,449.3 285.7,451.3 286.0,451.1 286.3,452.7 286.6,451.4 286.9,450.1 287.1,448.5 287.4,446.6 287.7,444.6 288.0,442.0 288.3,441.9 288.6,439.1 288.9,441.3 289.2,446.0 289.5,450.7 289.7,454.4 290.0,455.1 290.3,455.7 290.6,459.0 290.9,451.2 291.1,446.1 291.4,443.6 291.7,447.0 292.0,454.0 292.3,455.8 292.5,444.5 292.8,455.4 293.1,456.5 293.4,455.3 293.7,454.2 294.0,453.0 294.2,452.9 294.5,456.4 294.8,455.9 295.1,457.6 295.4,459.8 295.7,462.0 295.9,464.4 296.2,467.6 296.5,469.5 296.8,472.7 297.1,471.0 297.3,469.1 297.6,467.2 297.9,467.7 298.2,468.9 298.5,472.2"/>
<polyline stroke="#00c400" stroke-width="2.7" points="393.3,444.0 393.6,440.9 393.9,443.3 394.2,448.1 394.5,453.0 394.8,468.3 395.0,454.3 395.3,450.1 395.6,445.0 395.9,440.0 396.2,435.7 396.5,438.3 396.8,433.4 397.1,434.7 397.4,435.8 397.7,436.9 398.0,436.9 398.3,436.6 398.6,441.2 398.9,443.0 399.2,450.4 399.5,457.8 399.8,465.1 400.0,469.7 400.4,476.2 400.7,479.0 401.0,481.3 401.3,483.7 401.6,486.2 401.9,481.1 402.2,491.0 402.5,490.0 402.8,488.2 403.0,486.4 403.3,486.4 403.6,491.1 403.9,482.9 404.2,477.5 404.5,471.3 404.8,466.4 405.0,462.8 405.3,469.7 405.6,461.6 406.0,461.6 406.3,460.2 406.6,458.9 406.9,456.7 407.2,458.3 407.5,455.1 407.8,458.0 408.0,461.9 408.3,465.8 408.6,469.7 408.9,471.1 409.2,471.0 409.5,466.5 409.8,455.3 410.1,446.9 410.4,442.4 410.7,449.6 411.0,456.8 411.3,461.9 411.6,463.4 411.9,464.9 412.2,469.7 412.5,469.2 412.8,470.7 413.1,467.1 413.4,460.1 413.7,460.3 414.0,460.5 414.3,471.1 414.6,458.1 415.0,457.7 415.3,457.0 415.6,456.4 415.9,457.5 416.2,455.4 416.5,456.4 416.8,446.1 417.1,434.7 417.3,423.3 417.6,423.3 417.9,428.8 418.2,438.5 418.5,442.2 418.8,442.5 419.1,442.8 419.3,455.4 419.6,450.9 419.9,452.6 420.2,450.3 420.5,441.9 420.8,431.2 421.1,433.4 421.3,434.0 421.6,434.5 421.9,436.2 422.2,443.7 422.5,449.7 422.8,458.5 423.1,459.2 423.4,460.0 423.7,461.3 424.0,464.5 424.3,469.7 424.6,468.7 424.9,468.5 425.2,468.3 425.5,469.0 425.8,478.3 426.1,474.3 426.4,472.9 426.7,465.9 427.0,458.9 427.3,451.8 427.6,455.4 427.9,440.1 428.2,435.2 428.5,435.5 428.8,439.4 429.1,441.3 429.4,434.8 429.6,421.2 429.9,439.9 430.2,449.8 430.5,459.7 430.8,474.0 431.1,463.9 431.4,458.4 431.7,452.9 432.0,446.3 432.3,439.6 432.6,431.7 432.9,414.8 433.2,412.8 433.5,413.1 433.9,417.5 434.2,423.2 434.5,428.2 434.8,441.2 435.1,435.4 435.4,438.8 435.6,442.4 435.9,446.0 436.2,449.9 436.5,462.6 436.8,454.3 437.1,455.0 437.4,458.1 437.7,461.2 438.0,464.3 438.3,466.9 438.6,455.4 439.0,460.7 439.3,451.4 439.6,438.4 439.9,431.9 440.2,431.0 440.5,424.1 440.8,427.1 441.1,421.7 441.4,416.3 441.6,412.0 441.9,411.2 442.2,407.3 442.5,408.1 442.8,411.9 443.1,415.6 443.4,417.6 443.6,409.1 443.9,416.7 444.2,418.1 444.5,417.1 444.8,416.0 445.1,429.8 445.4,423.6 445.6,428.7 445.9,435.4 446.2,445.4 446.5,455.6 446.8,455.4 447.1,468.0 447.4,468.2 447.7,468.4 448.0,471.6 448.3,475.1 448.7,479.7 449.0,476.8 449.3,475.1 449.6,473.5 449.9,472.9 450.2,472.2 450.5,472.1 450.8,478.3 451.1,472.2 451.4,469.8 451.7,466.1 452.0,462.5 452.3,457.5 452.6,450.5 452.9,449.7 453.2,441.7 453.6,444.6 453.9,447.5 454.2,442.8 454.5,432.7 454.8,422.5 455.1,426.9 455.4,423.1 455.7,427.7 456.0,432.3 456.3,437.0 456.6,441.7 456.9,444.7 457.2,444.0 457.5,448.4 457.8,447.2 458.1,445.9 458.5,444.7 458.8,450.0 459.1,455.4 459.4,449.7 459.7,461.6 459.9,463.1 460.2,464.5 460.5,465.9 460.8,460.7 461.1,458.3 461.4,448.6 461.7,442.3 462.0,437.8 462.3,437.2 462.6,438.2 462.9,438.3 463.3,434.2 463.6,429.8 463.9,425.6 464.2,421.9 464.5,418.2 464.8,415.3 465.1,411.2 465.4,418.9 465.7,422.3 465.9,421.5 466.2,420.7 466.5,420.3 466.8,426.9 467.1,424.6 467.4,427.9 467.7,433.8 468.0,439.8 468.4,444.3 468.7,449.7 469.0,446.7 469.3,450.8 469.6,459.2 469.9,467.6 470.2,471.7 470.5,471.5 470.8,472.6 471.1,469.1 471.4,469.4 471.7,469.6 472.0,467.6 472.3,464.4 472.6,461.3 473.0,455.4 473.3,458.4 473.6,459.7 473.9,462.9 474.2,466.4 474.5,470.0 474.8,471.5 475.1,478.3 475.4,464.4 475.7,457.9 476.0,451.5 476.2,445.2 476.5,444.0 476.8,443.3 477.1,444.3 477.4,435.4 477.8,424.9 478.1,414.5 478.4,417.7 478.7,416.9 479.0,431.0 479.3,431.6 479.6,431.2 479.9,431.4 480.2,433.9 480.5,438.3 480.8,438.4 481.1,442.0 481.4,445.5 481.7,448.8 482.0,449.9 482.2,451.1 482.5,452.2 482.8,455.9 483.1,459.7 483.4,464.0 483.7,460.8 484.0,458.3 484.2,455.8 484.5,448.1 484.8,438.6 485.1,434.0 485.4,426.4 485.7,425.9 486.0,425.4 486.3,425.0 486.5,424.5 486.8,424.0 487.1,421.7 487.4,416.7 487.7,410.5 488.0,412.1 488.3,414.3 488.6,416.6 488.9,418.5 489.2,419.6 489.5,420.7 489.8,423.3 490.1,426.9 490.4,433.4 490.7,436.8 491.0,438.1 491.3,439.3 491.6,442.4 491.9,446.6 492.3,449.7 492.6,448.6 492.9,444.7 493.2,441.7 493.5,444.8 493.8,450.7 494.1,456.7 494.4,455.4 494.7,452.9 495.0,451.5 495.3,457.6 495.6,464.1 495.9,470.1 496.2,469.8 496.5,475.4 496.9,464.7 497.2,461.7 497.5,460.1 497.8,458.4 498.1,458.2 498.4,463.7 498.7,464.0 499.0,455.8 499.3,445.1 499.5,435.2 499.8,428.4 500.1,416.9 500.4,424.9 500.7,425.6 501.0,426.3 501.4,427.0 501.7,427.8 502.0,424.1 502.3,432.7 502.5,436.1 502.8,439.5 503.1,442.8 503.4,445.8 503.7,454.0 504.0,443.5 504.3,440.1 504.6,436.7 504.9,434.3 505.2,434.4 505.5,434.6 505.8,429.8 506.1,434.5 506.5,436.2 506.8,440.6 507.1,448.2 507.4,455.8 507.7,449.7 508.0,434.2 508.3,410.8 508.7,393.6 509.0,378.4 509.3,396.0 509.6,414.0 509.8,432.1 510.1,450.1 510.4,458.3 510.7,455.8 511.0,445.7 511.4,433.4 511.7,420.8 512.0,412.6 512.3,412.8 512.6,417.3 512.8,421.8 513.1,424.0 513.4,426.0 513.7,432.6 514.0,434.6 514.3,442.0 514.6,449.4 514.8,454.0 515.1,457.3 515.4,461.2 515.7,463.0 516.0,466.4 516.3,469.8 516.7,474.9 517.0,480.7 517.3,475.4 517.6,487.4 517.8,487.2 518.1,487.1 518.4,489.2 518.7,491.1 519.0,487.2 519.3,483.2 519.6,479.6 519.9,476.1 520.3,468.2 520.6,461.2 520.8,451.2 521.1,443.3 521.4,437.1 521.7,432.6 522.0,428.1 522.3,434.0 522.6,420.4 522.9,419.4 523.2,419.8 523.5,420.3 523.8,420.4 524.1,420.4 524.4,411.9 524.7,424.0 525.0,426.9 525.3,429.8 525.6,435.2 525.9,438.3 526.1,446.1 526.4,448.8 526.7,450.3 527.0,451.8 527.3,455.4 527.6,446.0 527.9,439.0 528.2,435.5 528.5,434.5 528.8,433.5 529.1,429.8 529.4,434.9 529.7,437.1 530.0,432.9 530.3,425.0 530.6,417.1 530.9,414.4 531.1,421.9 531.4,426.3 531.7,433.6 532.0,437.1 532.3,440.7 532.6,455.4 532.9,447.1 533.2,447.5 533.5,442.3 533.8,428.0 534.1,417.6 534.4,422.6 534.7,422.9 535.0,437.2 535.4,443.3 535.7,444.2 536.0,445.1 536.3,449.7 536.6,442.4 536.9,437.4 537.1,439.2 537.4,444.1 537.7,443.6 538.0,429.8 538.3,444.3 538.6,445.7 538.9,449.3 539.2,455.5 539.5,460.6 539.8,460.3 540.1,458.3 540.5,450.7 540.8,453.5 541.1,458.6 541.4,464.2 541.7,471.3 542.0,475.4 542.3,484.0 542.6,487.4 542.9,490.2 543.1,491.6 543.4,493.0 543.7,484.0 544.0,490.6 544.3,486.3 544.6,477.8 544.9,469.3 545.2,465.1 545.4,461.2 545.7,468.9 546.0,471.6 546.3,471.6 546.6,472.6 546.9,461.4 547.2,454.5 547.4,447.6 547.7,440.8 548.0,426.9 548.3,439.3 548.6,441.4 548.9,436.2 549.2,429.7 549.4,436.9"/>
<polyline stroke="#00c400" stroke-width="2.7" points="611.3,462.8 611.6,460.1 611.9,449.4 612.2,439.0 612.5,430.1 612.8,416.6 613.1,416.4 613.3,410.5 613.6,404.6 613.9,395.8 614.2,403.6 614.5,408.1 614.8,412.6 615.1,425.8 615.4,427.4 615.7,426.1 616.0,419.0 616.3,402.8 616.6,419.9 616.9,434.4 617.2,449.0 617.4,459.7 617.7,465.9 618.0,468.4 618.3,470.9 618.6,471.7 618.9,471.0 619.1,470.4 619.4,469.7 619.7,464.5 620.0,458.5 620.3,449.0 620.7,436.2 621.0,441.2 621.3,433.1 621.6,437.9 621.9,447.9 622.2,454.1 622.5,459.7 622.8,452.8 623.1,444.2 623.4,434.9 623.7,425.6 624.0,425.8 624.3,427.4 624.7,431.3 625.0,428.3 625.3,425.4 625.6,422.2 625.9,415.8 626.2,418.9 626.5,421.9 626.8,430.1 627.1,438.2 627.4,441.2 627.7,448.5 628.0,451.1 628.3,452.7 628.7,452.8 629.0,447.4 629.3,455.8 629.6,460.5 629.9,465.2 630.2,464.3 630.5,459.7 630.8,452.7 631.1,450.8 631.4,451.0 631.7,451.1 632.0,450.5 632.3,462.8 632.7,447.3 633.0,443.6 633.3,445.7 633.6,450.4 633.9,444.3 634.2,442.7 634.5,438.8 634.8,435.0 635.1,431.3 635.4,425.8 635.7,424.2 636.0,421.4 636.3,418.8 636.6,419.3 636.8,419.9 637.1,420.4 637.4,419.7 637.7,417.4 638.0,417.3 638.3,422.7 638.6,428.0 639.0,430.5 639.3,438.8 639.6,444.2 639.9,447.1 640.2,440.5 640.5,441.2 640.8,432.7 641.1,441.9 641.4,451.0 641.7,455.8 642.0,456.6 642.3,450.5 642.6,451.5 643.0,457.1 643.3,462.6 643.6,462.8 643.9,461.5 644.2,458.3 644.5,459.7 644.8,463.1 645.1,453.5 645.4,468.8 645.7,471.0 646.0,472.6 646.3,472.3 646.6,471.2 646.9,457.0 647.2,444.8 647.5,432.9 647.7,425.8 648.0,419.4 648.3,418.8 648.6,418.3 649.0,415.3 649.3,411.2 649.6,420.0 649.9,434.2 650.2,449.8 650.5,450.5 650.8,456.4 651.1,446.4 651.4,436.3 651.7,433.7 652.0,427.4 652.3,438.5 652.6,445.0 653.0,451.4 653.3,456.8 653.6,458.2 653.9,459.7 654.2,459.3 654.5,463.4 654.8,467.6 655.1,471.4 655.4,468.9 655.7,470.2 656.0,464.6 656.3,457.6 656.6,450.7 657.0,441.2 657.3,440.2 657.6,435.9 657.9,431.4 658.2,426.8 658.5,419.7 658.8,422.5 659.1,422.7 659.4,422.9 659.7,425.3 660.0,425.8 660.3,434.5 660.6,435.5 661.0,436.5 661.3,437.7 661.6,450.5 661.9,441.3 662.1,443.5 662.4,446.1 662.7,450.0 663.0,454.0 663.3,459.9 663.6,467.4 663.9,465.3 664.2,461.8 664.5,458.1 664.8,454.3 665.1,444.3 665.4,440.2 665.7,434.1 666.0,432.4 666.3,430.6 666.6,426.6 666.9,438.0 667.2,448.6 667.4,469.7 667.7,457.6 668.0,457.7 668.3,457.8 668.6,454.3 668.9,453.5 669.3,444.2 669.6,441.6 669.9,439.1 670.2,436.0 670.5,425.8 670.8,421.0 671.1,414.9 671.4,413.5 671.7,412.0 672.0,409.8 672.3,395.1 672.6,414.5 672.9,421.0 673.3,423.8 673.6,425.8 673.9,430.4 674.2,438.6 674.5,446.7 674.8,451.7 675.1,447.4 675.4,455.4 675.7,454.4 676.0,452.6 676.3,450.7 676.6,459.7 676.9,450.0 677.3,450.7 677.6,454.5 677.9,460.4 678.2,466.6 678.5,462.5 678.8,458.8 679.1,454.6 679.4,446.1 679.7,441.2 680.0,432.1 680.3,429.0 680.6,425.9 680.9,423.3 681.3,422.0 681.6,425.8 681.9,424.6 682.2,430.1 682.5,435.7 682.8,438.7 683.1,433.5 683.4,440.6 683.7,440.5 684.0,438.9 684.2,437.2 684.5,439.1 684.8,447.2 685.1,450.5 685.4,458.0 685.7,454.0 686.0,450.1 686.3,446.1 686.6,447.4 686.9,441.9 687.3,443.6 687.6,447.2 687.9,450.8 688.2,462.8 688.5,462.0 688.7,466.9 689.0,469.0 689.3,468.5 689.6,468.0 689.9,467.7 690.2,465.8 690.5,469.0 690.8,471.1 691.1,475.0 691.4,478.8 691.7,472.0 692.0,470.0 692.3,460.4 692.6,454.5 692.9,451.0 693.3,441.2 693.6,441.7 693.9,433.8 694.2,425.9 694.5,425.2 694.8,422.8 695.1,430.9 695.4,429.9 695.7,428.2 696.0,426.5 696.3,426.1 696.6,420.5 696.9,430.1 697.2,433.0 697.6,435.9 697.9,440.7 698.2,444.3 698.5,452.4 698.8,448.7 699.1,441.0 699.4,427.5 699.7,425.8 700.0,428.8 700.3,438.4 700.6,445.7 700.9,450.8 701.2,456.6 701.5,453.5 701.8,450.4 702.1,447.2 702.4,447.0 702.7,450.1 703.0,453.2 703.3,454.7 703.6,455.1 703.9,446.4 704.2,440.2 704.5,435.1 704.8,430.1 705.1,425.8 705.4,419.7 705.7,415.8 706.0,413.4 706.3,412.0 706.6,416.6 706.9,408.8 707.2,406.4 707.6,404.0 707.9,405.4 708.2,411.2 708.4,419.1 708.7,430.1 709.0,440.8 709.2,444.3 709.6,458.0 709.9,461.1 710.2,464.3 710.5,472.0 710.8,479.8 711.1,487.6 711.4,490.5 711.7,491.2 712.0,491.2 712.3,486.9 712.6,482.7 712.9,478.6 713.2,478.3 713.6,465.8 713.9,472.7 714.2,467.8 714.5,458.5 714.8,449.2 715.1,441.2 715.4,445.5 715.7,444.6 716.0,442.9 716.3,441.2 716.6,439.7 716.9,425.8 717.2,440.7 717.6,443.8 717.9,441.1 718.2,437.8 718.5,441.2 718.8,437.8 719.0,438.2 719.3,440.7 719.6,446.2 719.9,451.7 720.2,455.8 720.5,447.4 720.8,454.4 721.1,452.2 721.4,449.8 721.7,447.3 722.0,438.1 722.3,449.7 722.6,454.0 722.9,455.7 723.2,454.8 723.6,456.6 723.8,456.0 724.1,461.9 724.4,467.7 724.7,469.3 725.0,465.8 725.3,462.3 725.6,468.1 725.9,467.6 726.2,469.1 726.5,463.8 726.8,458.4 727.1,441.2 727.4,449.0 727.7,437.8 728.0,426.6 728.3,422.0 728.6,422.8 728.9,424.7 729.2,428.6 729.5,432.8 729.9,432.5 730.2,427.8 730.5,419.7 730.8,411.6 731.1,415.3 731.4,421.1 731.7,429.1 732.0,438.1 732.3,437.5 732.6,441.8 732.9,452.5 733.2,460.2 733.5,462.7 733.9,453.5 734.2,455.3 734.5,451.2 734.8,455.6 735.1,460.1 735.4,462.8 735.7,466.1 736.0,468.4 736.3,470.8 736.6,473.3 736.9,472.0 737.2,476.0 737.5,477.5 737.9,476.4 738.2,473.9 738.5,459.7 738.8,467.0 739.1,459.2 739.4,450.9 739.7,442.6 740.0,441.2 740.3,433.4 740.6,429.8 740.9,428.0 741.2,426.6 741.4,425.2 741.7,423.7 742.0,425.8 742.3,422.5 742.6,422.6 742.9,422.7 743.2,422.8 743.4,422.2 743.7,421.0 744.0,422.8 744.3,421.5 744.6,421.0 744.9,423.9 745.2,428.2 745.5,444.3 745.9,436.2 746.2,435.7 746.5,434.7 746.8,433.3 747.1,415.8 747.4,421.6 747.7,417.9 748.0,420.5 748.3,424.8 748.6,425.8 748.9,436.4 749.2,443.8 749.5,451.2 749.9,456.9 750.2,452.0 750.5,455.7 750.8,443.1 751.1,430.6 751.4,420.0 751.7,418.1 752.0,426.1 752.3,433.2 752.6,436.4 752.9,439.7 753.2,441.2 753.5,448.9 753.9,453.6 754.2,454.4 754.5,451.4 754.8,455.1 755.1,448.6 755.4,452.8 755.7,457.0 756.0,458.1 756.3,457.9 756.6,453.5 756.9,462.6 757.2,468.2 757.5,472.7 757.9,475.1 758.2,465.8 758.5,474.3 758.8,465.1 759.1,456.0 759.4,448.1 759.7,453.5 760.0,452.1 760.3,450.1 760.6,438.8 760.9,427.5 761.2,425.8 761.5,419.1 761.8,419.9 762.1,420.4 762.4,420.3 762.7,420.2 763.0,420.0 763.3,419.7 763.5,421.2 763.8,421.9 764.1,424.5 764.4,427.2 764.7,429.9 765.0,429.1 765.3,428.2 765.6,427.2 765.8,438.1 766.0,453.5 766.3,445.7 766.6,443.8 766.9,442.5 767.3,441.3 767.6,425.8 767.9,435.2 768.2,434.5 768.5,432.4 768.8,429.6 769.1,438.1 769.4,432.7 769.7,442.1 770.0,451.4 770.3,451.6 770.6,449.8 770.9,447.4 771.2,449.4 771.5,451.1 771.8,452.7 772.2,450.9 772.5,455.1 772.8,443.8 773.1,446.7 773.4,449.5 773.7,450.2 774.0,441.2 774.3,435.8 774.6,432.6 774.8,440.0 775.1,447.4 775.4,454.7 775.7,452.3 776.0,447.4 776.3,439.6 776.6,436.0 776.9,432.7 777.2,429.0 777.5,412.8 777.8,420.3 778.1,423.1 778.4,430.9 778.7,438.8 779.1,441.2 779.3,451.4 779.6,456.0 779.9,459.6 780.2,457.1 780.5,454.5 780.8,451.8 781.0,456.6 781.4,463.1 781.7,468.8 782.0,466.1 782.3,463.3 782.6,461.8 782.9,468.9 783.2,481.6 783.5,482.5 783.8,478.7 784.1,467.7 784.4,461.6 784.7,474.3 785.0,468.3 785.3,466.0 785.6,457.1 786.0,448.4 786.3,456.6 786.6,444.0 786.9,445.0 787.2,445.6 787.5,445.7 787.8,447.4 788.1,442.7 788.4,439.1 788.7,435.6 789.0,432.0 789.3,425.8 789.6,426.9 789.9,421.9 790.2,416.2 790.5,416.6 790.9,407.1 791.2,404.4 791.5,401.7 791.8,395.8 792.1,411.4 792.4,422.1 792.7,426.0 793.0,425.8 793.3,432.3 793.6,435.9 793.8,439.4 794.1,443.0 794.4,453.5 794.7,452.8 795.0,456.4 795.3,458.6 795.6,460.6 795.9,465.8 796.2,464.0 796.5,465.4 796.7,466.8 797.0,473.5 797.3,473.1 797.6,469.1 797.9,461.1 798.2,441.2 798.5,437.7 798.8,429.8 799.1,422.9 799.4,417.1 799.7,425.8 800.1,421.1 800.4,427.7 800.7,433.8 801.0,439.8 801.3,444.3 801.6,451.8 801.9,457.7 802.2,463.4 802.5,465.7 802.8,462.8 803.1,468.2 803.4,463.6 803.7,459.0 804.0,461.2 804.3,467.1 804.7,478.1 805.0,482.8 805.3,482.9 805.6,482.9 805.9,485.0 806.2,492.8 806.5,491.8 806.8,492.5 807.0,491.2 807.3,490.0 807.6,490.5 807.9,495.9 808.2,496.6 808.5,502.3 808.8,500.7 809.1,497.3 809.4,493.6 809.7,478.1 810.0,470.6 810.2,454.0 810.5,439.7 810.8,425.8 811.1,415.3 811.4,414.1 811.7,399.7 812.0,418.0 812.3,424.5 812.6,426.3 812.9,425.8 813.2,430.1 813.5,433.3 813.8,436.5 814.0,441.7 814.3,447.4 814.6,439.2 814.9,430.9 815.2,422.5 815.5,414.2 815.8,402.8 816.1,418.9 816.4,426.1 816.6,431.8 816.9,425.8 817.2,436.1 817.5,437.9 817.8,441.2 818.1,444.5 818.4,438.1 818.8,443.8 819.1,444.2 819.4,450.0 819.7,457.4 820.0,467.4 820.3,454.1 820.6,443.0 820.9,431.9 821.2,425.8 821.5,431.8 821.8,434.5 822.1,433.0 822.4,430.9 822.7,418.1 823.0,428.3 823.4,428.6 823.7,430.0 824.0,435.4 824.3,441.2 824.6,437.7 824.9,432.1 825.2,426.5 825.5,424.0 825.8,426.1 826.1,425.8 826.4,437.1 826.7,443.6 827.0,450.1 827.3,454.2 827.6,458.1 827.9,450.5 828.2,449.0 828.5,450.9 828.8,452.9 829.1,452.5 829.4,449.0 829.6,441.2 829.9,444.4 830.2,440.8 830.6,437.3 830.9,435.4 831.2,447.4 831.5,431.3 831.8,428.4 832.1,429.8 832.4,431.1 832.7,425.8 833.0,432.8 833.3,434.9 833.6,434.4 833.8,431.8 834.1,429.2 834.4,430.0 834.7,422.8 835.0,432.4 835.3,430.2 835.6,425.5 835.9,412.6 836.2,412.0 836.5,407.2 836.8,411.9 837.1,417.8 837.5,427.1 837.8,441.2 838.1,432.8 838.4,428.9 838.7,425.0 839.0,418.9 839.3,412.0 839.6,396.6 839.9,414.9 840.2,424.2 840.5,433.5 840.8,441.2 841.1,437.2 841.4,431.9 841.7,427.0 842.1,422.1 842.4,425.8 842.7,418.8 843.0,420.3 843.3,421.7 843.6,423.9 843.9,438.1 844.2,422.1 844.5,418.8 844.8,418.5 845.1,415.8 845.4,409.4 845.7,412.8 846.0,409.5 846.3,423.0 846.6,432.4 847.0,435.0 847.3,425.8 847.6,439.9 847.9,439.0 848.2,438.0 848.5,437.0 848.8,441.2 849.1,447.0 849.4,452.4 849.7,453.4 850.0,453.5 850.3,453.5 850.6,453.5 850.9,453.9 851.2,453.6 851.5,452.9 851.8,452.2 852.1,451.5 852.3,453.0 852.6,459.7 852.9,457.4 853.2,458.5 853.5,459.0 853.8,459.5 854.1,460.6 854.4,462.2 854.6,463.9 854.9,464.3 855.2,457.6 855.5,450.9 855.8,444.3 856.2,437.8 856.5,441.2 856.8,430.1 857.1,431.9 857.4,433.7 857.7,430.7 858.0,425.8 858.3,421.0 858.6,419.3 858.9,418.5 859.2,417.7 859.5,417.3 859.8,417.4 860.1,422.2 860.4,428.5 860.8,434.9 861.1,441.2 861.4,438.1 861.6,445.8 861.9,446.8 862.2,447.9 862.5,449.1 862.8,450.2 863.1,449.8 863.4,450.5 863.7,448.9 864.0,450.8 864.3,453.3 864.6,455.8 864.9,462.8 865.2,456.6 865.5,455.8 865.7,457.6 866.0,460.0 866.3,462.4 866.6,465.3 866.9,463.5 867.2,461.9 867.4,452.5 867.7,439.3 868.0,425.8 868.2,423.1 868.5,428.6 868.8,434.1 869.1,434.1 869.4,430.2 869.7,421.3 869.9,419.7 870.3,411.5 870.6,412.2 870.9,414.4 871.2,420.8 871.5,430.5 871.8,439.8 872.1,440.4 872.4,441.1 872.7,442.7 873.0,449.1 873.3,441.2 873.6,454.5 873.9,454.9 874.2,450.9 874.5,449.0 874.9,451.1 875.2,450.5 875.4,453.6 875.7,452.8 876.0,452.0 876.3,451.5 876.6,451.8 876.9,452.1 877.2,456.6 877.5,451.4 877.8,450.1 878.1,447.6 878.4,440.5 878.7,441.2 879.0,432.6 879.3,435.1 879.5,437.5 879.8,440.3 880.1,445.6 880.4,450.8 880.7,453.5 881.0,447.9 881.3,439.7 881.6,432.1 881.9,432.8 882.2,433.5 882.5,422.8 882.8,437.6 883.1,440.7 883.4,443.8 883.7,446.8 884.0,438.1 884.4,449.8 884.7,445.3 885.0,440.9 885.3,443.8 885.6,459.7 885.9,465.0 886.2,469.5 886.5,470.1 886.8,470.7 887.1,470.0 887.4,464.3 887.7,461.6 888.0,456.1 888.3,451.1 888.6,446.2 889.0,441.2 889.3,433.7 889.6,427.8 889.9,423.0 890.2,418.4 890.5,424.3 890.8,420.3 891.1,426.9 891.3,433.6 891.6,437.6 891.9,441.2 892.2,444.8 892.5,444.3 892.8,445.7 893.1,442.9 893.4,439.7 893.7,436.4 894.0,425.8 894.3,435.6 894.6,438.2 894.9,440.7 895.2,442.1 895.5,438.1 895.9,443.9 896.2,443.9 896.5,443.8 896.8,443.7 897.1,447.4 897.4,445.0 897.7,447.2 898.0,451.7 898.3,456.2 898.6,465.8 898.9,470.8 899.2,480.5 899.5,488.4 899.8,495.8 900.1,483.0 900.4,474.8 900.7,471.4 900.9,468.1 901.2,456.6 901.5,453.0 901.8,441.9 902.1,433.8 902.4,430.8 902.8,438.1 903.0,430.0 903.3,426.5 903.6,424.4 903.9,423.7 904.2,423.6 904.5,427.5 904.7,433.5 905.0,438.2 905.4,445.0 905.7,451.7 906.0,445.6 906.3,447.4 906.6,436.4 906.9,438.6 907.1,444.9 907.4,451.2 907.7,454.4 908.0,457.3 908.3,460.2 908.6,453.5 908.9,462.8 909.2,460.4 909.5,457.9 909.8,455.5 910.1,441.2 910.4,454.1 910.7,449.2 911.0,444.6 911.3,445.9 911.6,447.1 911.9,453.5 912.2,448.4 912.5,448.0 912.8,447.4 913.1,438.0 913.4,428.7 913.7,422.0 913.9,430.5 914.2,425.7 914.5,431.9 914.8,432.8 915.1,432.2 915.4,431.5 915.7,435.3 916.0,441.4 916.2,441.2 916.5,425.8 916.9,432.4 917.2,430.8 917.5,430.0 917.8,429.4 918.1,419.7 918.4,434.2 918.7,438.4 919.0,442.6 919.3,456.6 919.6,466.4 919.9,480.0 920.1,492.8 920.4,505.8 920.7,493.2 920.9,480.7 921.2,467.6 921.5,456.6 921.8,450.9 922.1,448.6 922.4,446.4 922.7,443.5 923.0,441.2 923.3,436.2 923.6,437.4 924.0,444.0 924.3,443.1 924.6,428.9 924.9,440.7 925.2,435.0 925.5,436.0 925.8,440.3 926.1,450.5 926.4,438.8 926.7,432.9 927.0,426.9 927.3,424.3 927.7,425.8 928.0,424.4 928.3,426.2 928.6,428.0 928.9,429.7 929.2,422.8 929.5,436.0 929.8,440.0 930.1,437.9 930.4,435.7 930.7,444.3 931.0,444.2 931.4,451.2 931.7,454.0 932.0,451.0 932.3,453.5 932.6,444.3 932.9,443.6 933.2,442.9 933.5,443.2 933.8,441.2 934.1,445.7 934.4,443.1 934.7,438.4 935.0,433.6 935.3,428.8 935.5,424.0 935.8,428.9 936.1,421.3 936.4,426.9 936.8,432.4 937.1,439.3 937.4,441.2 937.7,450.1 937.9,447.4 938.2,440.6 938.5,433.9 938.8,429.8 939.1,428.5 939.4,425.8 939.7,429.4 940.0,429.9 940.3,430.3 940.6,432.1 940.9,435.2 941.2,438.1 941.5,439.3 941.8,439.1 942.2,439.0 942.5,442.8 942.8,447.4 943.1,453.0 943.4,453.5 943.7,453.0 944.0,452.5 944.3,451.3 944.6,456.6 944.9,445.2 945.2,444.2 945.5,443.1 945.9,442.0 946.2,444.3 946.5,443.0 946.8,445.4 947.1,447.1 947.4,448.7 947.7,453.5 948.0,444.5 948.3,439.3 948.6,434.8 948.8,431.9 949.1,429.0 949.4,426.2 949.7,432.0 950.0,429.3 950.3,435.4 950.6,445.9 950.9,456.4 951.3,450.5 951.6,460.4 951.9,458.1 952.2,454.8 952.5,451.2 952.8,441.2 953.1,446.7 953.4,445.8 953.7,444.8 953.9,445.6 954.2,449.4 954.5,453.2 954.8,447.4 955.1,456.6 955.4,456.1 955.7,454.5 956.0,448.7 956.3,442.9 956.6,438.1 956.9,441.1 957.2,442.2 957.5,442.5 957.8,441.6 958.1,440.8 958.4,439.6 958.7,437.7 959.0,428.9 959.2,434.9 959.5,435.1 959.8,435.3 960.1,435.1 960.4,431.5 960.7,427.9 961.0,425.8 961.3,421.1 961.6,417.9 961.9,415.2 962.2,417.4 962.5,419.6 962.8,421.4 963.1,416.6 963.4,427.0 963.7,430.1 964.1,428.9 964.4,427.7 964.7,433.5 965.0,438.0 965.3,446.0 965.6,451.1 965.9,453.6 966.2,453.5 966.5,459.3 966.8,463.2 967.1,467.2 967.4,471.1 967.8,470.4 968.1,469.6 968.4,457.7 968.7,444.7 969.0,435.3 969.3,441.2 969.6,429.5 969.9,429.6 970.2,424.7 970.5,419.9 970.8,425.8 971.1,413.7 971.4,412.1 971.7,410.8 972.0,412.4 972.3,414.1 972.6,415.8 972.8,416.6 973.2,429.9 973.5,433.9 973.8,434.3 974.1,429.2 974.4,430.5 974.7,426.1 975.0,427.3 975.2,428.5 975.5,436.3 975.8,444.1 976.1,451.5 976.4,441.2 976.7,451.7 977.0,451.1 977.3,446.9 977.6,442.5 977.9,438.4 978.2,450.5 978.5,444.5 978.9,446.9 979.2,447.0 979.5,447.1 979.8,448.9 980.1,456.6 980.4,458.7 980.7,458.5 981.0,452.0 981.3,445.6 981.6,447.4 981.9,444.2 982.3,446.0 982.6,445.1 982.9,442.2 983.2,444.3 983.5,449.8 983.8,462.9 984.1,476.0 984.4,472.0 984.7,484.5 985.0,487.7 985.3,499.8 985.6,499.7 986.0,505.9 986.3,500.4 986.6,494.5 986.9,485.4 987.2,472.0 987.5,480.5 987.8,482.4 988.1,484.5 988.4,486.6 988.7,487.4 989.0,493.4 989.3,497.3 989.5,501.2 989.8,499.7 990.1,496.5 990.3,488.4 990.6,477.7 990.9,465.8 991.2,459.8 991.5,456.9 991.8,455.8 992.1,454.7 992.4,450.5 992.7,456.1 993.0,457.2 993.4,450.5 993.7,442.7 994.0,438.1 994.3,431.6 994.5,428.4 994.8,425.1 995.1,427.1 995.4,429.8 995.7,432.6 996.0,430.5 996.3,436.9 996.6,439.3 996.9,433.5 997.2,425.7 997.5,427.4 997.8,423.2 998.1,429.2 998.4,435.3 998.8,447.0 999.1,447.4 999.4,462.8 999.7,466.1 1000.0,463.8 1000.3,463.2 1000.6,465.8 1000.9,471.8 1001.2,472.2 1001.5,466.5 1001.8,463.9 1002.1,478.1 1002.5,472.7 1002.8,483.5 1003.1,492.3 1003.4,499.5 1003.7,496.6 1004.0,506.0 1004.3,502.2 1004.6,498.5 1004.9,497.9 1005.2,505.8 1005.5,496.5 1005.8,504.3 1006.2,513.1 1006.5,517.6 1006.8,505.8 1007.0,507.3 1007.3,498.0 1007.6,493.4 1007.9,487.4 1008.2,494.4 1008.5,495.7 1008.8,495.6 1009.1,495.5 1009.4,505.8 1009.7,497.3 1010.0,495.0 1010.3,494.8 1010.6,494.6 1010.9,487.4 1011.2,495.8 1011.6,497.3 1011.9,499.3 1012.2,505.8 1012.5,501.7 1012.8,499.7 1013.1,501.0 1013.4,502.2 1013.7,487.4 1014.0,493.0 1014.3,486.3 1014.6,476.5 1014.9,462.8 1015.3,453.4 1015.6,446.5 1015.9,442.4 1016.2,438.2 1016.5,441.2 1016.8,427.0 1017.1,424.5 1017.4,422.1 1017.7,423.9 1018.0,428.9 1018.3,426.7 1018.7,424.6 1019.0,422.5 1019.3,428.0 1019.6,433.5 1019.9,425.8 1020.2,433.4 1020.5,429.5 1020.8,429.1 1021.1,441.0 1021.4,447.4 1021.7,461.2 1022.0,463.8 1022.4,466.4 1022.7,467.9 1023.0,465.8 1023.3,465.9 1023.6,468.2 1023.9,473.8 1024.2,479.5 1024.5,475.1 1024.8,468.2 1025.1,470.7 1025.4,474.4 1025.7,484.3 1026.1,493.5 1026.4,504.9 1026.7,510.3 1027.0,514.0 1027.3,505.1 1027.6,505.5 1027.9,495.8 1028.2,486.4 1028.5,477.0 1028.8,475.1 1029.1,472.9 1029.4,476.5 1029.8,476.6 1030.1,468.8 1030.4,465.8 1030.7,459.8 1031.0,462.1 1031.3,464.3 1031.6,471.2 1031.9,478.1 1032.2,485.6 1032.5,480.9 1032.8,469.6 1033.1,458.2 1033.5,456.6 1033.8,451.5 1034.1,449.9 1034.4,446.8 1034.7,443.4 1035.0,441.2 1035.3,436.6 1035.6,433.2 1035.9,429.7 1036.2,425.8 1036.5,425.8 1036.8,429.1 1037.2,439.6 1037.5,450.1 1037.8,458.9 1038.1,462.8 1038.4,462.2 1038.7,463.3 1039.0,468.1 1039.3,468.9 1039.6,457.6 1039.9,437.9 1040.2,425.8 1040.6,411.8 1040.9,408.1 1041.2,404.4 1041.5,405.1 1041.8,402.3 1042.1,405.5 1042.4,411.9 1042.7,419.0 1043.0,425.8 1043.3,426.9 1043.6,427.4 1043.9,428.0 1044.3,430.7 1044.6,430.5 1044.9,438.0 1045.2,442.2 1045.5,446.5 1045.8,449.3 1046.1,444.3 1046.4,448.4 1046.7,452.5 1047.0,463.7 1047.3,473.3 1047.6,465.8 1048.0,473.4 1048.3,468.8 1048.6,471.8 1048.9,480.5 1049.2,489.1 1049.5,499.7 1049.8,502.7 1050.1,501.6 1050.4,495.8 1050.7,483.6 1051.0,475.1 1051.3,464.7 1051.7,458.3 1052.0,452.2 1052.3,448.7 1052.6,456.6 1052.9,444.0 1053.2,446.4 1053.5,448.8 1053.8,449.7 1054.1,444.3 1054.4,440.5 1054.7,438.0 1055.0,441.0 1055.4,442.5 1055.7,427.4 1056.0,438.2 1056.2,435.5 1056.5,434.8 1056.8,437.7 1057.1,440.6 1057.4,444.0 1057.7,455.1 1058.0,446.5 1058.3,443.7 1058.6,440.6 1058.9,437.6 1059.2,435.1 1059.5,438.1 1059.8,441.9 1060.1,444.9 1060.4,447.1 1060.8,453.5 1061.1,448.4 1061.4,450.3 1061.7,452.2 1062.0,452.3 1062.3,438.1 1062.6,454.2 1062.9,458.5 1063.2,462.0 1063.5,463.4 1063.8,459.7 1064.1,447.1 1064.5,440.5 1064.8,436.8 1065.1,433.1 1065.4,441.2 1065.7,430.4 1066.0,429.3 1066.3,428.8 1066.6,423.5 1066.9,437.8 1067.2,440.3 1067.5,439.8 1067.8,435.9 1068.1,433.1 1068.3,439.2 1068.6,441.1 1068.9,450.4 1069.2,440.4 1069.5,434.7 1069.8,436.5 1070.1,438.3 1070.4,440.2 1070.7,453.7 1070.9,454.6 1071.2,460.4 1071.5,466.3 1071.8,469.6 1072.1,471.5 1072.3,473.5 1072.6,474.2 1072.9,473.6 1073.2,468.9 1073.5,470.0 1073.7,469.6 1074.0,469.3 1074.3,468.8 1074.6,466.6 1074.9,464.4 1075.1,462.2 1075.4,461.3 1075.7,453.7"/>
</g>
<path d="M237.2 338.3V562.6M348.7 338.3V562.6M460.2 338.3V562.6M571.7 338.3V562.6M683.3 338.3V562.6M839.4 338.3V562.6M928.6 338.3V562.6M1040.1 338.3V562.6" stroke="#000" stroke-width="2.2" fill="none"/>
<rect x="835.5" y="507.4" width="311.1" height="51.5" rx="1.2" fill="#000"/><rect x="835.5" y="507.4" width="309.5" height="49.9" fill="#fff" stroke="#000" stroke-width="2.2"/><path d="M842.3 526.2H879.5" stroke="#00c400" stroke-width="2.6"/><text transform="translate(882.0 537.4) scale(1.04 1)" font-family="'Liberation Serif','Times New Roman',serif" font-style="italic" font-size="24.3">Buoy</text><path d="M947.5 526.2H984.4" stroke="#000" stroke-width="2.6"/><text transform="translate(984.5 536.4) scale(1.04 1)" font-family="'Liberation Serif','Times New Roman',serif" font-style="italic" font-size="24.3">NSCS</text><path d="M1047.2 526.2H1083.8" stroke="#ff0000" stroke-width="2.6"/><text transform="translate(1086.0 538.2) scale(1.04 1)" font-family="'Liberation Serif','Times New Roman',serif" font-style="italic" font-size="24.3">PRE</text>
<path d="M148.0 338.3H1151.6V562.6H148.0ZM137.7 338.3H148.0M1151.6 338.3H1161.6M142.0 357.0H148.0M1151.6 357.0H1156.1M137.7 375.7H148.0M1151.6 375.7H1161.6M142.0 394.4H148.0M1151.6 394.4H1156.1M137.7 413.1H148.0M1151.6 413.1H1161.6M142.0 431.8H148.0M1151.6 431.8H1156.1M137.7 450.5H148.0M1151.6 450.5H1161.6M142.0 469.1H148.0M1151.6 469.1H1156.1M137.7 487.8H148.0M1151.6 487.8H1161.6M142.0 506.5H148.0M1151.6 506.5H1156.1M137.7 525.2H148.0M1151.6 525.2H1161.6M142.0 543.9H148.0M1151.6 543.9H1156.1M137.7 562.6H148.0M1151.6 562.6H1161.6M148.0 328.8V338.3M148.0 562.6V573.1M159.2 333.8V338.3M159.2 562.6V567.6M170.3 328.8V338.3M170.3 562.6V573.1M181.5 333.8V338.3M181.5 562.6V567.6M192.6 328.8V338.3M192.6 562.6V573.1M203.8 333.8V338.3M203.8 562.6V567.6M214.9 328.8V338.3M214.9 562.6V573.1M226.1 333.8V338.3M226.1 562.6V567.6M237.2 328.8V338.3M237.2 562.6V573.1M248.4 333.8V338.3M248.4 562.6V567.6M259.5 328.8V338.3M259.5 562.6V573.1M270.7 333.8V338.3M270.7 562.6V567.6M281.8 328.8V338.3M281.8 562.6V573.1M293.0 333.8V338.3M293.0 562.6V567.6M304.1 328.8V338.3M304.1 562.6V573.1M315.3 333.8V338.3M315.3 562.6V567.6M326.4 328.8V338.3M326.4 562.6V573.1M337.6 333.8V338.3M337.6 562.6V567.6M348.7 328.8V338.3M348.7 562.6V573.1M359.9 333.8V338.3M359.9 562.6V567.6M371.0 328.8V338.3M371.0 562.6V573.1M382.2 333.8V338.3M382.2 562.6V567.6M393.3 328.8V338.3M393.3 562.6V573.1M404.5 333.8V338.3M404.5 562.6V567.6M415.6 328.8V338.3M415.6 562.6V573.1M426.8 333.8V338.3M426.8 562.6V567.6M437.9 328.8V338.3M437.9 562.6V573.1M449.1 333.8V338.3M449.1 562.6V567.6M460.2 328.8V338.3M460.2 562.6V573.1M471.4 333.8V338.3M471.4 562.6V567.6M482.5 328.8V338.3M482.5 562.6V573.1M493.7 333.8V338.3M493.7 562.6V567.6M504.8 328.8V338.3M504.8 562.6V573.1M516.0 333.8V338.3M516.0 562.6V567.6M527.1 328.8V338.3M527.1 562.6V573.1M538.3 333.8V338.3M538.3 562.6V567.6M549.4 328.8V338.3M549.4 562.6V573.1M560.6 333.8V338.3M560.6 562.6V567.6M571.7 328.8V338.3M571.7 562.6V573.1M582.9 333.8V338.3M582.9 562.6V567.6M594.0 328.8V338.3M594.0 562.6V573.1M605.2 333.8V338.3M605.2 562.6V567.6M616.3 328.8V338.3M616.3 562.6V573.1M627.5 333.8V338.3M627.5 562.6V567.6M638.6 328.8V338.3M638.6 562.6V573.1M649.8 333.8V338.3M649.8 562.6V567.6M661.0 328.8V338.3M661.0 562.6V573.1M672.1 333.8V338.3M672.1 562.6V567.6M683.3 328.8V338.3M683.3 562.6V573.1M694.4 333.8V338.3M694.4 562.6V567.6M705.6 328.8V338.3M705.6 562.6V573.1M716.7 333.8V338.3M716.7 562.6V567.6M727.9 328.8V338.3M727.9 562.6V573.1M739.0 333.8V338.3M739.0 562.6V567.6M750.2 328.8V338.3M750.2 562.6V573.1M761.3 333.8V338.3M761.3 562.6V567.6M772.5 328.8V338.3M772.5 562.6V573.1M783.6 333.8V338.3M783.6 562.6V567.6M794.8 328.8V338.3M794.8 562.6V573.1M805.9 333.8V338.3M805.9 562.6V567.6M817.1 328.8V338.3M817.1 562.6V573.1M828.2 333.8V338.3M828.2 562.6V567.6M839.4 328.8V338.3M839.4 562.6V573.1M850.5 333.8V338.3M850.5 562.6V567.6M861.7 328.8V338.3M861.7 562.6V573.1M872.8 333.8V338.3M872.8 562.6V567.6M884.0 328.8V338.3M884.0 562.6V573.1M895.1 333.8V338.3M895.1 562.6V567.6M906.3 328.8V338.3M906.3 562.6V573.1M917.4 333.8V338.3M917.4 562.6V567.6M928.6 328.8V338.3M928.6 562.6V573.1M939.7 333.8V338.3M939.7 562.6V567.6M950.9 328.8V338.3M950.9 562.6V573.1M962.0 333.8V338.3M962.0 562.6V567.6M973.2 328.8V338.3M973.2 562.6V573.1M984.3 333.8V338.3M984.3 562.6V567.6M995.5 328.8V338.3M995.5 562.6V573.1M1006.6 333.8V338.3M1006.6 562.6V567.6M1017.8 328.8V338.3M1017.8 562.6V573.1M1028.9 333.8V338.3M1028.9 562.6V567.6M1040.1 328.8V338.3M1040.1 562.6V573.1M1051.2 333.8V338.3M1051.2 562.6V567.6M1062.4 328.8V338.3M1062.4 562.6V573.1M1073.5 333.8V338.3M1073.5 562.6V567.6M1084.7 328.8V338.3M1084.7 562.6V573.1M1095.8 333.8V338.3M1095.8 562.6V567.6M1107.0 328.8V338.3M1107.0 562.6V573.1M1118.1 333.8V338.3M1118.1 562.6V567.6M1129.3 328.8V338.3M1129.3 562.6V573.1M1140.4 333.8V338.3M1140.4 562.6V567.6M1151.6 328.8V338.3M1151.6 562.6V573.1" stroke="#000" stroke-width="2.6" fill="none" stroke-linecap="butt"/>
<text transform="translate(147.7 601.6) scale(0.93 1)" text-anchor="middle" font-size="29.0">7-01</text><text transform="translate(236.9 601.6) scale(0.93 1)" text-anchor="middle" font-size="29.0">7-05</text><text transform="translate(348.4 601.6) scale(0.93 1)" text-anchor="middle" font-size="29.0">7-10</text><text transform="translate(459.9 601.6) scale(0.93 1)" text-anchor="middle" font-size="29.0">7-15</text><text transform="translate(571.4 601.6) scale(0.93 1)" text-anchor="middle" font-size="29.0">7-20</text><text transform="translate(683.0 601.6) scale(0.93 1)" text-anchor="middle" font-size="29.0">7-25</text><text transform="translate(839.1 601.6) scale(0.93 1)" text-anchor="middle" font-size="29.0">8-01</text><text transform="translate(928.3 601.6) scale(0.93 1)" text-anchor="middle" font-size="29.0">8-05</text><text transform="translate(1039.8 601.6) scale(0.93 1)" text-anchor="middle" font-size="29.0">8-10</text><text transform="translate(1151.3 601.6) scale(0.93 1)" text-anchor="middle" font-size="29.0">8-15</text><text transform="translate(133.7 348.8) scale(0.93 1)" text-anchor="end" font-size="29.0">0.6</text><text transform="translate(133.7 386.2) scale(0.93 1)" text-anchor="end" font-size="29.0">0.4</text><text transform="translate(133.7 423.6) scale(0.93 1)" text-anchor="end" font-size="29.0">0.2</text><text transform="translate(133.7 461.0) scale(0.93 1)" text-anchor="end" font-size="29.0">0</text><text transform="translate(133.7 498.3) scale(0.93 1)" text-anchor="end" font-size="29.0">-0.2</text><text transform="translate(133.7 535.7) scale(0.93 1)" text-anchor="end" font-size="29.0">-0.4</text><text transform="translate(133.7 573.1) scale(0.93 1)" text-anchor="end" font-size="29.0">-0.6</text>
<text transform="translate(650.4 620.5) scale(0.93 1)" text-anchor="middle" font-size="29.0">2015</text>
<text transform="translate(17.2 353.4) scale(1.01 1)" font-weight="bold" font-size="37">(b)</text>
<text transform="translate(75.6 532.0) rotate(-90) scale(1.054 1)" font-size="26">velocity (m/s)</text>
</g>
<g>
<path d="M143.9 668.4H1145.6M143.9 705.8H1145.6M143.9 743.3H1145.6M143.9 780.8H1145.6M143.9 818.2H1145.6M232.9 631.6V855.7M344.2 631.6V855.7M455.5 631.6V855.7M566.8 631.6V855.7M678.1 631.6V855.7M834.0 631.6V855.7M923.0 631.6V855.7M1034.3 631.6V855.7" stroke="#858585" stroke-width="1.45" stroke-dasharray="1.2 1.3" fill="none"/>
<g fill="none" stroke-linejoin="round" stroke-linecap="butt" stroke-width="7">
<polyline stroke="#000" points="143.9,760.9 166.2,760.2 188.4,753.6 210.7,744.8 232.9,730.2 255.2,713.9 277.5,707.9 299.7,702.1 322.0,706.4 344.2,707.7 366.5,728.5 388.8,748.9 411.0,755.7 433.3,748.9 455.5,746.3 477.8,740.3 500.1,734.5 522.3,724.6 544.6,710.9 566.8,722.7 589.1,762.0 611.4,755.1 633.6,751.5 655.9,754.5 678.1,757.3 700.4,759.4 722.7,763.0 744.9,763.9 767.2,762.0 789.4,758.7 811.7,752.1 834.0,745.7 856.2,740.3 878.5,739.7 900.7,737.5 923.0,733.0 945.3,727.2 967.5,722.7 989.8,722.1 1012.0,748.9 1034.3,766.9 1056.6,763.0 1078.8,762.0 1101.1,762.0 1123.3,763.0 1145.6,766.2"/>
<polyline stroke="#ff0000" points="143.9,754.5 166.2,752.7 188.4,747.8 210.7,740.3 232.9,731.5 255.2,722.7 277.5,715.4 299.7,711.5 322.0,717.1 344.2,722.1 366.5,735.4 388.8,746.3 411.0,753.6 433.3,755.1 455.5,752.1 477.8,746.9 500.1,739.7 522.3,733.0 544.6,730.2 566.8,733.0 589.1,744.2 611.4,744.2 633.6,746.9 655.9,748.5 678.1,750.8 700.4,752.7 722.7,755.1 744.9,757.2 767.2,758.1 789.4,757.7 811.7,753.6 834.0,747.8 856.2,741.8 878.5,737.5 900.7,731.5 923.0,726.3 945.3,721.8 967.5,721.8 989.8,727.9 1012.0,737.5 1034.3,749.1 1056.6,758.1 1078.8,763.3 1101.1,766.0 1123.3,766.9 1145.6,767.3"/>
</g>
<g fill="#00c400"><circle cx="143.9" cy="781.5" r="8.6"/><circle cx="166.2" cy="781.5" r="8.6"/><circle cx="188.4" cy="769.1" r="8.6"/><circle cx="210.7" cy="758.1" r="8.6"/><circle cx="232.9" cy="737.5" r="8.6"/><circle cx="255.2" cy="722.7" r="8.6"/><circle cx="277.5" cy="706.2" r="8.6"/><circle cx="299.7" cy="696.8" r="8.6"/><circle cx="322.0" cy="707.3" r="8.6"/><circle cx="344.2" cy="707.3" r="8.6"/><circle cx="366.5" cy="715.4" r="8.6"/><circle cx="388.8" cy="744.8" r="8.6"/><circle cx="411.0" cy="750.6" r="8.6"/><circle cx="433.3" cy="741.2" r="8.6"/><circle cx="455.5" cy="741.2" r="8.6"/><circle cx="477.8" cy="735.4" r="8.6"/><circle cx="500.1" cy="733.6" r="8.6"/><circle cx="522.3" cy="721.2" r="8.6"/><circle cx="544.6" cy="706.4" r="8.6"/><circle cx="566.8" cy="733.9" r="8.6"/><circle cx="589.1" cy="780.9" r="8.6"/><circle cx="611.4" cy="777.8" r="8.6"/><circle cx="633.6" cy="773.6" r="8.6"/><circle cx="655.9" cy="772.1" r="8.6"/><circle cx="678.1" cy="769.0" r="8.6"/><circle cx="700.4" cy="769.1" r="8.6"/><circle cx="722.7" cy="770.5" r="8.6"/><circle cx="744.9" cy="770.5" r="8.6"/><circle cx="767.2" cy="769.9" r="8.6"/><circle cx="789.4" cy="763.9" r="8.6"/><circle cx="811.7" cy="754.5" r="8.6"/><circle cx="834.0" cy="747.0" r="8.6"/><circle cx="856.2" cy="742.2" r="8.6"/><circle cx="878.5" cy="741.2" r="8.6"/><circle cx="900.7" cy="741.8" r="8.6"/><circle cx="923.0" cy="738.8" r="8.6"/><circle cx="945.3" cy="731.5" r="8.6"/><circle cx="967.5" cy="719.7" r="8.6"/><circle cx="989.8" cy="693.9" r="8.6"/><circle cx="1012.0" cy="694.6" r="8.6"/><circle cx="1034.3" cy="733.2" r="8.6"/><circle cx="1056.6" cy="738.8" r="8.6"/><circle cx="1078.8" cy="755.1" r="8.6"/><circle cx="1101.1" cy="754.0" r="8.6"/><circle cx="1123.3" cy="748.7" r="8.6"/></g>
<rect x="827.8" y="800.3" width="312.8" height="50.8" rx="1.2" fill="#000"/><rect x="827.8" y="800.3" width="311.2" height="49.2" fill="#fff" stroke="#000" stroke-width="2.2"/><circle cx="854.3" cy="819.2" r="3.7" fill="#00c400"/><text transform="translate(876.5 828.5) scale(1.04 1)" font-family="'Liberation Serif','Times New Roman',serif" font-style="italic" font-size="24.3">WGL</text><path d="M941.8 819.5H977.0" stroke="#000" stroke-width="6.5"/><text transform="translate(978.0 828.5) scale(1.04 1)" font-family="'Liberation Serif','Times New Roman',serif" font-style="italic" font-size="24.3">NSCS</text><path d="M1040.7 819.5H1076.8" stroke="#ff0000" stroke-width="6.5"/><text transform="translate(1080.0 830.0) scale(1.04 1)" font-family="'Liberation Serif','Times New Roman',serif" font-style="italic" font-size="24.3">PRE</text>
<path d="M143.9 631.6H1145.6V855.7H143.9ZM133.6 631.6H143.9M1145.6 631.6H1155.6M138.1 649.6H143.9M1145.6 649.6H1150.1M133.6 668.4H143.9M1145.6 668.4H1155.6M138.1 687.1H143.9M1145.6 687.1H1150.1M133.6 705.8H143.9M1145.6 705.8H1155.6M138.1 724.6H143.9M1145.6 724.6H1150.1M133.6 743.3H143.9M1145.6 743.3H1155.6M138.1 762.0H143.9M1145.6 762.0H1150.1M133.6 780.8H143.9M1145.6 780.8H1155.6M138.1 799.5H143.9M1145.6 799.5H1150.1M133.6 818.2H143.9M1145.6 818.2H1155.6M138.1 836.9H143.9M1145.6 836.9H1150.1M133.6 855.7H143.9M1145.6 855.7H1155.6M143.9 621.1V631.6M143.9 855.7V866.2M188.4 626.6V631.6M188.4 855.7V860.7M232.9 621.1V631.6M232.9 855.7V866.2M255.2 626.6V631.6M255.2 855.7V860.7M277.5 626.6V631.6M277.5 855.7V860.7M299.7 626.6V631.6M299.7 855.7V860.7M322.0 626.6V631.6M322.0 855.7V860.7M344.2 621.1V631.6M344.2 855.7V866.2M366.5 626.6V631.6M366.5 855.7V860.7M388.8 626.6V631.6M388.8 855.7V860.7M411.0 626.6V631.6M411.0 855.7V860.7M433.3 626.6V631.6M433.3 855.7V860.7M455.5 621.1V631.6M455.5 855.7V866.2M477.8 626.6V631.6M477.8 855.7V860.7M500.1 626.6V631.6M500.1 855.7V860.7M522.3 626.6V631.6M522.3 855.7V860.7M544.6 626.6V631.6M544.6 855.7V860.7M566.8 621.1V631.6M566.8 855.7V866.2M589.1 626.6V631.6M589.1 855.7V860.7M611.4 626.6V631.6M611.4 855.7V860.7M633.6 626.6V631.6M633.6 855.7V860.7M655.9 626.6V631.6M655.9 855.7V860.7M678.1 621.1V631.6M678.1 855.7V866.2M709.3 626.6V631.6M709.3 855.7V860.7M740.5 626.6V631.6M740.5 855.7V860.7M771.6 626.6V631.6M771.6 855.7V860.7M802.8 626.6V631.6M802.8 855.7V860.7M834.0 621.1V631.6M834.0 855.7V866.2M878.5 626.6V631.6M878.5 855.7V860.7M923.0 621.1V631.6M923.0 855.7V866.2M945.3 626.6V631.6M945.3 855.7V860.7M967.5 626.6V631.6M967.5 855.7V860.7M989.8 626.6V631.6M989.8 855.7V860.7M1012.0 626.6V631.6M1012.0 855.7V860.7M1034.3 621.1V631.6M1034.3 855.7V866.2M1056.6 626.6V631.6M1056.6 855.7V860.7M1078.8 626.6V631.6M1078.8 855.7V860.7M1101.1 626.6V631.6M1101.1 855.7V860.7M1123.3 626.6V631.6M1123.3 855.7V860.7M1145.6 621.1V631.6M1145.6 855.7V866.2" stroke="#000" stroke-width="2.6" fill="none" stroke-linecap="butt"/>
<text transform="translate(143.6 893.8) scale(0.93 1)" text-anchor="middle" font-size="29.0">7-01</text><text transform="translate(232.6 893.8) scale(0.93 1)" text-anchor="middle" font-size="29.0">7-05</text><text transform="translate(343.9 893.8) scale(0.93 1)" text-anchor="middle" font-size="29.0">7-10</text><text transform="translate(455.2 893.8) scale(0.93 1)" text-anchor="middle" font-size="29.0">7-15</text><text transform="translate(566.5 893.8) scale(0.93 1)" text-anchor="middle" font-size="29.0">7-20</text><text transform="translate(677.8 893.8) scale(0.93 1)" text-anchor="middle" font-size="29.0">7-25</text><text transform="translate(833.7 893.8) scale(0.93 1)" text-anchor="middle" font-size="29.0">8-01</text><text transform="translate(922.7 893.8) scale(0.93 1)" text-anchor="middle" font-size="29.0">8-05</text><text transform="translate(1034.0 893.8) scale(0.93 1)" text-anchor="middle" font-size="29.0">8-10</text><text transform="translate(1145.3 893.8) scale(0.93 1)" text-anchor="middle" font-size="29.0">8-15</text><text transform="translate(129.6 642.1) scale(0.93 1)" text-anchor="end" font-size="29.0">0.6</text><text transform="translate(129.6 678.9) scale(0.93 1)" text-anchor="end" font-size="29.0">0.4</text><text transform="translate(129.6 716.3) scale(0.93 1)" text-anchor="end" font-size="29.0">0.2</text><text transform="translate(129.6 753.8) scale(0.93 1)" text-anchor="end" font-size="29.0">0</text><text transform="translate(129.6 791.3) scale(0.93 1)" text-anchor="end" font-size="29.0">-0.2</text><text transform="translate(129.6 828.7) scale(0.93 1)" text-anchor="end" font-size="29.0">-0.4</text><text transform="translate(129.6 866.2) scale(0.93 1)" text-anchor="end" font-size="29.0">-0.6</text>
<text transform="translate(10.9 634.0) scale(1.01 1)" font-weight="bold" font-size="37">(c)</text>
<text transform="translate(72.1 874.3) rotate(-90) scale(1.054 1)" font-size="26">residual elevation (m)</text>
</g>
</svg>
</body></html>
